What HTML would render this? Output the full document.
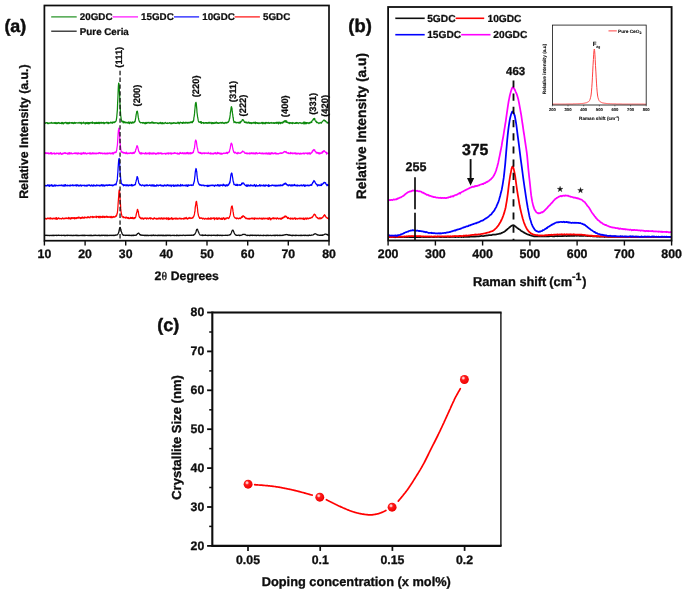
<!DOCTYPE html>
<html lang="en"><head><meta charset="utf-8"><title>Figure</title>
<style>html,body{margin:0;padding:0;background:#fff;}body{width:685px;height:593px;overflow:hidden;}svg{display:block;font-family:"Liberation Sans",sans-serif;font-weight:bold;}text{font-family:"Liberation Sans",sans-serif;font-weight:bold;text-rendering:geometricPrecision;}</style></head><body>
<svg width="685" height="593" viewBox="0 0 685 593">
<defs><filter id="soft" x="-2%" y="-2%" width="104%" height="104%"><feGaussianBlur stdDeviation="0.6"/></filter><radialGradient id="ball" cx="38%" cy="34%" r="66%"><stop offset="0" stop-color="#fff0f0"/><stop offset="0.16" stop-color="#ffb0b0"/><stop offset="0.34" stop-color="#ff1c1c"/><stop offset="1" stop-color="#ee0000"/></radialGradient></defs>
<rect width="685" height="593" fill="#ffffff"/>
<g filter="url(#soft)">
<g id="panel-a">
<path d="M44.4,123.1 L44.7,122.8 L44.9,123.1 L45.2,123.1 L45.4,123.3 L45.7,123.1 L46.0,122.6 L46.2,122.8 L46.5,122.6 L46.7,122.9 L47.0,122.9 L47.2,122.9 L47.5,123.6 L47.8,122.7 L48.0,122.8 L48.3,122.8 L48.5,123.6 L48.8,123.6 L49.1,123.3 L49.3,123.2 L49.6,122.9 L49.8,123.0 L50.1,122.8 L50.4,123.2 L50.6,122.9 L50.9,122.9 L51.1,123.2 L51.4,122.4 L51.6,122.8 L51.9,122.6 L52.2,123.2 L52.4,123.3 L52.7,123.1 L52.9,123.0 L53.2,122.8 L53.5,122.9 L53.7,123.2 L54.0,123.3 L54.2,123.2 L54.5,122.6 L54.7,123.3 L55.0,122.9 L55.3,122.8 L55.5,123.5 L55.8,123.0 L56.0,122.5 L56.3,123.7 L56.6,123.1 L56.8,123.0 L57.1,123.3 L57.3,122.8 L57.6,123.0 L57.9,123.5 L58.1,122.7 L58.4,122.8 L58.6,122.7 L58.9,122.5 L59.1,122.9 L59.4,122.9 L59.7,123.5 L59.9,122.8 L60.2,123.2 L60.4,123.2 L60.7,123.4 L61.0,123.3 L61.2,123.2 L61.5,122.5 L61.7,123.7 L62.0,123.5 L62.3,122.9 L62.5,122.5 L62.8,122.8 L63.0,123.7 L63.3,123.9 L63.5,122.9 L63.8,123.3 L64.1,123.4 L64.3,122.6 L64.6,122.6 L64.8,122.9 L65.1,122.9 L65.4,122.8 L65.6,122.4 L65.9,122.8 L66.1,122.8 L66.4,122.8 L66.7,123.6 L66.9,122.5 L67.2,122.6 L67.4,122.8 L67.7,123.7 L67.9,123.2 L68.2,122.7 L68.5,123.6 L68.7,123.1 L69.0,122.6 L69.2,123.5 L69.5,122.4 L69.8,122.8 L70.0,123.0 L70.3,122.9 L70.5,122.8 L70.8,122.9 L71.0,122.6 L71.3,123.2 L71.6,123.1 L71.8,122.6 L72.1,123.0 L72.3,123.3 L72.6,122.6 L72.9,122.5 L73.1,123.1 L73.4,123.5 L73.6,123.0 L73.9,123.0 L74.2,123.1 L74.4,122.5 L74.7,123.4 L74.9,122.5 L75.2,123.4 L75.4,123.3 L75.7,122.8 L76.0,122.6 L76.2,122.7 L76.5,122.9 L76.7,122.9 L77.0,122.9 L77.3,122.8 L77.5,123.0 L77.8,122.9 L78.0,122.8 L78.3,123.0 L78.6,122.7 L78.8,122.8 L79.1,122.3 L79.3,122.9 L79.6,123.1 L79.8,123.1 L80.1,123.0 L80.4,122.7 L80.6,123.1 L80.9,122.8 L81.1,122.3 L81.4,123.9 L81.7,123.4 L81.9,122.9 L82.2,122.8 L82.4,122.9 L82.7,123.1 L83.0,122.7 L83.2,122.9 L83.5,123.2 L83.7,122.1 L84.0,122.9 L84.2,123.2 L84.5,123.0 L84.8,123.1 L85.0,123.0 L85.3,124.0 L85.5,123.2 L85.8,122.6 L86.1,123.4 L86.3,123.0 L86.6,122.6 L86.8,122.7 L87.1,122.4 L87.3,123.6 L87.6,123.1 L87.9,123.1 L88.1,122.8 L88.4,122.6 L88.6,123.9 L88.9,122.6 L89.2,123.5 L89.4,122.7 L89.7,123.5 L89.9,122.9 L90.2,122.5 L90.5,123.0 L90.7,122.9 L91.0,122.7 L91.2,122.9 L91.5,123.0 L91.7,122.4 L92.0,122.6 L92.3,123.1 L92.5,122.0 L92.8,123.4 L93.0,122.6 L93.3,123.1 L93.6,122.9 L93.8,122.7 L94.1,122.9 L94.3,122.7 L94.6,123.5 L94.9,123.5 L95.1,122.7 L95.4,123.3 L95.6,123.3 L95.9,123.5 L96.1,122.5 L96.4,122.7 L96.7,122.4 L96.9,123.3 L97.2,123.0 L97.4,123.4 L97.7,122.7 L98.0,122.4 L98.2,123.3 L98.5,122.4 L98.7,122.6 L99.0,123.0 L99.3,123.7 L99.5,122.4 L99.8,123.0 L100.0,123.2 L100.3,122.8 L100.5,122.8 L100.8,122.4 L101.1,123.3 L101.3,122.5 L101.6,122.4 L101.8,122.4 L102.1,123.0 L102.4,123.2 L102.6,122.6 L102.9,122.9 L103.1,122.9 L103.4,122.4 L103.6,123.0 L103.9,123.7 L104.2,123.0 L104.4,123.6 L104.7,122.6 L104.9,122.8 L105.2,123.1 L105.5,122.9 L105.7,122.6 L106.0,122.9 L106.2,122.4 L106.5,122.9 L106.8,122.5 L107.0,122.3 L107.3,122.3 L107.5,123.1 L107.8,122.5 L108.0,123.5 L108.3,123.2 L108.6,123.5 L108.8,122.4 L109.1,123.2 L109.3,122.8 L109.6,122.8 L109.9,122.8 L110.1,123.0 L110.4,122.7 L110.6,122.1 L110.9,122.7 L111.2,122.5 L111.4,122.3 L111.7,122.7 L111.9,123.1 L112.2,122.8 L112.4,122.2 L112.7,123.1 L113.0,122.7 L113.2,122.1 L113.5,122.1 L113.7,122.3 L114.0,121.9 L114.3,122.1 L114.5,122.5 L114.8,122.5 L115.0,122.0 L115.3,121.3 L115.6,121.6 L115.8,121.3 L116.1,120.7 L116.3,120.1 L116.6,118.2 L116.8,116.4 L117.1,112.9 L117.4,109.7 L117.6,103.6 L117.9,98.0 L118.1,92.3 L118.4,86.1 L118.7,83.1 L118.9,83.6 L119.2,86.0 L119.4,90.7 L119.7,97.0 L119.9,102.6 L120.2,107.9 L120.5,112.2 L120.7,115.5 L121.0,117.4 L121.2,119.1 L121.5,120.1 L121.8,121.6 L122.0,121.0 L122.3,121.1 L122.5,121.9 L122.8,122.1 L123.1,121.3 L123.3,122.8 L123.6,122.0 L123.8,121.4 L124.1,122.7 L124.3,122.1 L124.6,121.8 L124.9,122.5 L125.1,122.3 L125.4,122.2 L125.6,122.9 L125.9,122.6 L126.2,122.5 L126.4,122.3 L126.7,122.7 L126.9,122.7 L127.2,123.0 L127.5,122.8 L127.7,122.4 L128.0,122.7 L128.2,123.0 L128.5,123.0 L128.7,121.8 L129.0,122.3 L129.3,122.5 L129.5,123.7 L129.8,122.5 L130.0,122.6 L130.3,122.1 L130.6,122.6 L130.8,122.8 L131.1,122.5 L131.3,123.4 L131.6,122.3 L131.8,122.6 L132.1,122.9 L132.4,122.2 L132.6,122.0 L132.9,123.1 L133.1,122.8 L133.4,122.4 L133.7,122.4 L133.9,122.5 L134.2,122.6 L134.4,121.3 L134.7,121.4 L135.0,121.7 L135.2,121.1 L135.5,119.0 L135.7,117.9 L136.0,115.9 L136.2,114.4 L136.5,113.2 L136.8,111.3 L137.0,111.5 L137.3,111.2 L137.5,112.0 L137.8,113.5 L138.1,115.8 L138.3,117.4 L138.6,118.7 L138.8,119.9 L139.1,120.7 L139.4,121.5 L139.6,122.1 L139.9,121.9 L140.1,122.3 L140.4,122.8 L140.6,122.8 L140.9,122.6 L141.2,122.7 L141.4,122.6 L141.7,122.7 L141.9,122.7 L142.2,122.8 L142.5,123.2 L142.7,122.6 L143.0,122.4 L143.2,122.7 L143.5,122.9 L143.8,122.7 L144.0,123.2 L144.3,123.5 L144.5,122.8 L144.8,123.2 L145.0,122.6 L145.3,123.3 L145.6,123.8 L145.8,123.3 L146.1,122.3 L146.3,123.0 L146.6,123.4 L146.9,123.2 L147.1,122.7 L147.4,122.7 L147.6,122.9 L147.9,122.4 L148.1,122.7 L148.4,122.9 L148.7,122.7 L148.9,122.3 L149.2,122.6 L149.4,122.6 L149.7,123.3 L150.0,123.0 L150.2,122.7 L150.5,123.0 L150.7,122.6 L151.0,122.7 L151.3,122.6 L151.5,123.0 L151.8,122.0 L152.0,122.5 L152.3,123.0 L152.5,122.9 L152.8,122.0 L153.1,123.1 L153.3,122.6 L153.6,122.6 L153.8,123.0 L154.1,123.4 L154.4,122.9 L154.6,122.8 L154.9,122.6 L155.1,122.7 L155.4,123.0 L155.7,122.7 L155.9,122.8 L156.2,122.9 L156.4,122.9 L156.7,123.1 L156.9,122.7 L157.2,123.3 L157.5,123.2 L157.7,123.0 L158.0,123.5 L158.2,123.1 L158.5,123.7 L158.8,123.2 L159.0,122.8 L159.3,122.8 L159.5,123.0 L159.8,123.1 L160.1,123.5 L160.3,122.3 L160.6,122.8 L160.8,122.6 L161.1,123.3 L161.3,123.0 L161.6,123.6 L161.9,122.7 L162.1,122.6 L162.4,123.7 L162.6,123.0 L162.9,122.7 L163.2,123.6 L163.4,123.6 L163.7,123.4 L163.9,123.2 L164.2,123.5 L164.4,123.0 L164.7,122.9 L165.0,122.7 L165.2,122.7 L165.5,122.4 L165.7,122.6 L166.0,123.4 L166.3,123.2 L166.5,123.4 L166.8,123.4 L167.0,123.0 L167.3,123.0 L167.6,122.8 L167.8,123.5 L168.1,123.4 L168.3,123.0 L168.6,123.0 L168.8,123.1 L169.1,123.0 L169.4,123.2 L169.6,122.7 L169.9,122.8 L170.1,123.0 L170.4,123.2 L170.7,123.0 L170.9,123.9 L171.2,123.3 L171.4,123.0 L171.7,123.5 L172.0,122.9 L172.2,122.9 L172.5,123.5 L172.7,123.1 L173.0,123.1 L173.2,122.8 L173.5,122.7 L173.8,123.0 L174.0,123.3 L174.3,123.0 L174.5,123.0 L174.8,122.7 L175.1,122.9 L175.3,123.2 L175.6,123.4 L175.8,123.1 L176.1,123.2 L176.4,123.4 L176.6,123.0 L176.9,123.1 L177.1,122.9 L177.4,122.8 L177.6,123.1 L177.9,122.1 L178.2,123.1 L178.4,122.6 L178.7,122.9 L178.9,122.5 L179.2,123.8 L179.5,123.2 L179.7,122.9 L180.0,122.7 L180.2,122.1 L180.5,122.8 L180.7,122.5 L181.0,122.7 L181.3,122.6 L181.5,122.7 L181.8,123.0 L182.0,122.7 L182.3,123.3 L182.6,122.5 L182.8,123.3 L183.1,122.8 L183.3,122.2 L183.6,123.0 L183.9,122.9 L184.1,122.5 L184.4,122.9 L184.6,123.2 L184.9,122.8 L185.1,122.7 L185.4,122.6 L185.7,123.2 L185.9,122.2 L186.2,122.3 L186.4,122.9 L186.7,122.8 L187.0,123.0 L187.2,122.3 L187.5,123.1 L187.7,122.6 L188.0,123.0 L188.3,123.0 L188.5,122.5 L188.8,122.3 L189.0,122.8 L189.3,123.0 L189.5,122.4 L189.8,122.7 L190.1,122.5 L190.3,122.1 L190.6,122.2 L190.8,122.7 L191.1,121.7 L191.4,122.5 L191.6,122.1 L191.9,122.5 L192.1,122.2 L192.4,122.7 L192.7,121.2 L192.9,121.1 L193.2,121.5 L193.4,121.0 L193.7,120.0 L193.9,117.6 L194.2,116.3 L194.5,113.9 L194.7,111.3 L195.0,108.3 L195.2,105.9 L195.5,103.2 L195.8,102.6 L196.0,102.3 L196.3,103.7 L196.5,106.1 L196.8,109.2 L197.0,112.3 L197.3,114.5 L197.6,116.9 L197.8,117.9 L198.1,119.5 L198.3,120.7 L198.6,121.4 L198.9,121.9 L199.1,122.3 L199.4,122.2 L199.6,122.1 L199.9,122.1 L200.2,122.2 L200.4,121.7 L200.7,122.8 L200.9,122.6 L201.2,121.6 L201.4,123.3 L201.7,122.9 L202.0,122.6 L202.2,122.7 L202.5,122.6 L202.7,122.8 L203.0,122.6 L203.3,122.8 L203.5,122.5 L203.8,123.5 L204.0,123.1 L204.3,122.8 L204.6,123.2 L204.8,123.2 L205.1,122.6 L205.3,123.1 L205.6,122.6 L205.8,122.6 L206.1,122.8 L206.4,122.7 L206.6,122.9 L206.9,123.4 L207.1,122.9 L207.4,122.7 L207.7,123.1 L207.9,122.9 L208.2,122.6 L208.4,123.2 L208.7,122.7 L209.0,122.2 L209.2,123.1 L209.5,122.9 L209.7,123.0 L210.0,122.4 L210.2,122.8 L210.5,122.6 L210.8,123.2 L211.0,122.9 L211.3,122.9 L211.5,123.6 L211.8,122.4 L212.1,122.6 L212.3,123.6 L212.6,122.7 L212.8,123.0 L213.1,122.8 L213.3,122.8 L213.6,123.5 L213.9,123.0 L214.1,122.4 L214.4,123.1 L214.6,123.3 L214.9,123.4 L215.2,123.4 L215.4,122.8 L215.7,122.3 L215.9,122.8 L216.2,122.8 L216.5,122.1 L216.7,123.1 L217.0,123.2 L217.2,122.7 L217.5,122.7 L217.7,123.3 L218.0,123.3 L218.3,122.8 L218.5,122.8 L218.8,123.4 L219.0,123.0 L219.3,123.1 L219.6,122.7 L219.8,122.9 L220.1,122.9 L220.3,123.0 L220.6,122.5 L220.9,122.4 L221.1,123.0 L221.4,122.6 L221.6,123.2 L221.9,122.9 L222.1,122.6 L222.4,122.3 L222.7,123.0 L222.9,122.9 L223.2,122.8 L223.4,123.4 L223.7,122.8 L224.0,123.1 L224.2,122.7 L224.5,123.2 L224.7,123.5 L225.0,122.8 L225.3,122.7 L225.5,122.9 L225.8,122.4 L226.0,122.8 L226.3,122.9 L226.5,122.5 L226.8,123.2 L227.1,122.8 L227.3,122.5 L227.6,122.1 L227.8,122.4 L228.1,122.1 L228.4,122.2 L228.6,121.6 L228.9,120.7 L229.1,120.9 L229.4,118.9 L229.6,118.8 L229.9,116.9 L230.2,114.9 L230.4,112.5 L230.7,111.1 L230.9,109.5 L231.2,107.1 L231.5,106.7 L231.7,107.4 L232.0,108.3 L232.2,111.2 L232.5,113.4 L232.8,115.2 L233.0,117.3 L233.3,118.3 L233.5,120.5 L233.8,121.0 L234.0,122.7 L234.3,121.5 L234.6,122.2 L234.8,121.9 L235.1,121.6 L235.3,122.4 L235.6,122.6 L235.9,122.7 L236.1,122.9 L236.4,122.8 L236.6,122.4 L236.9,122.6 L237.2,122.6 L237.4,122.7 L237.7,122.4 L237.9,122.5 L238.2,122.8 L238.4,122.5 L238.7,122.8 L239.0,123.1 L239.2,122.2 L239.5,122.5 L239.7,123.0 L240.0,122.2 L240.3,122.3 L240.5,122.9 L240.8,121.5 L241.0,121.7 L241.3,121.2 L241.6,121.1 L241.8,120.8 L242.1,120.9 L242.3,119.7 L242.6,119.8 L242.8,119.8 L243.1,119.7 L243.4,120.1 L243.6,120.2 L243.9,121.0 L244.1,121.3 L244.4,122.4 L244.7,122.1 L244.9,122.0 L245.2,121.9 L245.4,122.7 L245.7,122.7 L245.9,122.1 L246.2,122.9 L246.5,122.5 L246.7,122.2 L247.0,122.8 L247.2,122.4 L247.5,123.1 L247.8,122.8 L248.0,122.9 L248.3,122.9 L248.5,122.5 L248.8,122.0 L249.1,123.2 L249.3,123.1 L249.6,122.7 L249.8,123.3 L250.1,122.7 L250.3,122.7 L250.6,123.0 L250.9,122.7 L251.1,123.5 L251.4,122.7 L251.6,123.5 L251.9,123.2 L252.2,123.1 L252.4,123.1 L252.7,122.6 L252.9,122.9 L253.2,123.1 L253.5,122.8 L253.7,122.4 L254.0,123.0 L254.2,122.8 L254.5,122.5 L254.7,122.9 L255.0,123.4 L255.3,122.1 L255.5,122.2 L255.8,123.7 L256.0,123.0 L256.3,122.8 L256.6,122.6 L256.8,122.7 L257.1,123.1 L257.3,123.3 L257.6,122.9 L257.9,122.6 L258.1,123.4 L258.4,123.3 L258.6,123.0 L258.9,123.7 L259.1,123.1 L259.4,123.1 L259.7,122.8 L259.9,123.2 L260.2,123.3 L260.4,123.1 L260.7,123.0 L261.0,123.2 L261.2,123.0 L261.5,122.7 L261.7,122.5 L262.0,122.4 L262.2,123.3 L262.5,123.1 L262.8,123.9 L263.0,122.3 L263.3,123.2 L263.5,123.0 L263.8,122.8 L264.1,123.5 L264.3,122.8 L264.6,123.0 L264.8,123.6 L265.1,122.9 L265.4,122.5 L265.6,123.7 L265.9,122.7 L266.1,122.9 L266.4,122.8 L266.6,122.8 L266.9,122.5 L267.2,123.1 L267.4,122.7 L267.7,123.1 L267.9,122.7 L268.2,123.3 L268.5,123.0 L268.7,122.4 L269.0,122.8 L269.2,123.0 L269.5,123.4 L269.8,123.3 L270.0,122.9 L270.3,122.6 L270.5,122.8 L270.8,122.8 L271.0,123.0 L271.3,122.5 L271.6,123.1 L271.8,123.2 L272.1,122.7 L272.3,123.0 L272.6,123.1 L272.9,123.2 L273.1,123.1 L273.4,122.7 L273.6,122.8 L273.9,123.4 L274.1,122.8 L274.4,122.9 L274.7,123.3 L274.9,122.7 L275.2,123.1 L275.4,123.1 L275.7,122.7 L276.0,122.5 L276.2,123.2 L276.5,122.8 L276.7,123.3 L277.0,122.1 L277.3,123.1 L277.5,122.5 L277.8,123.2 L278.0,122.7 L278.3,122.2 L278.5,123.9 L278.8,123.1 L279.1,122.8 L279.3,123.0 L279.6,123.2 L279.8,122.2 L280.1,122.9 L280.4,123.5 L280.6,122.6 L280.9,123.5 L281.1,122.5 L281.4,123.0 L281.7,122.8 L281.9,122.3 L282.2,122.6 L282.4,123.1 L282.7,123.1 L282.9,121.9 L283.2,121.9 L283.5,122.3 L283.7,121.4 L284.0,121.3 L284.2,121.1 L284.5,121.9 L284.8,121.1 L285.0,120.6 L285.3,120.6 L285.5,120.7 L285.8,122.1 L286.1,121.3 L286.3,121.4 L286.6,120.9 L286.8,122.4 L287.1,122.4 L287.3,122.4 L287.6,122.2 L287.9,122.8 L288.1,122.3 L288.4,123.1 L288.6,122.7 L288.9,123.0 L289.2,122.8 L289.4,123.1 L289.7,123.5 L289.9,122.5 L290.2,122.8 L290.4,123.1 L290.7,122.9 L291.0,122.6 L291.2,123.3 L291.5,123.0 L291.7,122.8 L292.0,122.8 L292.3,123.1 L292.5,123.7 L292.8,122.5 L293.0,122.8 L293.3,123.0 L293.6,123.1 L293.8,122.9 L294.1,123.1 L294.3,123.3 L294.6,123.2 L294.8,123.2 L295.1,123.2 L295.4,123.4 L295.6,122.7 L295.9,123.4 L296.1,122.7 L296.4,123.3 L296.7,122.8 L296.9,122.5 L297.2,122.9 L297.4,123.2 L297.7,122.9 L298.0,122.9 L298.2,123.6 L298.5,123.2 L298.7,122.9 L299.0,123.1 L299.2,122.9 L299.5,122.7 L299.8,122.7 L300.0,122.6 L300.3,122.8 L300.5,123.1 L300.8,123.0 L301.1,123.1 L301.3,123.1 L301.6,123.0 L301.8,123.6 L302.1,123.1 L302.4,123.0 L302.6,123.3 L302.9,123.0 L303.1,122.8 L303.4,123.0 L303.6,122.2 L303.9,123.9 L304.2,123.0 L304.4,123.6 L304.7,122.6 L304.9,122.0 L305.2,123.8 L305.5,122.9 L305.7,122.7 L306.0,123.0 L306.2,122.7 L306.5,123.7 L306.7,122.6 L307.0,122.8 L307.3,122.9 L307.5,123.1 L307.8,122.7 L308.0,123.1 L308.3,122.8 L308.6,123.0 L308.8,123.7 L309.1,122.8 L309.3,122.7 L309.6,122.5 L309.9,123.1 L310.1,122.7 L310.4,122.4 L310.6,122.5 L310.9,122.0 L311.1,121.6 L311.4,122.4 L311.7,122.5 L311.9,121.2 L312.2,120.6 L312.4,120.4 L312.7,120.0 L313.0,120.1 L313.2,119.7 L313.5,118.7 L313.7,119.2 L314.0,119.4 L314.3,119.2 L314.5,118.3 L314.8,118.8 L315.0,120.2 L315.3,120.7 L315.5,120.8 L315.8,121.5 L316.1,121.1 L316.3,121.9 L316.6,122.5 L316.8,121.9 L317.1,122.7 L317.4,122.5 L317.6,122.6 L317.9,122.8 L318.1,122.6 L318.4,123.0 L318.7,123.4 L318.9,123.6 L319.2,123.2 L319.4,123.1 L319.7,122.8 L319.9,122.7 L320.2,122.5 L320.5,122.7 L320.7,123.0 L321.0,122.9 L321.2,123.3 L321.5,122.5 L321.8,122.1 L322.0,121.9 L322.3,121.9 L322.5,121.7 L322.8,121.0 L323.0,121.0 L323.3,120.5 L323.6,120.3 L323.8,120.3 L324.1,119.8 L324.3,120.5 L324.6,120.6 L324.9,121.0 L325.1,121.2 L325.4,120.7 L325.6,120.9 L325.9,121.8 L326.2,121.8 L326.4,121.8 L326.7,122.1 L326.9,122.1 L327.2,123.1 L327.4,122.9 L327.7,122.6 L328.0,122.3 L328.2,122.8 L328.5,123.2 L328.7,123.0 L329.0,123.1" fill="none" stroke="#108a10" stroke-width="1.25" stroke-linejoin="round"/>
<path d="M44.4,153.7 L44.7,152.9 L44.9,153.6 L45.2,153.4 L45.4,152.6 L45.7,153.0 L46.0,153.3 L46.2,153.6 L46.5,153.2 L46.7,152.8 L47.0,153.2 L47.2,152.9 L47.5,153.4 L47.8,153.2 L48.0,153.5 L48.3,153.2 L48.5,152.9 L48.8,153.9 L49.1,153.4 L49.3,153.3 L49.6,153.6 L49.8,153.5 L50.1,153.1 L50.4,152.7 L50.6,153.2 L50.9,153.3 L51.1,154.0 L51.4,152.7 L51.6,153.4 L51.9,153.4 L52.2,153.8 L52.4,153.4 L52.7,153.8 L52.9,153.4 L53.2,153.2 L53.5,153.4 L53.7,153.3 L54.0,153.7 L54.2,152.9 L54.5,153.6 L54.7,154.1 L55.0,153.5 L55.3,153.7 L55.5,153.8 L55.8,153.5 L56.0,153.3 L56.3,153.8 L56.6,153.4 L56.8,152.9 L57.1,153.1 L57.3,153.5 L57.6,153.3 L57.9,153.4 L58.1,153.4 L58.4,153.1 L58.6,153.4 L58.9,154.3 L59.1,153.4 L59.4,153.7 L59.7,153.2 L59.9,153.6 L60.2,153.3 L60.4,152.6 L60.7,153.8 L61.0,153.8 L61.2,153.9 L61.5,154.3 L61.7,154.1 L62.0,153.3 L62.3,153.6 L62.5,154.1 L62.8,153.9 L63.0,153.2 L63.3,153.7 L63.5,153.5 L63.8,153.3 L64.1,152.9 L64.3,152.7 L64.6,153.0 L64.8,153.3 L65.1,153.3 L65.4,152.7 L65.6,152.9 L65.9,153.5 L66.1,153.2 L66.4,153.3 L66.7,153.4 L66.9,153.6 L67.2,153.9 L67.4,153.6 L67.7,154.0 L67.9,153.0 L68.2,153.2 L68.5,153.8 L68.7,152.9 L69.0,153.1 L69.2,154.1 L69.5,152.7 L69.8,153.1 L70.0,152.7 L70.3,153.8 L70.5,153.2 L70.8,153.2 L71.0,153.3 L71.3,153.3 L71.6,153.0 L71.8,153.9 L72.1,153.8 L72.3,153.9 L72.6,153.6 L72.9,153.6 L73.1,153.3 L73.4,153.3 L73.6,153.4 L73.9,153.6 L74.2,153.6 L74.4,153.0 L74.7,153.1 L74.9,153.4 L75.2,153.5 L75.4,152.8 L75.7,153.6 L76.0,153.2 L76.2,153.0 L76.5,153.5 L76.7,153.1 L77.0,153.8 L77.3,153.0 L77.5,153.3 L77.8,154.0 L78.0,153.2 L78.3,153.7 L78.6,152.9 L78.8,153.6 L79.1,153.5 L79.3,153.3 L79.6,153.5 L79.8,153.3 L80.1,153.6 L80.4,153.1 L80.6,153.4 L80.9,153.3 L81.1,154.4 L81.4,153.0 L81.7,153.4 L81.9,154.0 L82.2,153.4 L82.4,153.2 L82.7,153.0 L83.0,153.8 L83.2,152.8 L83.5,153.4 L83.7,152.5 L84.0,153.4 L84.2,153.1 L84.5,153.5 L84.8,153.8 L85.0,153.0 L85.3,153.1 L85.5,152.8 L85.8,153.1 L86.1,153.6 L86.3,154.0 L86.6,153.6 L86.8,153.6 L87.1,153.7 L87.3,153.2 L87.6,153.3 L87.9,153.5 L88.1,153.3 L88.4,153.4 L88.6,153.3 L88.9,153.1 L89.2,153.0 L89.4,153.6 L89.7,153.9 L89.9,152.9 L90.2,153.3 L90.5,153.0 L90.7,154.0 L91.0,153.5 L91.2,153.4 L91.5,153.9 L91.7,153.6 L92.0,153.1 L92.3,153.0 L92.5,152.8 L92.8,153.7 L93.0,153.9 L93.3,153.2 L93.6,153.0 L93.8,153.3 L94.1,153.8 L94.3,153.1 L94.6,153.1 L94.9,153.2 L95.1,153.6 L95.4,153.3 L95.6,153.1 L95.9,153.6 L96.1,154.0 L96.4,153.3 L96.7,153.2 L96.9,153.4 L97.2,153.1 L97.4,153.6 L97.7,153.4 L98.0,153.5 L98.2,153.2 L98.5,152.8 L98.7,153.5 L99.0,152.6 L99.3,152.8 L99.5,153.1 L99.8,153.2 L100.0,152.7 L100.3,153.4 L100.5,153.4 L100.8,153.7 L101.1,153.2 L101.3,152.9 L101.6,153.2 L101.8,153.2 L102.1,153.4 L102.4,153.3 L102.6,153.9 L102.9,153.0 L103.1,153.5 L103.4,153.7 L103.6,153.6 L103.9,153.6 L104.2,153.0 L104.4,153.0 L104.7,153.8 L104.9,153.0 L105.2,153.0 L105.5,153.5 L105.7,153.9 L106.0,153.6 L106.2,153.6 L106.5,153.2 L106.8,153.4 L107.0,154.0 L107.3,153.2 L107.5,153.9 L107.8,153.0 L108.0,153.7 L108.3,153.5 L108.6,153.6 L108.8,153.5 L109.1,152.8 L109.3,153.0 L109.6,153.0 L109.9,153.1 L110.1,153.8 L110.4,153.4 L110.6,153.4 L110.9,153.6 L111.2,153.0 L111.4,153.5 L111.7,153.4 L111.9,153.5 L112.2,153.9 L112.4,152.9 L112.7,152.6 L113.0,153.0 L113.2,153.4 L113.5,154.0 L113.7,152.9 L114.0,152.5 L114.3,152.8 L114.5,152.5 L114.8,152.2 L115.0,152.2 L115.3,152.7 L115.6,152.0 L115.8,151.9 L116.1,152.4 L116.3,151.4 L116.6,150.9 L116.8,149.1 L117.1,147.0 L117.4,145.1 L117.6,142.2 L117.9,137.4 L118.1,133.9 L118.4,130.2 L118.7,129.2 L118.9,128.2 L119.2,129.6 L119.4,132.8 L119.7,137.4 L119.9,140.9 L120.2,144.3 L120.5,146.5 L120.7,148.5 L121.0,150.2 L121.2,151.6 L121.5,151.5 L121.8,152.3 L122.0,152.1 L122.3,152.4 L122.5,152.0 L122.8,152.3 L123.1,153.0 L123.3,152.7 L123.6,152.3 L123.8,153.1 L124.1,152.8 L124.3,152.6 L124.6,152.6 L124.9,152.9 L125.1,153.6 L125.4,153.6 L125.6,153.0 L125.9,153.0 L126.2,152.2 L126.4,153.5 L126.7,152.8 L126.9,152.9 L127.2,153.8 L127.5,153.5 L127.7,153.2 L128.0,153.4 L128.2,153.3 L128.5,153.1 L128.7,153.5 L129.0,153.1 L129.3,153.5 L129.5,153.4 L129.8,153.0 L130.0,153.4 L130.3,153.1 L130.6,152.7 L130.8,153.2 L131.1,153.3 L131.3,153.0 L131.6,153.4 L131.8,152.8 L132.1,153.7 L132.4,153.0 L132.6,153.4 L132.9,153.4 L133.1,152.5 L133.4,153.4 L133.7,152.4 L133.9,152.8 L134.2,152.4 L134.4,153.2 L134.7,152.2 L135.0,151.8 L135.2,151.9 L135.5,151.3 L135.7,149.6 L136.0,149.4 L136.2,148.4 L136.5,147.4 L136.8,146.1 L137.0,145.7 L137.3,145.9 L137.5,146.0 L137.8,147.8 L138.1,148.6 L138.3,149.4 L138.6,151.2 L138.8,151.2 L139.1,151.5 L139.4,153.0 L139.6,153.1 L139.9,153.3 L140.1,153.7 L140.4,152.9 L140.6,153.8 L140.9,153.0 L141.2,152.7 L141.4,153.8 L141.7,153.3 L141.9,153.9 L142.2,153.0 L142.5,153.5 L142.7,153.4 L143.0,153.3 L143.2,153.1 L143.5,153.4 L143.8,153.3 L144.0,153.5 L144.3,153.3 L144.5,153.7 L144.8,153.3 L145.0,154.0 L145.3,153.5 L145.6,152.6 L145.8,153.3 L146.1,153.8 L146.3,153.2 L146.6,153.7 L146.9,153.9 L147.1,153.6 L147.4,153.1 L147.6,153.2 L147.9,153.4 L148.1,153.7 L148.4,153.7 L148.7,152.9 L148.9,153.3 L149.2,153.7 L149.4,154.1 L149.7,153.9 L150.0,152.5 L150.2,153.8 L150.5,153.4 L150.7,153.3 L151.0,153.4 L151.3,153.5 L151.5,153.9 L151.8,153.7 L152.0,152.8 L152.3,153.6 L152.5,153.1 L152.8,154.0 L153.1,153.5 L153.3,153.3 L153.6,153.0 L153.8,153.8 L154.1,153.2 L154.4,153.2 L154.6,153.6 L154.9,153.2 L155.1,153.7 L155.4,153.7 L155.7,153.4 L155.9,154.4 L156.2,153.4 L156.4,153.7 L156.7,153.9 L156.9,153.5 L157.2,153.1 L157.5,153.5 L157.7,152.9 L158.0,153.8 L158.2,153.9 L158.5,152.8 L158.8,153.2 L159.0,153.0 L159.3,153.7 L159.5,153.1 L159.8,153.3 L160.1,153.1 L160.3,153.4 L160.6,152.9 L160.8,153.6 L161.1,153.7 L161.3,153.9 L161.6,153.0 L161.9,153.6 L162.1,153.8 L162.4,153.7 L162.6,153.5 L162.9,153.8 L163.2,153.5 L163.4,153.6 L163.7,153.6 L163.9,153.7 L164.2,153.4 L164.4,153.5 L164.7,153.3 L165.0,153.3 L165.2,153.3 L165.5,154.2 L165.7,153.6 L166.0,153.7 L166.3,153.1 L166.5,153.9 L166.8,153.6 L167.0,153.5 L167.3,153.5 L167.6,153.0 L167.8,153.5 L168.1,153.0 L168.3,153.9 L168.6,154.0 L168.8,152.9 L169.1,153.2 L169.4,153.2 L169.6,153.3 L169.9,153.2 L170.1,153.8 L170.4,153.0 L170.7,153.6 L170.9,153.0 L171.2,153.3 L171.4,154.1 L171.7,153.8 L172.0,153.0 L172.2,153.4 L172.5,153.5 L172.7,153.3 L173.0,153.5 L173.2,153.6 L173.5,153.3 L173.8,153.3 L174.0,152.8 L174.3,153.4 L174.5,152.7 L174.8,152.7 L175.1,152.8 L175.3,153.0 L175.6,153.3 L175.8,153.3 L176.1,153.4 L176.4,153.6 L176.6,153.4 L176.9,153.6 L177.1,152.8 L177.4,153.2 L177.6,153.5 L177.9,154.1 L178.2,153.4 L178.4,153.5 L178.7,153.8 L178.9,153.8 L179.2,154.2 L179.5,153.2 L179.7,153.4 L180.0,152.4 L180.2,153.4 L180.5,153.4 L180.7,152.8 L181.0,153.3 L181.3,153.3 L181.5,153.5 L181.8,153.6 L182.0,152.8 L182.3,153.0 L182.6,152.7 L182.8,153.5 L183.1,153.3 L183.3,153.7 L183.6,153.0 L183.9,153.8 L184.1,153.1 L184.4,152.9 L184.6,152.8 L184.9,153.7 L185.1,152.9 L185.4,153.6 L185.7,153.6 L185.9,153.8 L186.2,152.9 L186.4,152.7 L186.7,153.5 L187.0,153.6 L187.2,153.4 L187.5,152.4 L187.7,152.9 L188.0,153.5 L188.3,153.9 L188.5,153.5 L188.8,152.8 L189.0,152.6 L189.3,153.3 L189.5,153.5 L189.8,153.4 L190.1,153.9 L190.3,152.8 L190.6,153.5 L190.8,152.7 L191.1,153.7 L191.4,153.5 L191.6,152.9 L191.9,153.2 L192.1,152.6 L192.4,152.8 L192.7,153.1 L192.9,152.2 L193.2,151.8 L193.4,152.4 L193.7,150.4 L193.9,149.9 L194.2,148.6 L194.5,148.1 L194.7,145.9 L195.0,143.8 L195.2,141.5 L195.5,140.9 L195.8,140.0 L196.0,140.5 L196.3,140.9 L196.5,142.3 L196.8,144.9 L197.0,146.3 L197.3,147.7 L197.6,148.7 L197.8,150.2 L198.1,151.4 L198.3,152.3 L198.6,152.6 L198.9,152.8 L199.1,152.6 L199.4,152.8 L199.6,152.3 L199.9,152.9 L200.2,153.4 L200.4,152.5 L200.7,152.7 L200.9,153.1 L201.2,153.4 L201.4,153.8 L201.7,153.5 L202.0,152.9 L202.2,153.5 L202.5,153.7 L202.7,153.2 L203.0,153.2 L203.3,153.0 L203.5,153.0 L203.8,152.8 L204.0,153.6 L204.3,152.9 L204.6,153.6 L204.8,153.0 L205.1,153.2 L205.3,153.2 L205.6,153.0 L205.8,153.3 L206.1,152.9 L206.4,153.0 L206.6,153.3 L206.9,153.5 L207.1,153.6 L207.4,153.5 L207.7,153.4 L207.9,153.3 L208.2,152.3 L208.4,153.1 L208.7,153.1 L209.0,153.7 L209.2,153.6 L209.5,153.5 L209.7,153.3 L210.0,153.7 L210.2,152.8 L210.5,153.6 L210.8,153.0 L211.0,154.2 L211.3,153.4 L211.5,153.3 L211.8,153.3 L212.1,153.1 L212.3,153.3 L212.6,153.3 L212.8,154.0 L213.1,153.6 L213.3,154.2 L213.6,153.1 L213.9,153.2 L214.1,153.4 L214.4,153.6 L214.6,153.6 L214.9,152.7 L215.2,152.7 L215.4,153.4 L215.7,152.9 L215.9,153.9 L216.2,154.0 L216.5,153.5 L216.7,153.7 L217.0,153.6 L217.2,153.3 L217.5,152.3 L217.7,153.6 L218.0,153.3 L218.3,153.2 L218.5,153.4 L218.8,153.0 L219.0,152.7 L219.3,153.8 L219.6,153.3 L219.8,153.4 L220.1,153.2 L220.3,153.9 L220.6,154.0 L220.9,154.2 L221.1,153.1 L221.4,153.3 L221.6,153.3 L221.9,154.2 L222.1,153.5 L222.4,153.6 L222.7,153.8 L222.9,153.6 L223.2,153.1 L223.4,153.1 L223.7,153.3 L224.0,153.1 L224.2,153.5 L224.5,153.2 L224.7,153.2 L225.0,153.1 L225.3,153.3 L225.5,153.3 L225.8,153.3 L226.0,153.4 L226.3,152.4 L226.5,153.0 L226.8,153.0 L227.1,152.3 L227.3,152.6 L227.6,153.6 L227.8,152.7 L228.1,152.6 L228.4,152.1 L228.6,152.1 L228.9,152.0 L229.1,152.3 L229.4,151.6 L229.6,150.4 L229.9,149.3 L230.2,148.6 L230.4,146.9 L230.7,145.5 L230.9,144.1 L231.2,143.1 L231.5,143.1 L231.7,143.9 L232.0,144.0 L232.2,145.2 L232.5,147.2 L232.8,148.2 L233.0,149.6 L233.3,150.5 L233.5,151.3 L233.8,152.3 L234.0,152.2 L234.3,152.3 L234.6,153.1 L234.8,152.2 L235.1,152.2 L235.3,152.4 L235.6,152.3 L235.9,152.8 L236.1,153.2 L236.4,153.4 L236.6,153.5 L236.9,153.1 L237.2,153.2 L237.4,153.0 L237.7,153.9 L237.9,152.4 L238.2,152.4 L238.4,153.2 L238.7,153.0 L239.0,153.0 L239.2,153.1 L239.5,153.3 L239.7,153.2 L240.0,153.4 L240.3,153.0 L240.5,153.0 L240.8,152.7 L241.0,153.0 L241.3,152.5 L241.6,152.2 L241.8,151.8 L242.1,152.1 L242.3,151.4 L242.6,151.0 L242.8,151.1 L243.1,151.6 L243.4,151.8 L243.6,151.9 L243.9,151.8 L244.1,151.8 L244.4,152.6 L244.7,153.0 L244.9,152.8 L245.2,153.0 L245.4,153.4 L245.7,153.4 L245.9,153.3 L246.2,153.0 L246.5,153.7 L246.7,153.7 L247.0,153.1 L247.2,153.8 L247.5,153.3 L247.8,153.2 L248.0,153.4 L248.3,153.7 L248.5,153.4 L248.8,153.5 L249.1,153.2 L249.3,153.6 L249.6,153.0 L249.8,154.0 L250.1,153.4 L250.3,153.4 L250.6,153.0 L250.9,153.6 L251.1,153.2 L251.4,153.6 L251.6,153.1 L251.9,152.7 L252.2,153.5 L252.4,153.2 L252.7,153.7 L252.9,153.0 L253.2,152.9 L253.5,153.4 L253.7,153.8 L254.0,153.2 L254.2,153.0 L254.5,153.0 L254.7,153.1 L255.0,154.0 L255.3,153.6 L255.5,152.9 L255.8,153.8 L256.0,153.0 L256.3,152.7 L256.6,153.1 L256.8,153.0 L257.1,153.5 L257.3,153.8 L257.6,153.4 L257.9,153.5 L258.1,153.4 L258.4,153.1 L258.6,153.4 L258.9,153.3 L259.1,153.2 L259.4,153.4 L259.7,152.7 L259.9,153.2 L260.2,153.4 L260.4,153.5 L260.7,153.6 L261.0,152.9 L261.2,153.3 L261.5,153.8 L261.7,153.6 L262.0,153.4 L262.2,153.5 L262.5,153.0 L262.8,153.8 L263.0,153.2 L263.3,153.3 L263.5,153.8 L263.8,153.4 L264.1,153.4 L264.3,153.2 L264.6,153.5 L264.8,153.3 L265.1,154.0 L265.4,153.8 L265.6,153.1 L265.9,153.0 L266.1,153.4 L266.4,153.6 L266.6,153.0 L266.9,154.1 L267.2,153.7 L267.4,153.1 L267.7,153.1 L267.9,153.8 L268.2,154.1 L268.5,152.9 L268.7,153.3 L269.0,153.7 L269.2,153.4 L269.5,153.1 L269.8,154.3 L270.0,153.0 L270.3,153.1 L270.5,154.1 L270.8,153.1 L271.0,154.0 L271.3,153.0 L271.6,153.2 L271.8,152.6 L272.1,153.6 L272.3,153.4 L272.6,153.0 L272.9,153.6 L273.1,153.6 L273.4,153.5 L273.6,153.4 L273.9,153.8 L274.1,153.2 L274.4,153.2 L274.7,153.4 L274.9,152.8 L275.2,153.5 L275.4,152.9 L275.7,153.6 L276.0,153.1 L276.2,154.1 L276.5,153.3 L276.7,153.4 L277.0,153.5 L277.3,153.6 L277.5,153.5 L277.8,153.6 L278.0,154.2 L278.3,153.6 L278.5,153.6 L278.8,153.5 L279.1,153.7 L279.3,153.4 L279.6,153.1 L279.8,153.4 L280.1,153.5 L280.4,152.8 L280.6,153.0 L280.9,153.0 L281.1,152.9 L281.4,153.4 L281.7,153.3 L281.9,152.8 L282.2,153.3 L282.4,153.1 L282.7,152.8 L282.9,152.7 L283.2,152.8 L283.5,152.2 L283.7,152.4 L284.0,151.9 L284.2,151.6 L284.5,151.5 L284.8,151.4 L285.0,152.0 L285.3,152.1 L285.5,151.9 L285.8,151.7 L286.1,151.5 L286.3,152.7 L286.6,152.3 L286.8,152.9 L287.1,153.0 L287.3,153.0 L287.6,152.8 L287.9,153.0 L288.1,152.7 L288.4,153.6 L288.6,152.9 L288.9,152.9 L289.2,153.3 L289.4,153.1 L289.7,153.5 L289.9,153.7 L290.2,153.5 L290.4,153.6 L290.7,152.3 L291.0,153.5 L291.2,152.8 L291.5,153.3 L291.7,153.2 L292.0,153.1 L292.3,153.6 L292.5,153.0 L292.8,153.2 L293.0,153.9 L293.3,153.1 L293.6,153.2 L293.8,153.2 L294.1,152.8 L294.3,153.5 L294.6,153.2 L294.8,153.1 L295.1,153.7 L295.4,152.9 L295.6,153.9 L295.9,153.8 L296.1,153.2 L296.4,153.8 L296.7,153.4 L296.9,154.0 L297.2,153.3 L297.4,153.8 L297.7,153.2 L298.0,153.9 L298.2,153.2 L298.5,153.5 L298.7,153.3 L299.0,153.4 L299.2,153.3 L299.5,153.8 L299.8,154.3 L300.0,153.4 L300.3,153.7 L300.5,153.5 L300.8,153.2 L301.1,154.1 L301.3,153.6 L301.6,153.6 L301.8,153.7 L302.1,153.2 L302.4,153.4 L302.6,153.7 L302.9,153.7 L303.1,153.1 L303.4,153.6 L303.6,153.1 L303.9,153.2 L304.2,154.0 L304.4,153.7 L304.7,153.4 L304.9,153.2 L305.2,153.1 L305.5,153.1 L305.7,153.0 L306.0,153.5 L306.2,153.4 L306.5,153.1 L306.7,153.5 L307.0,152.9 L307.3,153.9 L307.5,153.1 L307.8,153.4 L308.0,154.0 L308.3,152.9 L308.6,153.2 L308.8,153.3 L309.1,153.6 L309.3,153.4 L309.6,152.7 L309.9,153.5 L310.1,154.4 L310.4,153.4 L310.6,153.5 L310.9,153.0 L311.1,152.9 L311.4,153.0 L311.7,152.7 L311.9,151.8 L312.2,152.3 L312.4,150.8 L312.7,151.3 L313.0,151.1 L313.2,150.0 L313.5,149.8 L313.7,150.2 L314.0,149.5 L314.3,150.5 L314.5,150.4 L314.8,150.0 L315.0,150.9 L315.3,151.7 L315.5,151.4 L315.8,151.6 L316.1,152.2 L316.3,153.1 L316.6,152.8 L316.8,152.7 L317.1,152.7 L317.4,152.4 L317.6,153.2 L317.9,153.3 L318.1,153.2 L318.4,152.7 L318.7,153.5 L318.9,152.7 L319.2,154.2 L319.4,152.9 L319.7,153.5 L319.9,153.0 L320.2,152.9 L320.5,153.6 L320.7,153.2 L321.0,153.0 L321.2,152.8 L321.5,153.2 L321.8,153.1 L322.0,153.3 L322.3,151.5 L322.5,152.3 L322.8,152.0 L323.0,152.3 L323.3,151.1 L323.6,151.5 L323.8,150.6 L324.1,150.8 L324.3,151.1 L324.6,151.0 L324.9,151.8 L325.1,151.8 L325.4,152.1 L325.6,152.6 L325.9,152.4 L326.2,152.6 L326.4,152.2 L326.7,154.1 L326.9,153.3 L327.2,153.4 L327.4,153.3 L327.7,153.1 L328.0,153.1 L328.2,153.3 L328.5,153.5 L328.7,153.1 L329.0,153.2" fill="none" stroke="#ff00ff" stroke-width="1.25" stroke-linejoin="round"/>
<path d="M44.4,186.2 L44.7,185.6 L44.9,186.0 L45.2,185.9 L45.4,185.4 L45.7,185.5 L46.0,185.5 L46.2,185.8 L46.5,185.6 L46.7,185.8 L47.0,185.4 L47.2,185.2 L47.5,184.8 L47.8,185.0 L48.0,185.8 L48.3,185.7 L48.5,185.9 L48.8,185.4 L49.1,184.7 L49.3,185.2 L49.6,186.3 L49.8,186.0 L50.1,186.0 L50.4,185.3 L50.6,185.5 L50.9,185.4 L51.1,184.8 L51.4,185.8 L51.6,185.8 L51.9,184.7 L52.2,185.4 L52.4,185.8 L52.7,186.3 L52.9,186.1 L53.2,186.4 L53.5,185.5 L53.7,185.5 L54.0,185.1 L54.2,185.5 L54.5,185.8 L54.7,185.8 L55.0,184.8 L55.3,186.2 L55.5,185.4 L55.8,185.5 L56.0,185.3 L56.3,185.6 L56.6,185.3 L56.8,185.2 L57.1,185.6 L57.3,185.7 L57.6,185.6 L57.9,185.9 L58.1,185.6 L58.4,185.6 L58.6,185.4 L58.9,185.0 L59.1,185.0 L59.4,185.7 L59.7,185.3 L59.9,185.4 L60.2,185.2 L60.4,185.5 L60.7,185.4 L61.0,185.7 L61.2,185.8 L61.5,185.2 L61.7,185.0 L62.0,185.2 L62.3,185.3 L62.5,185.4 L62.8,185.7 L63.0,186.2 L63.3,185.2 L63.5,185.4 L63.8,185.7 L64.1,185.9 L64.3,185.0 L64.6,186.2 L64.8,184.8 L65.1,185.3 L65.4,184.6 L65.6,185.8 L65.9,185.5 L66.1,185.7 L66.4,185.4 L66.7,185.6 L66.9,185.8 L67.2,185.1 L67.4,185.8 L67.7,185.7 L67.9,185.3 L68.2,185.7 L68.5,185.7 L68.7,185.4 L69.0,185.6 L69.2,186.0 L69.5,185.5 L69.8,185.6 L70.0,184.8 L70.3,185.9 L70.5,185.1 L70.8,185.8 L71.0,185.6 L71.3,185.6 L71.6,185.4 L71.8,185.2 L72.1,184.8 L72.3,185.7 L72.6,185.0 L72.9,185.1 L73.1,185.2 L73.4,185.8 L73.6,185.1 L73.9,185.5 L74.2,185.4 L74.4,185.6 L74.7,185.2 L74.9,185.1 L75.2,185.1 L75.4,185.6 L75.7,185.1 L76.0,184.9 L76.2,185.8 L76.5,184.9 L76.7,186.0 L77.0,185.3 L77.3,185.3 L77.5,184.9 L77.8,185.4 L78.0,185.7 L78.3,185.8 L78.6,186.0 L78.8,185.2 L79.1,185.6 L79.3,185.8 L79.6,185.3 L79.8,185.8 L80.1,185.7 L80.4,185.7 L80.6,184.9 L80.9,184.9 L81.1,185.5 L81.4,186.1 L81.7,185.4 L81.9,185.5 L82.2,185.4 L82.4,185.3 L82.7,185.6 L83.0,185.1 L83.2,185.2 L83.5,185.4 L83.7,185.6 L84.0,185.7 L84.2,185.2 L84.5,185.9 L84.8,185.5 L85.0,185.8 L85.3,186.0 L85.5,185.3 L85.8,185.5 L86.1,185.5 L86.3,185.2 L86.6,186.1 L86.8,185.5 L87.1,185.4 L87.3,185.2 L87.6,185.9 L87.9,185.2 L88.1,185.4 L88.4,185.0 L88.6,185.1 L88.9,185.3 L89.2,184.7 L89.4,185.5 L89.7,185.6 L89.9,185.6 L90.2,185.8 L90.5,185.5 L90.7,186.2 L91.0,185.5 L91.2,185.3 L91.5,185.1 L91.7,185.6 L92.0,185.0 L92.3,185.7 L92.5,185.5 L92.8,186.2 L93.0,185.8 L93.3,185.8 L93.6,184.9 L93.8,185.3 L94.1,185.9 L94.3,185.3 L94.6,185.3 L94.9,185.6 L95.1,185.5 L95.4,185.6 L95.6,185.7 L95.9,186.1 L96.1,185.5 L96.4,185.0 L96.7,184.9 L96.9,185.6 L97.2,185.7 L97.4,185.5 L97.7,185.1 L98.0,185.3 L98.2,185.7 L98.5,185.3 L98.7,185.5 L99.0,185.3 L99.3,185.6 L99.5,186.0 L99.8,185.4 L100.0,185.2 L100.3,185.9 L100.5,185.5 L100.8,185.1 L101.1,185.6 L101.3,185.7 L101.6,184.7 L101.8,185.1 L102.1,185.1 L102.4,185.8 L102.6,184.8 L102.9,186.1 L103.1,185.6 L103.4,185.2 L103.6,185.0 L103.9,185.8 L104.2,185.7 L104.4,185.4 L104.7,186.1 L104.9,185.2 L105.2,185.2 L105.5,185.6 L105.7,185.2 L106.0,185.1 L106.2,185.3 L106.5,185.2 L106.8,184.9 L107.0,185.6 L107.3,185.3 L107.5,185.6 L107.8,185.0 L108.0,185.5 L108.3,185.2 L108.6,185.3 L108.8,185.4 L109.1,184.7 L109.3,185.4 L109.6,184.8 L109.9,185.0 L110.1,184.9 L110.4,185.4 L110.6,185.0 L110.9,185.0 L111.2,185.5 L111.4,185.2 L111.7,185.3 L111.9,185.3 L112.2,184.8 L112.4,185.5 L112.7,185.8 L113.0,185.8 L113.2,185.3 L113.5,185.3 L113.7,185.1 L114.0,184.8 L114.3,184.3 L114.5,184.8 L114.8,184.7 L115.0,185.0 L115.3,184.5 L115.6,184.0 L115.8,183.9 L116.1,184.8 L116.3,183.3 L116.6,182.4 L116.8,181.7 L117.1,181.0 L117.4,178.4 L117.6,175.2 L117.9,171.7 L118.1,168.1 L118.4,164.1 L118.7,160.1 L118.9,159.1 L119.2,158.4 L119.4,161.3 L119.7,164.8 L119.9,169.5 L120.2,173.1 L120.5,176.0 L120.7,179.5 L121.0,180.2 L121.2,182.8 L121.5,183.7 L121.8,183.8 L122.0,184.0 L122.3,184.1 L122.5,184.7 L122.8,184.8 L123.1,184.9 L123.3,185.1 L123.6,185.9 L123.8,184.6 L124.1,184.9 L124.3,185.0 L124.6,185.3 L124.9,185.0 L125.1,185.2 L125.4,185.2 L125.6,184.8 L125.9,185.8 L126.2,185.1 L126.4,185.6 L126.7,185.4 L126.9,184.7 L127.2,185.7 L127.5,185.3 L127.7,185.5 L128.0,185.0 L128.2,185.7 L128.5,185.9 L128.7,185.1 L129.0,185.4 L129.3,185.4 L129.5,184.9 L129.8,185.6 L130.0,185.5 L130.3,185.3 L130.6,185.2 L130.8,185.5 L131.1,184.9 L131.3,184.5 L131.6,185.5 L131.8,184.6 L132.1,186.1 L132.4,184.8 L132.6,185.4 L132.9,185.2 L133.1,185.3 L133.4,185.4 L133.7,185.6 L133.9,185.3 L134.2,184.6 L134.4,184.5 L134.7,184.9 L135.0,184.8 L135.2,184.5 L135.5,184.1 L135.7,182.3 L136.0,181.7 L136.2,180.7 L136.5,179.6 L136.8,178.6 L137.0,176.8 L137.3,176.6 L137.5,177.5 L137.8,177.7 L138.1,179.7 L138.3,180.3 L138.6,182.1 L138.8,183.0 L139.1,183.4 L139.4,184.0 L139.6,184.2 L139.9,185.1 L140.1,184.4 L140.4,184.6 L140.6,185.1 L140.9,185.0 L141.2,185.5 L141.4,185.3 L141.7,185.8 L141.9,185.3 L142.2,185.2 L142.5,184.8 L142.7,185.0 L143.0,185.1 L143.2,185.5 L143.5,185.5 L143.8,185.5 L144.0,185.3 L144.3,186.1 L144.5,185.1 L144.8,186.0 L145.0,185.6 L145.3,185.4 L145.6,185.6 L145.8,184.8 L146.1,185.5 L146.3,184.9 L146.6,185.0 L146.9,185.6 L147.1,185.3 L147.4,185.0 L147.6,185.6 L147.9,185.4 L148.1,185.7 L148.4,185.4 L148.7,185.6 L148.9,185.4 L149.2,185.1 L149.4,184.9 L149.7,185.4 L150.0,185.4 L150.2,185.1 L150.5,185.6 L150.7,185.8 L151.0,185.1 L151.3,185.8 L151.5,185.1 L151.8,185.8 L152.0,184.8 L152.3,185.8 L152.5,185.2 L152.8,184.9 L153.1,185.8 L153.3,184.9 L153.6,185.8 L153.8,186.1 L154.1,185.2 L154.4,185.2 L154.6,185.5 L154.9,186.4 L155.1,185.5 L155.4,185.6 L155.7,185.6 L155.9,185.6 L156.2,186.1 L156.4,185.7 L156.7,184.8 L156.9,184.9 L157.2,185.6 L157.5,185.7 L157.7,185.3 L158.0,185.1 L158.2,185.2 L158.5,185.9 L158.8,185.4 L159.0,185.4 L159.3,185.0 L159.5,185.0 L159.8,185.3 L160.1,185.0 L160.3,185.6 L160.6,184.9 L160.8,185.6 L161.1,185.3 L161.3,185.1 L161.6,185.8 L161.9,185.7 L162.1,186.1 L162.4,185.4 L162.6,185.5 L162.9,185.6 L163.2,185.3 L163.4,186.2 L163.7,185.5 L163.9,185.4 L164.2,185.6 L164.4,185.2 L164.7,184.8 L165.0,185.6 L165.2,185.8 L165.5,185.7 L165.7,185.4 L166.0,185.3 L166.3,185.8 L166.5,185.1 L166.8,185.9 L167.0,185.2 L167.3,185.3 L167.6,185.3 L167.8,184.7 L168.1,185.6 L168.3,185.5 L168.6,185.3 L168.8,185.2 L169.1,186.0 L169.4,185.4 L169.6,185.7 L169.9,185.2 L170.1,185.0 L170.4,185.5 L170.7,185.5 L170.9,185.4 L171.2,186.6 L171.4,185.2 L171.7,185.3 L172.0,185.4 L172.2,185.6 L172.5,185.7 L172.7,185.5 L173.0,185.0 L173.2,185.5 L173.5,185.0 L173.8,186.4 L174.0,185.6 L174.3,185.4 L174.5,185.5 L174.8,186.1 L175.1,185.7 L175.3,185.0 L175.6,185.9 L175.8,185.8 L176.1,185.9 L176.4,185.7 L176.6,185.2 L176.9,185.2 L177.1,186.2 L177.4,184.9 L177.6,185.7 L177.9,185.7 L178.2,184.9 L178.4,185.5 L178.7,185.9 L178.9,185.7 L179.2,185.7 L179.5,185.8 L179.7,185.6 L180.0,185.1 L180.2,185.3 L180.5,186.0 L180.7,184.4 L181.0,185.8 L181.3,185.4 L181.5,185.4 L181.8,185.2 L182.0,185.6 L182.3,185.3 L182.6,184.7 L182.8,185.4 L183.1,185.8 L183.3,185.3 L183.6,185.7 L183.9,185.6 L184.1,185.4 L184.4,185.3 L184.6,185.5 L184.9,185.1 L185.1,185.5 L185.4,185.9 L185.7,185.1 L185.9,185.5 L186.2,185.0 L186.4,185.6 L186.7,185.2 L187.0,185.3 L187.2,186.4 L187.5,185.9 L187.7,185.8 L188.0,184.8 L188.3,186.0 L188.5,185.0 L188.8,184.9 L189.0,185.1 L189.3,185.1 L189.5,185.5 L189.8,185.3 L190.1,185.2 L190.3,185.1 L190.6,184.9 L190.8,185.2 L191.1,185.4 L191.4,185.3 L191.6,184.9 L191.9,185.6 L192.1,185.4 L192.4,185.0 L192.7,184.9 L192.9,184.6 L193.2,185.3 L193.4,184.0 L193.7,183.4 L193.9,182.1 L194.2,181.9 L194.5,179.8 L194.7,177.6 L195.0,175.3 L195.2,172.8 L195.5,170.7 L195.8,169.8 L196.0,168.5 L196.3,169.2 L196.5,170.8 L196.8,172.0 L197.0,175.1 L197.3,177.4 L197.6,179.3 L197.8,181.1 L198.1,181.7 L198.3,182.9 L198.6,183.2 L198.9,184.0 L199.1,184.7 L199.4,184.3 L199.6,185.1 L199.9,185.1 L200.2,185.0 L200.4,185.0 L200.7,184.6 L200.9,185.3 L201.2,185.0 L201.4,185.2 L201.7,185.7 L202.0,185.6 L202.2,185.3 L202.5,185.1 L202.7,185.2 L203.0,185.1 L203.3,185.3 L203.5,185.5 L203.8,185.2 L204.0,185.7 L204.3,185.8 L204.6,185.5 L204.8,185.9 L205.1,185.6 L205.3,185.7 L205.6,185.6 L205.8,185.4 L206.1,185.7 L206.4,185.6 L206.6,186.0 L206.9,185.4 L207.1,185.7 L207.4,185.3 L207.7,186.5 L207.9,185.7 L208.2,185.3 L208.4,186.3 L208.7,185.6 L209.0,185.4 L209.2,185.4 L209.5,186.0 L209.7,185.3 L210.0,185.4 L210.2,185.8 L210.5,185.2 L210.8,185.5 L211.0,185.4 L211.3,185.6 L211.5,185.2 L211.8,185.4 L212.1,185.0 L212.3,185.3 L212.6,185.7 L212.8,185.5 L213.1,185.1 L213.3,185.6 L213.6,185.3 L213.9,185.3 L214.1,185.5 L214.4,186.3 L214.6,185.4 L214.9,185.4 L215.2,185.4 L215.4,185.7 L215.7,185.0 L215.9,185.5 L216.2,185.7 L216.5,185.7 L216.7,185.3 L217.0,185.8 L217.2,185.8 L217.5,184.7 L217.7,185.0 L218.0,185.1 L218.3,184.9 L218.5,185.2 L218.8,186.1 L219.0,185.0 L219.3,185.0 L219.6,185.3 L219.8,186.1 L220.1,185.0 L220.3,184.9 L220.6,185.6 L220.9,185.4 L221.1,185.1 L221.4,185.4 L221.6,185.0 L221.9,185.4 L222.1,185.2 L222.4,185.4 L222.7,185.9 L222.9,185.8 L223.2,184.2 L223.4,185.3 L223.7,184.9 L224.0,185.0 L224.2,184.7 L224.5,185.2 L224.7,185.6 L225.0,185.3 L225.3,186.0 L225.5,185.4 L225.8,185.0 L226.0,186.1 L226.3,185.2 L226.5,184.9 L226.8,184.7 L227.1,185.5 L227.3,185.4 L227.6,185.8 L227.8,185.4 L228.1,184.8 L228.4,184.1 L228.6,185.1 L228.9,184.0 L229.1,184.0 L229.4,183.8 L229.6,182.0 L229.9,182.8 L230.2,180.6 L230.4,179.0 L230.7,176.6 L230.9,175.1 L231.2,173.5 L231.5,173.4 L231.7,173.0 L232.0,173.5 L232.2,175.1 L232.5,176.8 L232.8,178.7 L233.0,180.3 L233.3,182.0 L233.5,181.9 L233.8,183.6 L234.0,184.7 L234.3,184.3 L234.6,184.7 L234.8,184.7 L235.1,184.3 L235.3,185.1 L235.6,185.2 L235.9,185.4 L236.1,185.2 L236.4,185.3 L236.6,185.1 L236.9,184.1 L237.2,185.1 L237.4,185.6 L237.7,184.6 L237.9,185.0 L238.2,185.0 L238.4,185.0 L238.7,185.0 L239.0,185.0 L239.2,184.8 L239.5,184.9 L239.7,184.7 L240.0,185.4 L240.3,185.2 L240.5,185.3 L240.8,184.6 L241.0,184.5 L241.3,184.8 L241.6,184.2 L241.8,183.1 L242.1,183.4 L242.3,183.9 L242.6,183.3 L242.8,182.9 L243.1,183.2 L243.4,183.1 L243.6,183.0 L243.9,183.6 L244.1,184.4 L244.4,184.1 L244.7,184.6 L244.9,184.7 L245.2,185.2 L245.4,185.6 L245.7,185.7 L245.9,185.4 L246.2,185.7 L246.5,186.3 L246.7,184.9 L247.0,185.8 L247.2,185.7 L247.5,185.2 L247.8,186.3 L248.0,184.9 L248.3,185.7 L248.5,185.2 L248.8,185.6 L249.1,185.3 L249.3,185.4 L249.6,185.4 L249.8,186.1 L250.1,186.0 L250.3,185.5 L250.6,184.9 L250.9,185.7 L251.1,185.3 L251.4,185.4 L251.6,185.3 L251.9,185.1 L252.2,186.0 L252.4,185.4 L252.7,185.5 L252.9,185.6 L253.2,185.8 L253.5,185.8 L253.7,185.8 L254.0,185.9 L254.2,184.5 L254.5,184.8 L254.7,185.5 L255.0,185.2 L255.3,185.8 L255.5,186.5 L255.8,186.1 L256.0,185.4 L256.3,184.9 L256.6,185.5 L256.8,185.8 L257.1,185.6 L257.3,185.8 L257.6,186.0 L257.9,185.6 L258.1,185.6 L258.4,185.8 L258.6,185.8 L258.9,185.8 L259.1,185.4 L259.4,185.0 L259.7,185.6 L259.9,184.7 L260.2,186.1 L260.4,185.4 L260.7,185.9 L261.0,185.5 L261.2,185.4 L261.5,185.3 L261.7,185.1 L262.0,185.7 L262.2,185.9 L262.5,185.5 L262.8,185.4 L263.0,185.7 L263.3,185.1 L263.5,184.9 L263.8,186.0 L264.1,185.3 L264.3,185.1 L264.6,186.2 L264.8,185.4 L265.1,185.6 L265.4,186.0 L265.6,185.0 L265.9,185.4 L266.1,185.7 L266.4,185.3 L266.6,185.2 L266.9,185.2 L267.2,185.3 L267.4,185.3 L267.7,185.9 L267.9,185.6 L268.2,185.4 L268.5,186.5 L268.7,184.7 L269.0,185.6 L269.2,185.9 L269.5,186.2 L269.8,185.4 L270.0,185.5 L270.3,185.7 L270.5,185.6 L270.8,185.8 L271.0,185.8 L271.3,185.5 L271.6,185.7 L271.8,185.2 L272.1,185.5 L272.3,185.4 L272.6,185.3 L272.9,185.0 L273.1,185.3 L273.4,185.4 L273.6,185.5 L273.9,185.8 L274.1,185.6 L274.4,185.2 L274.7,185.4 L274.9,185.6 L275.2,186.0 L275.4,186.0 L275.7,185.3 L276.0,185.1 L276.2,185.3 L276.5,186.0 L276.7,185.5 L277.0,185.4 L277.3,185.8 L277.5,185.3 L277.8,185.5 L278.0,185.8 L278.3,185.9 L278.5,185.1 L278.8,185.3 L279.1,185.8 L279.3,185.8 L279.6,185.1 L279.8,185.2 L280.1,185.5 L280.4,184.8 L280.6,185.5 L280.9,185.8 L281.1,185.0 L281.4,185.4 L281.7,185.2 L281.9,185.3 L282.2,185.6 L282.4,185.6 L282.7,185.1 L282.9,184.4 L283.2,185.1 L283.5,184.1 L283.7,184.3 L284.0,184.5 L284.2,183.8 L284.5,183.5 L284.8,183.8 L285.0,184.1 L285.3,183.2 L285.5,183.7 L285.8,183.3 L286.1,184.3 L286.3,183.9 L286.6,184.4 L286.8,184.9 L287.1,184.6 L287.3,184.7 L287.6,185.1 L287.9,185.5 L288.1,185.1 L288.4,185.9 L288.6,185.1 L288.9,185.1 L289.2,184.7 L289.4,185.0 L289.7,185.3 L289.9,185.3 L290.2,185.4 L290.4,185.9 L290.7,184.9 L291.0,185.2 L291.2,185.5 L291.5,185.9 L291.7,184.9 L292.0,185.2 L292.3,185.9 L292.5,185.2 L292.8,184.8 L293.0,185.5 L293.3,185.3 L293.6,185.6 L293.8,185.7 L294.1,185.1 L294.3,184.3 L294.6,185.4 L294.8,185.5 L295.1,185.2 L295.4,185.6 L295.6,185.2 L295.9,185.2 L296.1,185.8 L296.4,185.9 L296.7,185.5 L296.9,185.2 L297.2,185.4 L297.4,185.0 L297.7,186.0 L298.0,185.3 L298.2,185.7 L298.5,185.4 L298.7,185.3 L299.0,185.8 L299.2,185.5 L299.5,185.9 L299.8,185.4 L300.0,185.8 L300.3,185.6 L300.5,185.4 L300.8,185.7 L301.1,185.0 L301.3,185.7 L301.6,185.1 L301.8,185.4 L302.1,185.8 L302.4,185.5 L302.6,185.8 L302.9,185.6 L303.1,185.6 L303.4,184.8 L303.6,185.6 L303.9,184.9 L304.2,185.3 L304.4,185.9 L304.7,186.3 L304.9,185.2 L305.2,186.2 L305.5,185.2 L305.7,185.1 L306.0,185.3 L306.2,185.5 L306.5,185.5 L306.7,185.3 L307.0,185.5 L307.3,185.6 L307.5,185.5 L307.8,185.0 L308.0,185.6 L308.3,185.2 L308.6,185.8 L308.8,185.6 L309.1,185.9 L309.3,185.4 L309.6,185.1 L309.9,185.2 L310.1,185.4 L310.4,185.0 L310.6,185.3 L310.9,184.9 L311.1,184.8 L311.4,184.5 L311.7,185.4 L311.9,184.7 L312.2,183.6 L312.4,183.6 L312.7,182.3 L313.0,182.7 L313.2,182.4 L313.5,181.2 L313.7,181.2 L314.0,180.5 L314.3,181.0 L314.5,181.4 L314.8,181.4 L315.0,182.3 L315.3,182.6 L315.5,183.2 L315.8,183.5 L316.1,183.5 L316.3,184.3 L316.6,184.3 L316.8,184.8 L317.1,184.5 L317.4,186.0 L317.6,185.1 L317.9,185.1 L318.1,185.6 L318.4,184.8 L318.7,185.2 L318.9,184.8 L319.2,184.9 L319.4,185.0 L319.7,185.3 L319.9,185.7 L320.2,185.3 L320.5,185.4 L320.7,185.1 L321.0,185.3 L321.2,183.9 L321.5,185.5 L321.8,184.4 L322.0,184.8 L322.3,184.5 L322.5,183.8 L322.8,183.8 L323.0,183.9 L323.3,183.0 L323.6,182.9 L323.8,183.3 L324.1,182.3 L324.3,182.7 L324.6,182.7 L324.9,182.4 L325.1,182.8 L325.4,183.3 L325.6,182.8 L325.9,183.7 L326.2,184.4 L326.4,184.4 L326.7,184.7 L326.9,185.7 L327.2,185.6 L327.4,185.6 L327.7,184.4 L328.0,185.3 L328.2,185.4 L328.5,185.5 L328.7,185.0 L329.0,185.4" fill="none" stroke="#0000ff" stroke-width="1.25" stroke-linejoin="round"/>
<path d="M44.4,218.0 L44.7,218.3 L44.9,218.0 L45.2,218.6 L45.4,218.4 L45.7,218.7 L46.0,218.6 L46.2,219.2 L46.5,218.8 L46.7,218.9 L47.0,218.8 L47.2,218.1 L47.5,218.5 L47.8,218.1 L48.0,218.3 L48.3,218.2 L48.5,218.2 L48.8,218.8 L49.1,218.3 L49.3,218.7 L49.6,218.8 L49.8,218.1 L50.1,217.8 L50.4,218.9 L50.6,217.9 L50.9,218.3 L51.1,218.9 L51.4,218.5 L51.6,218.4 L51.9,218.4 L52.2,218.7 L52.4,219.0 L52.7,218.6 L52.9,218.2 L53.2,218.3 L53.5,218.3 L53.7,218.2 L54.0,218.9 L54.2,218.6 L54.5,218.4 L54.7,218.2 L55.0,218.5 L55.3,218.4 L55.5,218.5 L55.8,217.8 L56.0,219.3 L56.3,218.5 L56.6,217.6 L56.8,218.4 L57.1,219.2 L57.3,218.5 L57.6,219.1 L57.9,218.8 L58.1,218.4 L58.4,217.9 L58.6,218.3 L58.9,218.3 L59.1,218.1 L59.4,218.4 L59.7,218.8 L59.9,218.5 L60.2,218.4 L60.4,218.6 L60.7,218.7 L61.0,218.6 L61.2,219.0 L61.5,218.9 L61.7,218.5 L62.0,218.6 L62.3,218.5 L62.5,217.9 L62.8,218.3 L63.0,218.5 L63.3,218.9 L63.5,218.8 L63.8,218.3 L64.1,218.7 L64.3,218.3 L64.6,218.8 L64.8,218.4 L65.1,218.4 L65.4,218.0 L65.6,218.5 L65.9,218.5 L66.1,218.3 L66.4,218.4 L66.7,217.8 L66.9,218.5 L67.2,218.6 L67.4,218.5 L67.7,218.2 L67.9,218.2 L68.2,218.1 L68.5,218.8 L68.7,217.4 L69.0,217.6 L69.2,218.3 L69.5,218.7 L69.8,218.2 L70.0,218.1 L70.3,219.1 L70.5,218.2 L70.8,218.8 L71.0,218.1 L71.3,217.7 L71.6,217.8 L71.8,218.7 L72.1,217.7 L72.3,217.8 L72.6,218.3 L72.9,218.0 L73.1,217.6 L73.4,218.3 L73.6,218.1 L73.9,218.3 L74.2,217.7 L74.4,218.9 L74.7,217.6 L74.9,218.4 L75.2,217.7 L75.4,218.6 L75.7,218.4 L76.0,218.2 L76.2,217.7 L76.5,218.6 L76.7,217.8 L77.0,218.2 L77.3,217.5 L77.5,218.0 L77.8,217.7 L78.0,218.0 L78.3,217.2 L78.6,218.0 L78.8,217.9 L79.1,217.1 L79.3,217.8 L79.6,217.6 L79.8,218.1 L80.1,217.7 L80.4,218.6 L80.6,217.7 L80.9,218.0 L81.1,218.3 L81.4,218.2 L81.7,217.3 L81.9,217.5 L82.2,218.2 L82.4,217.0 L82.7,217.9 L83.0,217.8 L83.2,217.5 L83.5,218.0 L83.7,218.2 L84.0,217.8 L84.2,217.1 L84.5,217.2 L84.8,218.1 L85.0,217.1 L85.3,217.5 L85.5,217.3 L85.8,217.4 L86.1,217.3 L86.3,217.8 L86.6,217.7 L86.8,217.6 L87.1,217.5 L87.3,217.1 L87.6,217.8 L87.9,216.7 L88.1,217.5 L88.4,217.5 L88.6,217.0 L88.9,217.1 L89.2,217.4 L89.4,217.6 L89.7,217.6 L89.9,217.8 L90.2,216.8 L90.5,216.8 L90.7,216.5 L91.0,217.0 L91.2,217.0 L91.5,216.9 L91.7,216.8 L92.0,217.2 L92.3,217.0 L92.5,216.3 L92.8,217.7 L93.0,217.6 L93.3,217.4 L93.6,216.8 L93.8,216.6 L94.1,217.1 L94.3,216.8 L94.6,217.0 L94.9,216.9 L95.1,217.2 L95.4,217.0 L95.6,217.0 L95.9,216.5 L96.1,216.1 L96.4,217.6 L96.7,216.7 L96.9,216.9 L97.2,216.6 L97.4,216.5 L97.7,216.6 L98.0,216.6 L98.2,217.2 L98.5,217.5 L98.7,216.3 L99.0,216.4 L99.3,217.2 L99.5,216.4 L99.8,216.6 L100.0,217.8 L100.3,216.5 L100.5,217.2 L100.8,216.4 L101.1,217.1 L101.3,217.1 L101.6,217.4 L101.8,216.9 L102.1,216.5 L102.4,217.1 L102.6,217.5 L102.9,216.1 L103.1,216.2 L103.4,216.6 L103.6,217.1 L103.9,217.3 L104.2,217.5 L104.4,216.7 L104.7,216.4 L104.9,217.3 L105.2,216.9 L105.5,217.0 L105.7,217.0 L106.0,216.7 L106.2,216.1 L106.5,217.1 L106.8,216.6 L107.0,216.5 L107.3,217.0 L107.5,217.0 L107.8,217.4 L108.0,216.5 L108.3,217.1 L108.6,217.2 L108.8,216.9 L109.1,217.3 L109.3,217.3 L109.6,217.1 L109.9,216.4 L110.1,217.0 L110.4,216.8 L110.6,217.5 L110.9,217.7 L111.2,216.3 L111.4,217.1 L111.7,217.5 L111.9,217.0 L112.2,216.7 L112.4,217.6 L112.7,217.3 L113.0,216.8 L113.2,217.3 L113.5,216.6 L113.7,216.5 L114.0,216.7 L114.3,217.0 L114.5,216.8 L114.8,217.0 L115.0,216.8 L115.3,216.5 L115.6,216.7 L115.8,216.1 L116.1,215.3 L116.3,216.2 L116.6,215.5 L116.8,214.7 L117.1,213.8 L117.4,212.6 L117.6,210.6 L117.9,207.2 L118.1,203.8 L118.4,199.8 L118.7,196.1 L118.9,192.1 L119.2,190.0 L119.4,190.5 L119.7,192.4 L119.9,195.4 L120.2,201.1 L120.5,204.2 L120.7,208.4 L121.0,211.3 L121.2,213.0 L121.5,214.2 L121.8,215.3 L122.0,216.4 L122.3,216.9 L122.5,216.9 L122.8,216.8 L123.1,217.3 L123.3,217.7 L123.6,216.6 L123.8,217.6 L124.1,217.4 L124.3,217.6 L124.6,217.7 L124.9,217.5 L125.1,217.7 L125.4,217.4 L125.6,218.1 L125.9,218.2 L126.2,217.0 L126.4,217.8 L126.7,217.5 L126.9,217.4 L127.2,217.6 L127.5,217.8 L127.7,218.4 L128.0,218.5 L128.2,217.5 L128.5,217.7 L128.7,217.7 L129.0,218.6 L129.3,218.7 L129.5,218.4 L129.8,218.4 L130.0,217.9 L130.3,218.4 L130.6,217.4 L130.8,218.3 L131.1,218.2 L131.3,217.7 L131.6,217.9 L131.8,218.4 L132.1,217.7 L132.4,217.3 L132.6,218.5 L132.9,218.1 L133.1,218.4 L133.4,218.7 L133.7,217.8 L133.9,217.7 L134.2,217.6 L134.4,217.7 L134.7,218.6 L135.0,217.7 L135.2,217.7 L135.5,217.6 L135.7,217.0 L136.0,215.6 L136.2,215.0 L136.5,213.0 L136.8,212.3 L137.0,211.9 L137.3,209.9 L137.5,209.3 L137.8,210.0 L138.1,211.3 L138.3,211.4 L138.6,213.9 L138.8,214.6 L139.1,216.4 L139.4,216.9 L139.6,217.7 L139.9,217.1 L140.1,217.3 L140.4,218.1 L140.6,218.5 L140.9,218.1 L141.2,218.0 L141.4,218.8 L141.7,218.7 L141.9,218.3 L142.2,218.0 L142.5,218.3 L142.7,218.2 L143.0,218.8 L143.2,219.3 L143.5,218.3 L143.8,218.7 L144.0,218.4 L144.3,218.6 L144.5,218.2 L144.8,218.7 L145.0,217.9 L145.3,218.4 L145.6,218.3 L145.8,218.2 L146.1,218.1 L146.3,218.3 L146.6,219.1 L146.9,218.7 L147.1,217.8 L147.4,218.3 L147.6,218.3 L147.9,218.3 L148.1,218.7 L148.4,218.8 L148.7,218.7 L148.9,218.1 L149.2,218.4 L149.4,217.9 L149.7,218.3 L150.0,217.8 L150.2,218.4 L150.5,219.0 L150.7,217.9 L151.0,218.4 L151.3,218.1 L151.5,218.5 L151.8,218.7 L152.0,218.5 L152.3,219.0 L152.5,219.0 L152.8,218.9 L153.1,218.7 L153.3,219.1 L153.6,218.6 L153.8,218.4 L154.1,217.8 L154.4,217.9 L154.6,218.6 L154.9,218.2 L155.1,218.6 L155.4,218.4 L155.7,218.6 L155.9,218.8 L156.2,218.5 L156.4,219.1 L156.7,218.4 L156.9,218.7 L157.2,219.0 L157.5,218.7 L157.7,218.4 L158.0,218.8 L158.2,218.4 L158.5,218.4 L158.8,218.0 L159.0,219.0 L159.3,218.6 L159.5,218.4 L159.8,218.0 L160.1,218.5 L160.3,218.3 L160.6,219.1 L160.8,218.8 L161.1,218.0 L161.3,218.7 L161.6,217.8 L161.9,218.8 L162.1,218.7 L162.4,219.2 L162.6,218.3 L162.9,218.5 L163.2,217.8 L163.4,218.5 L163.7,218.7 L163.9,219.1 L164.2,218.6 L164.4,218.2 L164.7,218.3 L165.0,218.1 L165.2,218.3 L165.5,218.6 L165.7,218.3 L166.0,218.5 L166.3,219.1 L166.5,217.9 L166.8,218.4 L167.0,219.0 L167.3,218.4 L167.6,218.5 L167.8,218.2 L168.1,218.0 L168.3,219.7 L168.6,218.4 L168.8,218.0 L169.1,218.9 L169.4,219.3 L169.6,218.5 L169.9,218.4 L170.1,218.4 L170.4,219.0 L170.7,218.7 L170.9,218.5 L171.2,218.3 L171.4,217.7 L171.7,218.5 L172.0,218.8 L172.2,219.5 L172.5,218.2 L172.7,218.6 L173.0,218.6 L173.2,218.9 L173.5,218.3 L173.8,219.2 L174.0,218.5 L174.3,218.5 L174.5,218.5 L174.8,218.1 L175.1,218.6 L175.3,218.5 L175.6,218.2 L175.8,219.2 L176.1,218.7 L176.4,218.5 L176.6,218.2 L176.9,218.9 L177.1,218.3 L177.4,218.4 L177.6,219.1 L177.9,219.1 L178.2,219.1 L178.4,218.5 L178.7,218.5 L178.9,218.3 L179.2,218.2 L179.5,218.8 L179.7,218.2 L180.0,218.2 L180.2,218.4 L180.5,218.4 L180.7,219.0 L181.0,218.4 L181.3,218.9 L181.5,219.0 L181.8,218.7 L182.0,218.5 L182.3,218.6 L182.6,218.7 L182.8,218.9 L183.1,218.5 L183.3,218.8 L183.6,219.1 L183.9,218.5 L184.1,218.0 L184.4,218.7 L184.6,218.9 L184.9,218.0 L185.1,217.9 L185.4,218.6 L185.7,218.6 L185.9,218.4 L186.2,217.4 L186.4,218.4 L186.7,218.1 L187.0,218.3 L187.2,219.2 L187.5,218.9 L187.7,218.9 L188.0,218.3 L188.3,218.4 L188.5,217.8 L188.8,218.5 L189.0,218.3 L189.3,218.4 L189.5,218.3 L189.8,217.5 L190.1,218.2 L190.3,217.8 L190.6,217.8 L190.8,218.5 L191.1,218.0 L191.4,218.4 L191.6,218.1 L191.9,218.1 L192.1,218.1 L192.4,218.2 L192.7,217.3 L192.9,217.9 L193.2,217.4 L193.4,216.7 L193.7,216.7 L193.9,216.0 L194.2,215.0 L194.5,213.9 L194.7,212.0 L195.0,211.2 L195.2,207.6 L195.5,205.9 L195.8,204.3 L196.0,202.1 L196.3,201.6 L196.5,201.3 L196.8,203.3 L197.0,205.2 L197.3,207.1 L197.6,209.5 L197.8,212.1 L198.1,213.6 L198.3,215.0 L198.6,215.9 L198.9,216.7 L199.1,217.3 L199.4,217.2 L199.6,218.3 L199.9,218.1 L200.2,217.9 L200.4,218.2 L200.7,218.3 L200.9,218.3 L201.2,218.1 L201.4,217.8 L201.7,218.3 L202.0,218.4 L202.2,218.2 L202.5,218.4 L202.7,219.1 L203.0,218.3 L203.3,218.5 L203.5,218.6 L203.8,218.2 L204.0,218.4 L204.3,218.7 L204.6,219.3 L204.8,219.1 L205.1,218.5 L205.3,218.5 L205.6,218.3 L205.8,218.4 L206.1,218.7 L206.4,219.0 L206.6,218.9 L206.9,218.6 L207.1,218.9 L207.4,218.2 L207.7,219.0 L207.9,219.2 L208.2,218.6 L208.4,219.2 L208.7,217.9 L209.0,218.9 L209.2,218.5 L209.5,218.6 L209.7,218.8 L210.0,219.2 L210.2,219.2 L210.5,218.2 L210.8,218.1 L211.0,217.7 L211.3,219.1 L211.5,218.3 L211.8,218.5 L212.1,218.2 L212.3,218.7 L212.6,218.3 L212.8,218.2 L213.1,218.3 L213.3,218.0 L213.6,218.6 L213.9,218.0 L214.1,218.8 L214.4,217.9 L214.6,219.6 L214.9,218.5 L215.2,218.8 L215.4,218.5 L215.7,218.2 L215.9,218.3 L216.2,218.5 L216.5,217.9 L216.7,219.1 L217.0,218.9 L217.2,218.0 L217.5,218.4 L217.7,219.3 L218.0,218.4 L218.3,219.0 L218.5,218.0 L218.8,218.1 L219.0,218.7 L219.3,218.0 L219.6,218.8 L219.8,218.2 L220.1,218.3 L220.3,218.6 L220.6,219.1 L220.9,218.6 L221.1,219.4 L221.4,218.7 L221.6,219.2 L221.9,218.0 L222.1,218.9 L222.4,219.4 L222.7,218.3 L222.9,218.4 L223.2,218.7 L223.4,217.7 L223.7,218.2 L224.0,218.4 L224.2,218.7 L224.5,219.6 L224.7,218.3 L225.0,218.1 L225.3,218.7 L225.5,219.0 L225.8,218.4 L226.0,219.0 L226.3,218.4 L226.5,218.1 L226.8,217.8 L227.1,218.2 L227.3,218.2 L227.6,218.0 L227.8,217.7 L228.1,218.3 L228.4,218.5 L228.6,218.3 L228.9,218.3 L229.1,217.9 L229.4,217.3 L229.6,216.6 L229.9,215.9 L230.2,214.9 L230.4,213.8 L230.7,212.0 L230.9,210.1 L231.2,208.4 L231.5,206.6 L231.7,206.3 L232.0,206.1 L232.2,206.0 L232.5,207.8 L232.8,209.4 L233.0,211.4 L233.3,212.6 L233.5,214.5 L233.8,215.9 L234.0,216.4 L234.3,217.1 L234.6,217.1 L234.8,217.8 L235.1,217.8 L235.3,218.1 L235.6,218.0 L235.9,218.4 L236.1,217.8 L236.4,218.8 L236.6,218.4 L236.9,218.6 L237.2,218.1 L237.4,218.3 L237.7,218.2 L237.9,218.5 L238.2,218.6 L238.4,218.8 L238.7,218.5 L239.0,218.6 L239.2,218.3 L239.5,218.2 L239.7,218.0 L240.0,218.4 L240.3,218.6 L240.5,218.7 L240.8,218.2 L241.0,217.9 L241.3,217.2 L241.6,217.7 L241.8,216.8 L242.1,216.5 L242.3,217.3 L242.6,216.2 L242.8,216.0 L243.1,215.8 L243.4,216.2 L243.6,216.0 L243.9,216.7 L244.1,216.8 L244.4,217.1 L244.7,216.7 L244.9,217.7 L245.2,217.5 L245.4,218.0 L245.7,218.5 L245.9,218.2 L246.2,218.1 L246.5,218.7 L246.7,218.2 L247.0,218.7 L247.2,218.8 L247.5,218.4 L247.8,218.6 L248.0,218.9 L248.3,219.1 L248.5,218.5 L248.8,218.4 L249.1,218.7 L249.3,218.5 L249.6,219.1 L249.8,218.4 L250.1,218.4 L250.3,218.4 L250.6,218.8 L250.9,218.5 L251.1,218.5 L251.4,218.1 L251.6,218.4 L251.9,218.5 L252.2,218.8 L252.4,218.2 L252.7,218.1 L252.9,218.7 L253.2,218.3 L253.5,218.4 L253.7,218.6 L254.0,219.1 L254.2,217.9 L254.5,219.3 L254.7,218.5 L255.0,218.7 L255.3,218.1 L255.5,218.7 L255.8,218.6 L256.0,218.3 L256.3,218.4 L256.6,218.8 L256.8,218.3 L257.1,218.4 L257.3,218.2 L257.6,218.8 L257.9,218.6 L258.1,218.7 L258.4,218.9 L258.6,218.5 L258.9,218.4 L259.1,218.0 L259.4,218.7 L259.7,218.4 L259.9,218.1 L260.2,218.6 L260.4,218.6 L260.7,218.5 L261.0,218.8 L261.2,219.0 L261.5,218.2 L261.7,218.5 L262.0,218.6 L262.2,219.1 L262.5,218.5 L262.8,218.1 L263.0,219.0 L263.3,218.9 L263.5,218.2 L263.8,218.0 L264.1,218.0 L264.3,218.8 L264.6,218.4 L264.8,218.9 L265.1,218.4 L265.4,218.7 L265.6,218.5 L265.9,218.1 L266.1,218.5 L266.4,218.7 L266.6,218.6 L266.9,218.5 L267.2,218.8 L267.4,218.5 L267.7,218.4 L267.9,218.0 L268.2,219.4 L268.5,219.0 L268.7,219.0 L269.0,218.2 L269.2,217.7 L269.5,218.5 L269.8,218.5 L270.0,218.1 L270.3,219.5 L270.5,218.6 L270.8,219.8 L271.0,218.5 L271.3,218.8 L271.6,218.8 L271.8,218.4 L272.1,218.8 L272.3,218.2 L272.6,218.6 L272.9,218.4 L273.1,217.6 L273.4,218.7 L273.6,218.2 L273.9,218.9 L274.1,218.1 L274.4,218.2 L274.7,218.5 L274.9,218.2 L275.2,218.0 L275.4,218.0 L275.7,218.6 L276.0,218.6 L276.2,218.1 L276.5,219.1 L276.7,218.8 L277.0,218.4 L277.3,218.3 L277.5,217.9 L277.8,217.9 L278.0,218.4 L278.3,218.4 L278.5,219.0 L278.8,218.6 L279.1,218.4 L279.3,218.6 L279.6,218.5 L279.8,218.3 L280.1,218.9 L280.4,218.7 L280.6,219.2 L280.9,218.1 L281.1,218.9 L281.4,219.1 L281.7,218.2 L281.9,218.5 L282.2,218.0 L282.4,218.5 L282.7,217.4 L282.9,217.9 L283.2,217.9 L283.5,217.8 L283.7,217.7 L284.0,217.1 L284.2,216.4 L284.5,217.0 L284.8,217.0 L285.0,216.2 L285.3,215.9 L285.5,216.8 L285.8,216.5 L286.1,216.7 L286.3,216.3 L286.6,216.6 L286.8,217.3 L287.1,217.7 L287.3,217.3 L287.6,218.5 L287.9,217.7 L288.1,218.1 L288.4,217.5 L288.6,217.9 L288.9,218.6 L289.2,218.5 L289.4,218.5 L289.7,218.7 L289.9,218.4 L290.2,218.1 L290.4,219.1 L290.7,218.6 L291.0,218.0 L291.2,218.2 L291.5,218.8 L291.7,218.8 L292.0,218.9 L292.3,219.1 L292.5,218.1 L292.8,218.5 L293.0,218.8 L293.3,219.1 L293.6,218.7 L293.8,218.7 L294.1,217.9 L294.3,218.7 L294.6,218.5 L294.8,218.2 L295.1,218.3 L295.4,218.6 L295.6,219.4 L295.9,218.0 L296.1,218.3 L296.4,218.7 L296.7,218.6 L296.9,218.9 L297.2,218.9 L297.4,219.1 L297.7,218.4 L298.0,218.4 L298.2,218.5 L298.5,218.3 L298.7,218.4 L299.0,218.5 L299.2,218.9 L299.5,218.3 L299.8,218.1 L300.0,218.3 L300.3,218.1 L300.5,218.7 L300.8,218.9 L301.1,218.1 L301.3,218.8 L301.6,218.5 L301.8,218.6 L302.1,218.6 L302.4,218.7 L302.6,218.8 L302.9,219.2 L303.1,217.8 L303.4,218.5 L303.6,219.3 L303.9,218.9 L304.2,219.0 L304.4,218.8 L304.7,219.5 L304.9,218.3 L305.2,217.9 L305.5,218.6 L305.7,218.3 L306.0,218.3 L306.2,219.0 L306.5,218.1 L306.7,219.1 L307.0,218.7 L307.3,218.6 L307.5,218.0 L307.8,218.5 L308.0,218.5 L308.3,218.8 L308.6,218.4 L308.8,218.5 L309.1,218.2 L309.3,217.9 L309.6,218.2 L309.9,218.4 L310.1,218.4 L310.4,217.8 L310.6,218.2 L310.9,218.2 L311.1,217.5 L311.4,217.4 L311.7,217.7 L311.9,217.7 L312.2,217.6 L312.4,216.7 L312.7,216.8 L313.0,215.9 L313.2,216.1 L313.5,215.3 L313.7,214.7 L314.0,214.5 L314.3,214.2 L314.5,214.1 L314.8,214.8 L315.0,215.1 L315.3,215.1 L315.5,214.9 L315.8,216.0 L316.1,216.8 L316.3,217.1 L316.6,217.2 L316.8,217.1 L317.1,217.9 L317.4,217.7 L317.6,218.0 L317.9,218.3 L318.1,218.6 L318.4,218.3 L318.7,218.6 L318.9,218.1 L319.2,219.0 L319.4,217.9 L319.7,218.1 L319.9,218.1 L320.2,217.8 L320.5,218.1 L320.7,218.9 L321.0,218.2 L321.2,218.0 L321.5,218.4 L321.8,218.4 L322.0,217.7 L322.3,217.5 L322.5,217.6 L322.8,217.3 L323.0,217.0 L323.3,216.7 L323.6,216.2 L323.8,215.4 L324.1,216.1 L324.3,215.5 L324.6,214.7 L324.9,215.2 L325.1,215.5 L325.4,215.5 L325.6,216.5 L325.9,217.0 L326.2,217.5 L326.4,217.7 L326.7,217.4 L326.9,217.4 L327.2,218.1 L327.4,218.3 L327.7,218.0 L328.0,218.0 L328.2,218.2 L328.5,219.1 L328.7,218.6 L329.0,219.4" fill="none" stroke="#ff0000" stroke-width="1.25" stroke-linejoin="round"/>
<path d="M44.4,235.4 L44.7,235.5 L44.9,235.5 L45.2,235.2 L45.4,235.2 L45.7,235.3 L46.0,235.4 L46.2,235.4 L46.5,235.5 L46.7,235.4 L47.0,235.1 L47.2,235.5 L47.5,235.5 L47.8,235.4 L48.0,235.3 L48.3,235.3 L48.5,235.5 L48.8,235.4 L49.1,235.4 L49.3,235.6 L49.6,235.4 L49.8,235.5 L50.1,235.3 L50.4,235.3 L50.6,235.5 L50.9,235.4 L51.1,235.4 L51.4,235.5 L51.6,235.5 L51.9,235.3 L52.2,235.5 L52.4,235.6 L52.7,235.5 L52.9,235.3 L53.2,235.1 L53.5,235.5 L53.7,235.4 L54.0,235.4 L54.2,235.6 L54.5,235.3 L54.7,235.4 L55.0,235.4 L55.3,235.1 L55.5,235.4 L55.8,235.3 L56.0,235.3 L56.3,235.5 L56.6,235.5 L56.8,235.2 L57.1,235.3 L57.3,235.4 L57.6,235.5 L57.9,235.3 L58.1,235.3 L58.4,235.1 L58.6,235.2 L58.9,235.3 L59.1,235.4 L59.4,235.4 L59.7,235.5 L59.9,235.4 L60.2,235.4 L60.4,235.3 L60.7,235.3 L61.0,235.4 L61.2,235.5 L61.5,235.3 L61.7,235.2 L62.0,235.5 L62.3,235.3 L62.5,235.3 L62.8,235.3 L63.0,235.3 L63.3,235.4 L63.5,235.4 L63.8,235.2 L64.1,235.2 L64.3,235.6 L64.6,235.7 L64.8,235.3 L65.1,235.5 L65.4,235.5 L65.6,235.6 L65.9,235.3 L66.1,235.4 L66.4,235.5 L66.7,235.3 L66.9,235.1 L67.2,235.2 L67.4,235.2 L67.7,235.5 L67.9,235.3 L68.2,235.4 L68.5,235.2 L68.7,235.3 L69.0,235.4 L69.2,235.3 L69.5,235.5 L69.8,235.3 L70.0,235.2 L70.3,235.4 L70.5,235.3 L70.8,235.6 L71.0,235.3 L71.3,235.3 L71.6,235.5 L71.8,235.2 L72.1,235.4 L72.3,235.6 L72.6,235.6 L72.9,235.3 L73.1,235.4 L73.4,235.2 L73.6,235.6 L73.9,235.4 L74.2,235.3 L74.4,235.5 L74.7,235.3 L74.9,235.4 L75.2,235.4 L75.4,235.4 L75.7,235.1 L76.0,235.6 L76.2,235.3 L76.5,235.2 L76.7,235.5 L77.0,235.4 L77.3,235.1 L77.5,235.3 L77.8,235.8 L78.0,235.4 L78.3,235.6 L78.6,235.4 L78.8,235.5 L79.1,235.5 L79.3,235.5 L79.6,235.4 L79.8,235.5 L80.1,235.5 L80.4,235.4 L80.6,235.3 L80.9,235.5 L81.1,235.2 L81.4,235.6 L81.7,235.3 L81.9,235.4 L82.2,235.2 L82.4,235.5 L82.7,235.5 L83.0,235.6 L83.2,235.1 L83.5,235.3 L83.7,235.5 L84.0,235.4 L84.2,235.5 L84.5,235.2 L84.8,235.3 L85.0,235.7 L85.3,235.4 L85.5,235.3 L85.8,235.4 L86.1,235.3 L86.3,235.4 L86.6,235.4 L86.8,235.4 L87.1,235.5 L87.3,235.3 L87.6,235.4 L87.9,235.4 L88.1,235.5 L88.4,235.5 L88.6,235.4 L88.9,235.3 L89.2,235.7 L89.4,235.5 L89.7,235.2 L89.9,235.3 L90.2,235.5 L90.5,235.2 L90.7,235.5 L91.0,235.5 L91.2,235.1 L91.5,235.5 L91.7,235.4 L92.0,235.6 L92.3,235.5 L92.5,235.6 L92.8,235.4 L93.0,235.6 L93.3,235.2 L93.6,235.4 L93.8,235.5 L94.1,235.5 L94.3,235.3 L94.6,235.2 L94.9,235.4 L95.1,235.2 L95.4,235.2 L95.6,235.2 L95.9,235.4 L96.1,235.6 L96.4,235.3 L96.7,235.4 L96.9,235.4 L97.2,235.6 L97.4,235.4 L97.7,235.4 L98.0,235.5 L98.2,235.3 L98.5,235.2 L98.7,235.4 L99.0,235.5 L99.3,235.1 L99.5,235.7 L99.8,235.5 L100.0,235.3 L100.3,235.5 L100.5,235.7 L100.8,235.4 L101.1,235.3 L101.3,235.5 L101.6,235.2 L101.8,235.3 L102.1,235.2 L102.4,235.6 L102.6,235.4 L102.9,235.2 L103.1,235.1 L103.4,235.2 L103.6,235.4 L103.9,235.4 L104.2,235.5 L104.4,235.2 L104.7,235.5 L104.9,235.4 L105.2,235.7 L105.5,235.6 L105.7,235.1 L106.0,235.4 L106.2,235.3 L106.5,235.7 L106.8,235.4 L107.0,235.1 L107.3,235.6 L107.5,235.7 L107.8,235.4 L108.0,235.4 L108.3,235.4 L108.6,235.5 L108.8,235.5 L109.1,235.5 L109.3,235.3 L109.6,235.4 L109.9,235.2 L110.1,235.5 L110.4,235.3 L110.6,235.4 L110.9,235.3 L111.2,235.2 L111.4,235.3 L111.7,235.4 L111.9,235.6 L112.2,235.3 L112.4,235.2 L112.7,235.4 L113.0,235.3 L113.2,235.5 L113.5,235.5 L113.7,235.2 L114.0,235.1 L114.3,235.3 L114.5,235.5 L114.8,235.3 L115.0,235.4 L115.3,235.3 L115.6,234.9 L115.8,235.1 L116.1,235.2 L116.3,235.0 L116.6,235.1 L116.8,234.9 L117.1,234.9 L117.4,234.7 L117.6,234.7 L117.9,234.0 L118.1,233.5 L118.4,233.3 L118.7,232.5 L118.9,231.3 L119.2,229.9 L119.4,229.0 L119.7,228.0 L119.9,227.5 L120.2,227.4 L120.5,228.1 L120.7,228.9 L121.0,229.8 L121.2,230.9 L121.5,231.9 L121.8,232.8 L122.0,233.6 L122.3,233.9 L122.5,234.4 L122.8,234.5 L123.1,235.2 L123.3,234.8 L123.6,235.4 L123.8,235.1 L124.1,235.2 L124.3,235.1 L124.6,235.3 L124.9,235.3 L125.1,235.2 L125.4,235.2 L125.6,235.4 L125.9,235.6 L126.2,235.4 L126.4,235.2 L126.7,235.4 L126.9,235.2 L127.2,235.4 L127.5,235.4 L127.7,235.2 L128.0,235.1 L128.2,235.3 L128.5,235.3 L128.7,235.2 L129.0,235.5 L129.3,235.5 L129.5,235.2 L129.8,235.2 L130.0,235.4 L130.3,235.4 L130.6,235.3 L130.8,235.5 L131.1,235.4 L131.3,235.4 L131.6,235.7 L131.8,235.3 L132.1,235.2 L132.4,235.2 L132.6,235.5 L132.9,235.5 L133.1,235.4 L133.4,235.5 L133.7,235.0 L133.9,235.5 L134.2,235.4 L134.4,235.3 L134.7,235.2 L135.0,235.1 L135.2,235.4 L135.5,235.1 L135.7,235.1 L136.0,235.3 L136.2,235.0 L136.5,235.0 L136.8,234.4 L137.0,234.5 L137.3,233.9 L137.5,233.6 L137.8,233.5 L138.1,233.3 L138.3,233.1 L138.6,233.3 L138.8,233.2 L139.1,233.5 L139.4,234.0 L139.6,234.3 L139.9,234.4 L140.1,234.9 L140.4,234.7 L140.6,235.1 L140.9,235.2 L141.2,235.3 L141.4,235.0 L141.7,235.2 L141.9,235.1 L142.2,235.2 L142.5,235.3 L142.7,235.1 L143.0,235.2 L143.2,235.3 L143.5,235.3 L143.8,235.2 L144.0,235.3 L144.3,235.4 L144.5,235.6 L144.8,235.1 L145.0,235.5 L145.3,235.7 L145.6,235.5 L145.8,235.1 L146.1,235.2 L146.3,235.5 L146.6,235.3 L146.9,235.4 L147.1,235.7 L147.4,235.4 L147.6,235.3 L147.9,235.2 L148.1,235.5 L148.4,235.7 L148.7,235.6 L148.9,235.3 L149.2,235.4 L149.4,235.4 L149.7,235.4 L150.0,235.4 L150.2,235.6 L150.5,235.3 L150.7,235.3 L151.0,235.3 L151.3,235.2 L151.5,235.6 L151.8,235.7 L152.0,235.6 L152.3,235.1 L152.5,235.5 L152.8,235.3 L153.1,235.4 L153.3,235.3 L153.6,234.9 L153.8,235.5 L154.1,235.4 L154.4,235.5 L154.6,235.4 L154.9,235.3 L155.1,235.5 L155.4,235.2 L155.7,235.2 L155.9,235.3 L156.2,235.4 L156.4,235.4 L156.7,235.6 L156.9,235.3 L157.2,235.5 L157.5,235.5 L157.7,235.3 L158.0,235.5 L158.2,235.5 L158.5,235.3 L158.8,235.1 L159.0,235.5 L159.3,235.2 L159.5,235.5 L159.8,235.3 L160.1,235.3 L160.3,235.5 L160.6,235.2 L160.8,235.1 L161.1,235.4 L161.3,235.4 L161.6,235.6 L161.9,235.1 L162.1,235.4 L162.4,235.6 L162.6,235.3 L162.9,235.6 L163.2,235.5 L163.4,235.7 L163.7,235.2 L163.9,235.1 L164.2,235.5 L164.4,235.5 L164.7,235.5 L165.0,235.5 L165.2,235.3 L165.5,235.2 L165.7,235.5 L166.0,235.3 L166.3,235.6 L166.5,235.2 L166.8,235.4 L167.0,235.5 L167.3,235.2 L167.6,235.4 L167.8,235.2 L168.1,235.2 L168.3,235.2 L168.6,235.5 L168.8,235.4 L169.1,235.3 L169.4,235.4 L169.6,235.2 L169.9,235.5 L170.1,235.2 L170.4,235.2 L170.7,235.7 L170.9,235.5 L171.2,235.5 L171.4,235.5 L171.7,235.3 L172.0,235.4 L172.2,235.4 L172.5,235.5 L172.7,235.4 L173.0,235.3 L173.2,235.3 L173.5,235.5 L173.8,235.4 L174.0,235.5 L174.3,235.4 L174.5,235.6 L174.8,235.3 L175.1,235.3 L175.3,235.4 L175.6,235.5 L175.8,235.5 L176.1,235.5 L176.4,235.6 L176.6,235.2 L176.9,234.9 L177.1,235.6 L177.4,235.5 L177.6,235.3 L177.9,235.3 L178.2,235.6 L178.4,235.7 L178.7,235.3 L178.9,235.7 L179.2,235.2 L179.5,235.5 L179.7,235.4 L180.0,235.4 L180.2,235.5 L180.5,235.4 L180.7,235.4 L181.0,235.2 L181.3,235.4 L181.5,235.4 L181.8,235.5 L182.0,235.5 L182.3,235.5 L182.6,235.4 L182.8,235.1 L183.1,235.2 L183.3,235.3 L183.6,235.1 L183.9,235.2 L184.1,235.3 L184.4,235.4 L184.6,235.5 L184.9,235.3 L185.1,235.4 L185.4,235.6 L185.7,235.5 L185.9,235.1 L186.2,235.3 L186.4,235.3 L186.7,235.3 L187.0,235.4 L187.2,235.3 L187.5,235.2 L187.7,235.4 L188.0,235.3 L188.3,235.2 L188.5,235.4 L188.8,235.3 L189.0,235.4 L189.3,235.2 L189.5,235.4 L189.8,235.2 L190.1,235.4 L190.3,235.1 L190.6,235.3 L190.8,235.4 L191.1,235.4 L191.4,235.2 L191.6,235.4 L191.9,235.0 L192.1,235.1 L192.4,235.1 L192.7,235.4 L192.9,235.2 L193.2,235.2 L193.4,235.4 L193.7,235.0 L193.9,234.6 L194.2,234.9 L194.5,234.5 L194.7,234.2 L195.0,234.1 L195.2,233.6 L195.5,232.9 L195.8,232.2 L196.0,231.7 L196.3,230.7 L196.5,230.0 L196.8,229.3 L197.0,229.3 L197.3,229.2 L197.6,229.6 L197.8,230.2 L198.1,230.8 L198.3,231.8 L198.6,232.0 L198.9,233.2 L199.1,233.5 L199.4,234.0 L199.6,234.3 L199.9,234.7 L200.2,235.0 L200.4,235.0 L200.7,235.0 L200.9,235.1 L201.2,235.1 L201.4,235.1 L201.7,235.3 L202.0,235.4 L202.2,235.0 L202.5,235.3 L202.7,235.5 L203.0,235.0 L203.3,235.4 L203.5,235.4 L203.8,235.2 L204.0,235.5 L204.3,235.4 L204.6,235.2 L204.8,235.4 L205.1,235.0 L205.3,235.3 L205.6,235.0 L205.8,235.3 L206.1,235.3 L206.4,235.4 L206.6,235.4 L206.9,235.4 L207.1,235.4 L207.4,235.2 L207.7,235.5 L207.9,235.5 L208.2,235.7 L208.4,235.1 L208.7,235.4 L209.0,235.4 L209.2,235.4 L209.5,235.2 L209.7,235.3 L210.0,235.2 L210.2,235.4 L210.5,235.4 L210.8,235.4 L211.0,235.6 L211.3,235.2 L211.5,235.6 L211.8,235.5 L212.1,235.3 L212.3,235.4 L212.6,235.3 L212.8,235.1 L213.1,235.1 L213.3,235.2 L213.6,235.4 L213.9,235.1 L214.1,235.5 L214.4,235.4 L214.6,235.2 L214.9,235.4 L215.2,235.4 L215.4,235.4 L215.7,235.2 L215.9,235.7 L216.2,235.2 L216.5,235.2 L216.7,235.4 L217.0,235.3 L217.2,235.5 L217.5,235.2 L217.7,234.9 L218.0,235.5 L218.3,235.2 L218.5,235.4 L218.8,235.4 L219.0,235.4 L219.3,235.4 L219.6,235.5 L219.8,235.6 L220.1,235.1 L220.3,235.4 L220.6,235.3 L220.9,235.3 L221.1,235.3 L221.4,235.6 L221.6,235.5 L221.9,235.3 L222.1,235.2 L222.4,235.5 L222.7,235.4 L222.9,235.5 L223.2,235.3 L223.4,235.3 L223.7,235.3 L224.0,235.4 L224.2,235.3 L224.5,235.3 L224.7,235.4 L225.0,235.3 L225.3,235.4 L225.5,235.2 L225.8,235.2 L226.0,235.4 L226.3,235.2 L226.5,235.3 L226.8,235.4 L227.1,235.4 L227.3,235.5 L227.6,235.4 L227.8,235.2 L228.1,235.1 L228.4,235.3 L228.6,235.2 L228.9,235.1 L229.1,235.0 L229.4,235.0 L229.6,234.8 L229.9,234.7 L230.2,234.8 L230.4,234.3 L230.7,234.4 L230.9,233.6 L231.2,233.1 L231.5,232.4 L231.7,231.8 L232.0,231.0 L232.2,230.4 L232.5,230.3 L232.8,230.2 L233.0,230.2 L233.3,230.6 L233.5,231.3 L233.8,231.8 L234.0,232.7 L234.3,233.1 L234.6,233.5 L234.8,234.0 L235.1,234.4 L235.3,234.7 L235.6,234.8 L235.9,235.0 L236.1,235.3 L236.4,235.2 L236.6,235.2 L236.9,235.3 L237.2,235.3 L237.4,235.3 L237.7,235.3 L237.9,235.2 L238.2,235.3 L238.4,235.2 L238.7,235.1 L239.0,235.3 L239.2,235.2 L239.5,235.5 L239.7,235.7 L240.0,235.3 L240.3,235.2 L240.5,235.3 L240.8,235.3 L241.0,235.4 L241.3,235.1 L241.6,235.2 L241.8,235.1 L242.1,234.9 L242.3,234.8 L242.6,234.5 L242.8,234.7 L243.1,234.4 L243.4,234.4 L243.6,234.4 L243.9,234.3 L244.1,234.3 L244.4,234.4 L244.7,234.3 L244.9,234.6 L245.2,234.4 L245.4,234.8 L245.7,234.9 L245.9,235.0 L246.2,235.1 L246.5,235.1 L246.7,235.3 L247.0,235.4 L247.2,235.6 L247.5,235.5 L247.8,235.1 L248.0,235.3 L248.3,235.3 L248.5,235.4 L248.8,235.4 L249.1,235.3 L249.3,235.5 L249.6,235.5 L249.8,235.5 L250.1,235.2 L250.3,235.5 L250.6,235.2 L250.9,235.4 L251.1,235.0 L251.4,235.4 L251.6,235.4 L251.9,235.2 L252.2,235.3 L252.4,235.2 L252.7,235.5 L252.9,235.2 L253.2,235.1 L253.5,235.4 L253.7,235.4 L254.0,235.5 L254.2,235.2 L254.5,235.3 L254.7,235.4 L255.0,235.6 L255.3,235.2 L255.5,235.3 L255.8,235.4 L256.0,235.2 L256.3,235.5 L256.6,235.3 L256.8,235.5 L257.1,235.2 L257.3,235.4 L257.6,235.2 L257.9,235.4 L258.1,235.3 L258.4,235.2 L258.6,235.5 L258.9,235.4 L259.1,235.5 L259.4,235.3 L259.7,235.5 L259.9,235.4 L260.2,235.4 L260.4,235.2 L260.7,235.5 L261.0,235.4 L261.2,235.4 L261.5,235.5 L261.7,235.5 L262.0,235.4 L262.2,235.4 L262.5,235.6 L262.8,235.4 L263.0,235.6 L263.3,235.4 L263.5,235.1 L263.8,235.5 L264.1,235.4 L264.3,235.4 L264.6,235.3 L264.8,235.5 L265.1,235.6 L265.4,235.6 L265.6,235.4 L265.9,235.4 L266.1,235.2 L266.4,235.5 L266.6,235.3 L266.9,235.5 L267.2,235.2 L267.4,235.4 L267.7,235.5 L267.9,235.4 L268.2,235.1 L268.5,235.5 L268.7,235.6 L269.0,235.5 L269.2,235.6 L269.5,235.4 L269.8,235.3 L270.0,235.4 L270.3,235.4 L270.5,235.2 L270.8,235.4 L271.0,235.6 L271.3,235.7 L271.6,235.4 L271.8,235.5 L272.1,235.4 L272.3,235.3 L272.6,235.3 L272.9,235.6 L273.1,235.5 L273.4,235.4 L273.6,235.4 L273.9,235.2 L274.1,235.5 L274.4,235.7 L274.7,235.2 L274.9,235.6 L275.2,235.5 L275.4,235.3 L275.7,235.5 L276.0,235.0 L276.2,235.4 L276.5,235.3 L276.7,235.4 L277.0,235.1 L277.3,235.3 L277.5,235.5 L277.8,235.2 L278.0,235.6 L278.3,235.5 L278.5,235.3 L278.8,235.4 L279.1,235.5 L279.3,235.2 L279.6,235.2 L279.8,235.5 L280.1,235.3 L280.4,235.5 L280.6,235.4 L280.9,235.2 L281.1,235.3 L281.4,235.4 L281.7,235.3 L281.9,235.5 L282.2,235.2 L282.4,235.4 L282.7,235.1 L282.9,235.4 L283.2,235.3 L283.5,235.0 L283.7,235.2 L284.0,235.2 L284.2,235.1 L284.5,234.9 L284.8,234.6 L285.0,234.7 L285.3,234.8 L285.5,234.8 L285.8,234.7 L286.1,234.5 L286.3,234.5 L286.6,234.6 L286.8,234.4 L287.1,234.7 L287.3,234.8 L287.6,234.7 L287.9,234.8 L288.1,235.0 L288.4,234.9 L288.6,235.3 L288.9,234.9 L289.2,234.9 L289.4,235.0 L289.7,235.3 L289.9,235.0 L290.2,235.3 L290.4,235.1 L290.7,235.4 L291.0,235.3 L291.2,235.3 L291.5,235.6 L291.7,235.4 L292.0,235.1 L292.3,235.8 L292.5,235.3 L292.8,235.2 L293.0,235.3 L293.3,235.3 L293.6,235.2 L293.8,235.3 L294.1,235.6 L294.3,235.5 L294.6,235.4 L294.8,235.4 L295.1,235.4 L295.4,235.4 L295.6,235.1 L295.9,235.8 L296.1,235.2 L296.4,235.3 L296.7,235.3 L296.9,235.4 L297.2,235.4 L297.4,235.3 L297.7,235.3 L298.0,235.5 L298.2,235.3 L298.5,235.5 L298.7,235.4 L299.0,235.4 L299.2,235.5 L299.5,235.3 L299.8,235.4 L300.0,235.5 L300.3,235.4 L300.5,235.6 L300.8,235.2 L301.1,235.3 L301.3,235.1 L301.6,235.5 L301.8,235.3 L302.1,235.5 L302.4,235.5 L302.6,235.4 L302.9,235.3 L303.1,235.3 L303.4,235.4 L303.6,235.2 L303.9,235.2 L304.2,235.5 L304.4,235.4 L304.7,235.5 L304.9,235.1 L305.2,235.5 L305.5,235.3 L305.7,235.2 L306.0,235.4 L306.2,235.4 L306.5,235.3 L306.7,235.5 L307.0,235.5 L307.3,235.5 L307.5,235.3 L307.8,235.3 L308.0,235.1 L308.3,235.6 L308.6,235.3 L308.8,235.5 L309.1,235.2 L309.3,235.2 L309.6,235.3 L309.9,235.1 L310.1,235.4 L310.4,235.4 L310.6,235.5 L310.9,235.4 L311.1,235.3 L311.4,235.2 L311.7,235.0 L311.9,235.2 L312.2,235.2 L312.4,235.1 L312.7,235.0 L313.0,234.9 L313.2,234.8 L313.5,234.7 L313.7,234.4 L314.0,234.3 L314.3,234.1 L314.5,234.1 L314.8,233.8 L315.0,233.6 L315.3,233.6 L315.5,233.8 L315.8,234.0 L316.1,234.1 L316.3,234.2 L316.6,234.3 L316.8,234.5 L317.1,234.8 L317.4,234.6 L317.6,235.1 L317.9,235.0 L318.1,235.1 L318.4,235.0 L318.7,234.9 L318.9,235.2 L319.2,235.3 L319.4,235.3 L319.7,235.3 L319.9,235.3 L320.2,234.9 L320.5,235.4 L320.7,235.3 L321.0,235.4 L321.2,235.2 L321.5,235.3 L321.8,235.1 L322.0,235.4 L322.3,234.9 L322.5,235.1 L322.8,235.3 L323.0,234.9 L323.3,234.9 L323.6,234.9 L323.8,234.6 L324.1,234.6 L324.3,234.3 L324.6,234.4 L324.9,234.1 L325.1,234.1 L325.4,234.0 L325.6,234.1 L325.9,234.2 L326.2,234.3 L326.4,234.3 L326.7,234.4 L326.9,234.7 L327.2,234.4 L327.4,234.6 L327.7,235.1 L328.0,234.9 L328.2,235.1 L328.5,235.1 L328.7,235.3 L329.0,235.0" fill="none" stroke="#111111" stroke-width="1.25" stroke-linejoin="round"/>
<line x1="120.05" y1="70.8" x2="120.05" y2="240.7" stroke="#111" stroke-width="1.25" stroke-dasharray="4.4 2.4"/>
<rect x="44.4" y="5.5" width="284.6" height="235.2" fill="none" stroke="#0c0c0c" stroke-width="1.7"/>
<line x1="44.4" y1="240.7" x2="44.4" y2="245.5" stroke="#0c0c0c" stroke-width="1.4"/>
<text x="44.40" y="258.20" font-size="12.3" text-anchor="middle" fill="#0c0c0c" stroke="#0c0c0c" stroke-width="0.295" stroke-linejoin="round" >10</text>
<line x1="85.1" y1="240.7" x2="85.1" y2="245.5" stroke="#0c0c0c" stroke-width="1.4"/>
<text x="85.06" y="258.20" font-size="12.3" text-anchor="middle" fill="#0c0c0c" stroke="#0c0c0c" stroke-width="0.295" stroke-linejoin="round" >20</text>
<line x1="125.7" y1="240.7" x2="125.7" y2="245.5" stroke="#0c0c0c" stroke-width="1.4"/>
<text x="125.71" y="258.20" font-size="12.3" text-anchor="middle" fill="#0c0c0c" stroke="#0c0c0c" stroke-width="0.295" stroke-linejoin="round" >30</text>
<line x1="166.4" y1="240.7" x2="166.4" y2="245.5" stroke="#0c0c0c" stroke-width="1.4"/>
<text x="166.37" y="258.20" font-size="12.3" text-anchor="middle" fill="#0c0c0c" stroke="#0c0c0c" stroke-width="0.295" stroke-linejoin="round" >40</text>
<line x1="207.0" y1="240.7" x2="207.0" y2="245.5" stroke="#0c0c0c" stroke-width="1.4"/>
<text x="207.03" y="258.20" font-size="12.3" text-anchor="middle" fill="#0c0c0c" stroke="#0c0c0c" stroke-width="0.295" stroke-linejoin="round" >50</text>
<line x1="247.7" y1="240.7" x2="247.7" y2="245.5" stroke="#0c0c0c" stroke-width="1.4"/>
<text x="247.69" y="258.20" font-size="12.3" text-anchor="middle" fill="#0c0c0c" stroke="#0c0c0c" stroke-width="0.295" stroke-linejoin="round" >60</text>
<line x1="288.3" y1="240.7" x2="288.3" y2="245.5" stroke="#0c0c0c" stroke-width="1.4"/>
<text x="288.34" y="258.20" font-size="12.3" text-anchor="middle" fill="#0c0c0c" stroke="#0c0c0c" stroke-width="0.295" stroke-linejoin="round" >70</text>
<line x1="329.0" y1="240.7" x2="329.0" y2="245.5" stroke="#0c0c0c" stroke-width="1.4"/>
<text x="329.00" y="258.20" font-size="12.3" text-anchor="middle" fill="#0c0c0c" stroke="#0c0c0c" stroke-width="0.295" stroke-linejoin="round" >80</text>
<text x="154.40" y="280.40" font-size="12.3" text-anchor="start" fill="#0c0c0c" stroke="#0c0c0c" stroke-width="0.295" stroke-linejoin="round" >2</text>
<text x="161.60" y="280.40" font-size="11.6" text-anchor="start" fill="#0c0c0c" stroke="#0c0c0c" stroke-width="0.278" stroke-linejoin="round" style="font-family:'Liberation Serif',serif;font-weight:normal">&#952;</text>
<text x="170.80" y="280.40" font-size="12.2" text-anchor="start" fill="#0c0c0c" stroke="#0c0c0c" stroke-width="0.293" stroke-linejoin="round" >Degrees</text>
<text x="28.30" y="131.60" font-size="12.35" text-anchor="middle" fill="#0c0c0c" stroke="#0c0c0c" stroke-width="0.296" stroke-linejoin="round" transform="rotate(-90 28.30 131.60)" >Relative Intensity (a.u.)</text>
<text x="15.35" y="31.70" font-size="17.9" text-anchor="middle" fill="#0c0c0c" stroke="#0c0c0c" stroke-width="0.43" stroke-linejoin="round" >(a)</text>
<line x1="51.2" y1="16.9" x2="76.7" y2="16.9" stroke="#108a10" stroke-width="1.15"/>
<text x="79.80" y="20.30" font-size="9.8" text-anchor="start" fill="#0c0c0c" stroke="#0c0c0c" stroke-width="0.235" stroke-linejoin="round" >20GDC</text>
<line x1="112.6" y1="16.9" x2="138.0" y2="16.9" stroke="#ff00ff" stroke-width="1.15"/>
<text x="141.10" y="20.30" font-size="9.8" text-anchor="start" fill="#0c0c0c" stroke="#0c0c0c" stroke-width="0.235" stroke-linejoin="round" >15GDC</text>
<line x1="174.0" y1="16.9" x2="199.1" y2="16.9" stroke="#0000ff" stroke-width="1.15"/>
<text x="202.20" y="20.30" font-size="9.8" text-anchor="start" fill="#0c0c0c" stroke="#0c0c0c" stroke-width="0.235" stroke-linejoin="round" >10GDC</text>
<line x1="234.6" y1="16.9" x2="259.9" y2="16.9" stroke="#ff0000" stroke-width="1.15"/>
<text x="263.00" y="20.30" font-size="9.8" text-anchor="start" fill="#0c0c0c" stroke="#0c0c0c" stroke-width="0.235" stroke-linejoin="round" >5GDC</text>
<line x1="51.2" y1="31.2" x2="76.7" y2="31.2" stroke="#111111" stroke-width="1.15"/>
<text x="79.80" y="34.60" font-size="9.8" text-anchor="start" fill="#0c0c0c" stroke="#0c0c0c" stroke-width="0.235" stroke-linejoin="round" >Pure Ceria</text>
<text x="121.90" y="57.20" font-size="9.4" text-anchor="middle" fill="#0c0c0c" stroke="#0c0c0c" stroke-width="0.226" stroke-linejoin="round" transform="rotate(-90 121.90 57.20)" >(111)</text>
<text x="139.50" y="95.50" font-size="9.4" text-anchor="middle" fill="#0c0c0c" stroke="#0c0c0c" stroke-width="0.226" stroke-linejoin="round" transform="rotate(-90 139.50 95.50)" >(200)</text>
<text x="198.60" y="86.40" font-size="9.4" text-anchor="middle" fill="#0c0c0c" stroke="#0c0c0c" stroke-width="0.226" stroke-linejoin="round" transform="rotate(-90 198.60 86.40)" >(220)</text>
<text x="236.30" y="91.50" font-size="9.4" text-anchor="middle" fill="#0c0c0c" stroke="#0c0c0c" stroke-width="0.226" stroke-linejoin="round" transform="rotate(-90 236.30 91.50)" >(311)</text>
<text x="246.30" y="105.50" font-size="9.4" text-anchor="middle" fill="#0c0c0c" stroke="#0c0c0c" stroke-width="0.226" stroke-linejoin="round" transform="rotate(-90 246.30 105.50)" >(222)</text>
<text x="288.50" y="106.20" font-size="9.4" text-anchor="middle" fill="#0c0c0c" stroke="#0c0c0c" stroke-width="0.226" stroke-linejoin="round" transform="rotate(-90 288.50 106.20)" >(400)</text>
<text x="316.20" y="103.90" font-size="9.4" text-anchor="middle" fill="#0c0c0c" stroke="#0c0c0c" stroke-width="0.226" stroke-linejoin="round" transform="rotate(-90 316.20 103.90)" >(331)</text>
<text x="328.50" y="105.80" font-size="9.4" text-anchor="middle" fill="#0c0c0c" stroke="#0c0c0c" stroke-width="0.226" stroke-linejoin="round" transform="rotate(-90 328.50 105.80)" >(420)</text>
</g>
<g id="panel-b">
<path d="M388.2,237.0 L388.7,237.1 L389.2,237.0 L389.7,237.2 L390.2,237.2 L390.7,237.0 L391.2,237.1 L391.7,237.1 L392.2,237.1 L392.7,237.1 L393.2,237.0 L393.7,237.1 L394.2,237.0 L394.7,237.2 L395.2,237.3 L395.7,237.1 L396.2,237.2 L396.7,237.1 L397.2,237.0 L397.7,237.1 L398.2,237.0 L398.7,237.1 L399.2,237.1 L399.7,237.2 L400.2,237.1 L400.7,237.0 L401.2,237.1 L401.7,237.2 L402.2,237.1 L402.7,237.1 L403.2,236.9 L403.7,237.0 L404.2,237.1 L404.7,237.0 L405.2,237.2 L405.7,237.0 L406.2,237.0 L406.7,237.0 L407.2,237.1 L407.7,237.1 L408.2,237.0 L408.7,236.9 L409.2,237.1 L409.7,237.1 L410.2,237.2 L410.7,237.0 L411.2,237.2 L411.7,237.1 L412.2,237.1 L412.7,237.0 L413.2,237.0 L413.7,237.0 L414.2,237.1 L414.7,237.1 L415.2,237.1 L415.7,237.2 L416.2,237.1 L416.7,237.0 L417.2,237.2 L417.7,236.9 L418.2,237.0 L418.7,237.0 L419.2,237.0 L419.7,237.1 L420.2,237.0 L420.7,237.1 L421.2,236.9 L421.7,237.0 L422.2,236.9 L422.7,236.9 L423.2,237.1 L423.7,237.1 L424.2,237.0 L424.7,237.1 L425.2,237.1 L425.7,237.0 L426.2,237.0 L426.7,237.1 L427.2,237.2 L427.7,237.0 L428.2,237.1 L428.7,237.1 L429.2,237.1 L429.7,237.1 L430.2,237.1 L430.7,236.9 L431.2,237.0 L431.7,236.9 L432.2,237.0 L432.7,237.2 L433.2,237.0 L433.7,237.0 L434.2,237.0 L434.7,237.0 L435.2,236.9 L435.7,237.0 L436.2,237.0 L436.7,237.0 L437.2,236.9 L437.7,237.0 L438.2,236.9 L438.7,236.9 L439.2,237.0 L439.7,236.9 L440.2,237.1 L440.7,237.1 L441.2,237.0 L441.7,237.0 L442.2,237.0 L442.7,236.9 L443.2,237.0 L443.7,237.1 L444.2,237.1 L444.7,237.0 L445.2,237.0 L445.7,237.0 L446.2,237.0 L446.7,237.0 L447.2,237.0 L447.7,236.9 L448.2,237.0 L448.7,236.9 L449.2,237.1 L449.7,236.9 L450.2,237.1 L450.7,237.0 L451.2,236.9 L451.7,237.0 L452.2,237.0 L452.7,236.9 L453.2,237.0 L453.7,236.9 L454.2,236.8 L454.7,237.0 L455.2,237.0 L455.7,237.1 L456.2,237.0 L456.7,236.8 L457.2,237.0 L457.7,236.9 L458.2,237.0 L458.7,237.1 L459.2,237.0 L459.7,236.8 L460.2,236.9 L460.7,236.8 L461.2,237.0 L461.7,237.0 L462.2,236.8 L462.7,236.9 L463.2,237.0 L463.7,237.0 L464.2,236.8 L464.7,236.8 L465.2,236.8 L465.7,236.8 L466.2,236.9 L466.7,236.9 L467.2,236.9 L467.7,236.8 L468.2,236.8 L468.7,236.7 L469.2,236.9 L469.7,236.8 L470.2,236.7 L470.7,236.6 L471.2,236.6 L471.7,236.7 L472.2,236.6 L472.7,236.7 L473.2,236.7 L473.7,236.5 L474.2,236.4 L474.7,236.6 L475.2,236.6 L475.7,236.4 L476.2,236.3 L476.7,236.5 L477.2,236.4 L477.7,236.3 L478.2,236.4 L478.7,236.3 L479.2,236.3 L479.7,236.2 L480.2,236.1 L480.7,236.2 L481.2,236.0 L481.7,235.9 L482.2,236.0 L482.7,236.1 L483.2,236.0 L483.7,236.0 L484.2,235.9 L484.7,235.9 L485.2,235.7 L485.7,235.6 L486.2,235.6 L486.7,235.4 L487.2,235.5 L487.7,235.3 L488.2,235.3 L488.7,235.2 L489.2,235.2 L489.7,235.2 L490.2,235.1 L490.7,235.0 L491.2,235.0 L491.7,235.0 L492.2,234.8 L492.7,234.7 L493.2,234.6 L493.7,234.6 L494.2,234.7 L494.7,234.6 L495.2,234.5 L495.7,234.5 L496.2,234.4 L496.7,234.3 L497.2,234.2 L497.7,234.0 L498.2,234.0 L498.7,233.9 L499.2,233.8 L499.7,233.5 L500.2,233.5 L500.7,233.5 L501.2,233.1 L501.7,232.9 L502.2,232.8 L502.7,232.5 L503.2,232.3 L503.7,231.8 L504.2,231.8 L504.7,231.4 L505.2,231.2 L505.7,230.7 L506.2,230.2 L506.7,229.8 L507.2,229.3 L507.7,228.8 L508.2,228.5 L508.7,228.1 L509.2,227.6 L509.7,227.3 L510.2,226.8 L510.7,226.4 L511.2,226.0 L511.7,225.7 L512.2,225.4 L512.7,225.3 L513.2,225.2 L513.7,225.3 L514.2,225.5 L514.7,225.9 L515.2,226.2 L515.7,226.7 L516.2,227.2 L516.7,227.5 L517.2,227.9 L517.7,228.2 L518.2,228.6 L518.7,229.1 L519.2,229.3 L519.7,229.6 L520.2,230.0 L520.7,230.5 L521.2,230.9 L521.7,231.2 L522.2,231.4 L522.7,231.8 L523.2,232.0 L523.7,232.3 L524.2,232.7 L524.7,232.9 L525.2,233.2 L525.7,233.4 L526.2,233.7 L526.7,233.9 L527.2,234.3 L527.7,234.5 L528.2,234.6 L528.7,234.7 L529.2,234.9 L529.7,235.1 L530.2,235.3 L530.7,235.3 L531.2,235.6 L531.7,235.6 L532.2,235.9 L532.7,236.0 L533.2,236.0 L533.7,236.3 L534.2,236.2 L534.7,236.4 L535.2,236.2 L535.7,236.2 L536.2,236.4 L536.7,236.2 L537.2,236.2 L537.7,236.4 L538.2,236.2 L538.7,236.3 L539.2,236.2 L539.7,236.4 L540.2,236.3 L540.7,236.3 L541.2,236.3 L541.7,236.2 L542.2,236.3 L542.7,236.2 L543.2,236.3 L543.7,236.4 L544.2,236.4 L544.7,236.4 L545.2,236.4 L545.7,236.2 L546.2,236.2 L546.7,236.4 L547.2,236.3 L547.7,236.4 L548.2,236.3 L548.7,236.2 L549.2,236.3 L549.7,236.2 L550.2,236.2 L550.7,236.2 L551.2,236.2 L551.7,236.2 L552.2,236.2 L552.7,236.3 L553.2,236.4 L553.7,236.4 L554.2,236.2 L554.7,236.3 L555.2,236.2 L555.7,236.2 L556.2,236.1 L556.7,236.2 L557.2,236.0 L557.7,236.3 L558.2,236.1 L558.7,236.2 L559.2,236.1 L559.7,236.1 L560.2,236.0 L560.7,236.0 L561.2,236.1 L561.7,236.1 L562.2,235.9 L562.7,236.1 L563.2,235.9 L563.7,236.0 L564.2,236.0 L564.7,235.9 L565.2,235.9 L565.7,235.9 L566.2,236.0 L566.7,236.0 L567.2,236.0 L567.7,235.9 L568.2,236.0 L568.7,235.8 L569.2,236.0 L569.7,235.8 L570.2,235.9 L570.7,235.8 L571.2,235.8 L571.7,235.7 L572.2,235.8 L572.7,235.9 L573.2,235.8 L573.7,235.8 L574.2,235.7 L574.7,235.8 L575.2,235.7 L575.7,235.7 L576.2,235.7 L576.7,235.8 L577.2,235.8 L577.7,235.6 L578.2,235.7 L578.7,235.7 L579.2,235.8 L579.7,235.8 L580.2,235.7 L580.7,235.9 L581.2,235.7 L581.7,235.8 L582.2,235.8 L582.7,235.9 L583.2,235.8 L583.7,235.8 L584.2,235.7 L584.7,235.7 L585.2,235.8 L585.7,235.9 L586.2,236.0 L586.7,235.9 L587.2,236.0 L587.7,236.0 L588.2,236.1 L588.7,235.9 L589.2,236.0 L589.7,236.0 L590.2,236.1 L590.7,236.3 L591.2,236.1 L591.7,236.2 L592.2,236.2 L592.7,236.4 L593.2,236.3 L593.7,236.4 L594.2,236.4 L594.7,236.4 L595.2,236.3 L595.7,236.4 L596.2,236.4 L596.7,236.7 L597.2,236.5 L597.7,236.5 L598.2,236.6 L598.7,236.6 L599.2,236.6 L599.7,236.8 L600.2,236.7 L600.7,236.7 L601.2,236.6 L601.7,236.6 L602.2,236.6 L602.7,236.7 L603.2,236.7 L603.7,236.6 L604.2,236.7 L604.7,237.0 L605.2,236.6 L605.7,236.6 L606.2,236.8 L606.7,236.7 L607.2,236.7 L607.7,236.8 L608.2,236.7 L608.7,236.8 L609.2,236.8 L609.7,236.9 L610.2,236.8 L610.7,236.6 L611.2,236.9 L611.7,236.6 L612.2,236.9 L612.7,236.8 L613.2,236.7 L613.7,236.8 L614.2,236.9 L614.7,236.7 L615.2,236.8 L615.7,236.7 L616.2,236.7 L616.7,236.8 L617.2,236.9 L617.7,236.9 L618.2,236.8 L618.7,236.8 L619.2,236.8 L619.7,236.8 L620.2,236.8 L620.7,236.7 L621.2,236.9 L621.7,236.8 L622.2,236.6 L622.7,236.9 L623.2,236.8 L623.7,236.8 L624.2,236.8 L624.7,236.8 L625.2,236.9 L625.7,236.8 L626.2,236.8 L626.7,236.8 L627.2,236.8 L627.7,236.8 L628.2,236.9 L628.7,237.0 L629.2,236.9 L629.7,236.9 L630.2,236.8 L630.7,237.0 L631.2,236.9 L631.7,237.0 L632.2,236.7 L632.7,236.9 L633.2,236.9 L633.7,237.0 L634.2,236.8 L634.7,236.9 L635.2,237.1 L635.7,237.0 L636.2,236.7 L636.7,236.9 L637.2,237.0 L637.7,236.8 L638.2,236.9 L638.7,236.9 L639.2,236.8 L639.7,236.9 L640.2,237.0 L640.7,237.0 L641.2,236.9 L641.7,237.0 L642.2,236.9 L642.7,236.9 L643.2,236.9 L643.7,236.8 L644.2,236.9 L644.7,236.9 L645.2,236.7 L645.7,236.9 L646.2,236.9 L646.7,236.9 L647.2,236.8 L647.7,236.9 L648.2,236.7 L648.7,237.0 L649.2,236.9 L649.7,236.9 L650.2,236.9 L650.7,236.9 L651.2,236.9 L651.7,236.8 L652.2,236.8 L652.7,236.9 L653.2,237.0 L653.7,237.0 L654.2,237.1 L654.7,236.8 L655.2,236.9 L655.7,236.9 L656.2,237.0 L656.7,237.1 L657.2,236.9 L657.7,237.0 L658.2,236.9 L658.7,236.9 L659.2,236.9 L659.7,236.9 L660.2,237.1 L660.7,237.0 L661.2,237.1 L661.7,237.0 L662.2,236.8 L662.7,237.0 L663.2,237.0 L663.7,236.8 L664.2,237.0 L664.7,237.1 L665.2,237.1 L665.7,236.9 L666.2,237.0 L666.7,237.0 L667.2,237.0 L667.7,237.0 L668.2,237.0 L668.7,237.0 L669.2,237.0 L669.7,237.0 L670.2,236.9 L670.7,237.1 L671.2,237.1" fill="none" stroke="#111111" stroke-width="1.75" stroke-linejoin="round"/>
<path d="M388.2,236.9 L388.7,237.0 L389.2,237.1 L389.7,236.8 L390.2,237.0 L390.7,237.2 L391.2,236.9 L391.7,236.8 L392.2,237.1 L392.7,236.9 L393.2,236.9 L393.7,236.8 L394.2,236.9 L394.7,236.7 L395.2,236.7 L395.7,236.7 L396.2,236.9 L396.7,236.8 L397.2,236.9 L397.7,236.6 L398.2,236.7 L398.7,236.9 L399.2,236.6 L399.7,236.5 L400.2,236.6 L400.7,236.6 L401.2,236.6 L401.7,236.8 L402.2,236.7 L402.7,236.7 L403.2,236.6 L403.7,236.5 L404.2,236.5 L404.7,236.3 L405.2,236.6 L405.7,236.5 L406.2,236.4 L406.7,236.2 L407.2,236.4 L407.7,236.3 L408.2,236.2 L408.7,236.1 L409.2,236.2 L409.7,236.1 L410.2,236.2 L410.7,236.1 L411.2,236.1 L411.7,236.0 L412.2,236.2 L412.7,236.1 L413.2,236.1 L413.7,236.1 L414.2,236.1 L414.7,236.1 L415.2,235.9 L415.7,235.9 L416.2,236.0 L416.7,236.1 L417.2,236.2 L417.7,236.1 L418.2,236.1 L418.7,236.3 L419.2,236.1 L419.7,236.0 L420.2,236.1 L420.7,236.2 L421.2,236.3 L421.7,236.4 L422.2,236.3 L422.7,236.4 L423.2,236.4 L423.7,236.3 L424.2,236.4 L424.7,236.5 L425.2,236.5 L425.7,236.3 L426.2,236.4 L426.7,236.5 L427.2,236.7 L427.7,236.4 L428.2,236.4 L428.7,236.5 L429.2,236.5 L429.7,236.4 L430.2,236.5 L430.7,236.5 L431.2,236.3 L431.7,236.5 L432.2,236.6 L432.7,236.6 L433.2,236.6 L433.7,236.5 L434.2,236.3 L434.7,236.6 L435.2,236.6 L435.7,236.4 L436.2,236.6 L436.7,236.6 L437.2,236.5 L437.7,236.2 L438.2,236.4 L438.7,236.4 L439.2,236.4 L439.7,236.4 L440.2,236.3 L440.7,236.5 L441.2,236.6 L441.7,236.3 L442.2,236.5 L442.7,236.4 L443.2,236.5 L443.7,236.4 L444.2,236.5 L444.7,236.3 L445.2,236.5 L445.7,236.3 L446.2,236.4 L446.7,236.4 L447.2,236.5 L447.7,236.2 L448.2,236.2 L448.7,236.5 L449.2,236.4 L449.7,236.5 L450.2,236.2 L450.7,236.3 L451.2,236.4 L451.7,236.5 L452.2,236.3 L452.7,236.2 L453.2,236.3 L453.7,236.2 L454.2,236.1 L454.7,236.3 L455.2,236.0 L455.7,236.1 L456.2,236.3 L456.7,236.1 L457.2,236.1 L457.7,236.1 L458.2,236.2 L458.7,236.1 L459.2,235.9 L459.7,235.9 L460.2,236.1 L460.7,235.9 L461.2,235.9 L461.7,236.0 L462.2,236.0 L462.7,236.1 L463.2,235.7 L463.7,235.7 L464.2,235.7 L464.7,235.8 L465.2,235.7 L465.7,235.8 L466.2,235.4 L466.7,235.7 L467.2,235.5 L467.7,235.5 L468.2,235.5 L468.7,235.4 L469.2,235.3 L469.7,235.4 L470.2,235.3 L470.7,235.1 L471.2,235.2 L471.7,235.0 L472.2,234.9 L472.7,234.9 L473.2,234.9 L473.7,234.9 L474.2,234.7 L474.7,234.6 L475.2,234.5 L475.7,234.8 L476.2,234.6 L476.7,234.5 L477.2,234.6 L477.7,234.5 L478.2,234.4 L478.7,234.3 L479.2,234.4 L479.7,234.3 L480.2,234.3 L480.7,234.1 L481.2,234.0 L481.7,233.9 L482.2,233.8 L482.7,233.8 L483.2,233.7 L483.7,233.7 L484.2,233.5 L484.7,233.3 L485.2,233.3 L485.7,233.1 L486.2,233.1 L486.7,232.8 L487.2,232.7 L487.7,232.6 L488.2,232.5 L488.7,232.4 L489.2,232.4 L489.7,232.0 L490.2,231.7 L490.7,231.7 L491.2,231.5 L491.7,231.3 L492.2,231.0 L492.7,231.0 L493.2,230.6 L493.7,230.2 L494.2,230.0 L494.7,229.4 L495.2,229.0 L495.7,228.5 L496.2,228.0 L496.7,227.6 L497.2,226.8 L497.7,226.4 L498.2,225.5 L498.7,225.0 L499.2,224.0 L499.7,223.3 L500.2,222.6 L500.7,221.5 L501.2,220.5 L501.7,219.5 L502.2,218.4 L502.7,217.1 L503.2,215.8 L503.7,214.4 L504.2,212.9 L504.7,211.1 L505.2,209.3 L505.7,207.2 L506.2,204.2 L506.7,201.3 L507.2,198.1 L507.7,194.5 L508.2,190.3 L508.7,186.1 L509.2,182.4 L509.7,178.9 L510.2,175.7 L510.7,173.3 L511.2,170.6 L511.7,168.2 L512.2,166.7 L512.7,166.5 L513.2,167.2 L513.7,168.9 L514.2,171.1 L514.7,173.7 L515.2,176.4 L515.7,180.0 L516.2,183.9 L516.7,187.5 L517.2,190.9 L517.7,194.2 L518.2,197.2 L518.7,200.0 L519.2,203.1 L519.7,205.8 L520.2,208.2 L520.7,210.5 L521.2,212.6 L521.7,214.6 L522.2,216.5 L522.7,218.5 L523.2,220.0 L523.7,221.7 L524.2,223.1 L524.7,224.3 L525.2,225.6 L525.7,226.6 L526.2,227.7 L526.7,228.5 L527.2,229.6 L527.7,230.0 L528.2,230.9 L528.7,231.4 L529.2,231.9 L529.7,232.5 L530.2,232.6 L530.7,233.2 L531.2,233.6 L531.7,233.7 L532.2,233.9 L532.7,234.2 L533.2,234.4 L533.7,234.5 L534.2,234.7 L534.7,234.8 L535.2,234.9 L535.7,235.0 L536.2,235.1 L536.7,235.2 L537.2,235.1 L537.7,235.2 L538.2,235.3 L538.7,235.5 L539.2,235.5 L539.7,235.3 L540.2,235.4 L540.7,235.7 L541.2,235.5 L541.7,235.4 L542.2,235.4 L542.7,235.5 L543.2,235.6 L543.7,235.5 L544.2,235.3 L544.7,235.3 L545.2,235.5 L545.7,235.1 L546.2,235.3 L546.7,235.2 L547.2,235.1 L547.7,235.2 L548.2,235.1 L548.7,234.9 L549.2,234.8 L549.7,234.9 L550.2,234.9 L550.7,235.0 L551.2,234.6 L551.7,234.9 L552.2,234.8 L552.7,234.9 L553.2,234.8 L553.7,234.7 L554.2,234.7 L554.7,234.7 L555.2,234.6 L555.7,234.6 L556.2,234.6 L556.7,234.5 L557.2,234.4 L557.7,234.4 L558.2,234.6 L558.7,234.6 L559.2,234.5 L559.7,234.4 L560.2,234.5 L560.7,234.4 L561.2,234.2 L561.7,234.6 L562.2,234.3 L562.7,234.6 L563.2,234.5 L563.7,234.4 L564.2,234.2 L564.7,234.3 L565.2,234.5 L565.7,234.5 L566.2,234.4 L566.7,234.2 L567.2,234.4 L567.7,234.4 L568.2,234.5 L568.7,234.4 L569.2,234.5 L569.7,234.3 L570.2,234.4 L570.7,234.6 L571.2,234.3 L571.7,234.5 L572.2,234.7 L572.7,234.5 L573.2,234.3 L573.7,234.6 L574.2,234.3 L574.7,234.5 L575.2,234.5 L575.7,234.7 L576.2,234.7 L576.7,234.6 L577.2,234.7 L577.7,234.7 L578.2,234.5 L578.7,234.5 L579.2,234.9 L579.7,234.6 L580.2,234.7 L580.7,234.7 L581.2,234.7 L581.7,234.6 L582.2,234.8 L582.7,234.9 L583.2,235.0 L583.7,234.9 L584.2,234.9 L584.7,235.0 L585.2,235.1 L585.7,235.2 L586.2,235.3 L586.7,235.3 L587.2,235.4 L587.7,235.4 L588.2,235.6 L588.7,235.5 L589.2,235.6 L589.7,235.7 L590.2,235.8 L590.7,235.6 L591.2,235.7 L591.7,235.7 L592.2,235.6 L592.7,236.0 L593.2,236.0 L593.7,235.9 L594.2,236.3 L594.7,236.1 L595.2,236.2 L595.7,236.2 L596.2,236.1 L596.7,235.9 L597.2,236.3 L597.7,236.2 L598.2,236.1 L598.7,236.2 L599.2,236.3 L599.7,236.3 L600.2,236.3 L600.7,236.2 L601.2,236.4 L601.7,236.3 L602.2,236.4 L602.7,236.5 L603.2,236.3 L603.7,236.5 L604.2,236.3 L604.7,236.4 L605.2,236.4 L605.7,236.5 L606.2,236.6 L606.7,236.5 L607.2,236.7 L607.7,236.6 L608.2,236.6 L608.7,236.7 L609.2,236.6 L609.7,236.7 L610.2,236.8 L610.7,236.6 L611.2,236.8 L611.7,236.6 L612.2,236.7 L612.7,236.6 L613.2,236.7 L613.7,236.9 L614.2,236.8 L614.7,236.9 L615.2,236.6 L615.7,236.7 L616.2,236.9 L616.7,236.9 L617.2,236.9 L617.7,236.7 L618.2,236.9 L618.7,236.9 L619.2,236.9 L619.7,236.9 L620.2,236.9 L620.7,236.7 L621.2,236.8 L621.7,236.8 L622.2,236.8 L622.7,236.9 L623.2,237.0 L623.7,236.8 L624.2,236.8 L624.7,236.8 L625.2,236.7 L625.7,236.9 L626.2,236.9 L626.7,236.9 L627.2,236.8 L627.7,236.9 L628.2,236.8 L628.7,237.0 L629.2,236.8 L629.7,237.0 L630.2,236.8 L630.7,236.9 L631.2,236.9 L631.7,236.9 L632.2,237.1 L632.7,236.9 L633.2,236.8 L633.7,237.0 L634.2,236.8 L634.7,236.8 L635.2,236.9 L635.7,236.9 L636.2,237.1 L636.7,236.7 L637.2,236.9 L637.7,237.0 L638.2,236.9 L638.7,236.9 L639.2,237.0 L639.7,236.8 L640.2,236.9 L640.7,237.0 L641.2,236.8 L641.7,236.7 L642.2,236.8 L642.7,236.9 L643.2,236.9 L643.7,237.1 L644.2,237.0 L644.7,236.8 L645.2,237.0 L645.7,237.0 L646.2,237.1 L646.7,236.9 L647.2,236.8 L647.7,236.9 L648.2,237.1 L648.7,237.0 L649.2,237.1 L649.7,237.0 L650.2,236.8 L650.7,236.8 L651.2,237.1 L651.7,236.8 L652.2,236.9 L652.7,236.9 L653.2,236.8 L653.7,236.8 L654.2,236.9 L654.7,237.1 L655.2,236.9 L655.7,236.8 L656.2,236.9 L656.7,237.0 L657.2,236.8 L657.7,236.9 L658.2,236.7 L658.7,237.0 L659.2,237.0 L659.7,237.0 L660.2,236.8 L660.7,237.1 L661.2,237.0 L661.7,236.9 L662.2,236.9 L662.7,236.9 L663.2,236.8 L663.7,237.0 L664.2,236.8 L664.7,236.8 L665.2,237.0 L665.7,236.9 L666.2,236.8 L666.7,236.9 L667.2,236.9 L667.7,237.0 L668.2,237.0 L668.7,236.8 L669.2,236.9 L669.7,237.0 L670.2,236.9 L670.7,237.1 L671.2,236.9" fill="none" stroke="#ff0000" stroke-width="1.75" stroke-linejoin="round"/>
<path d="M388.2,235.4 L388.7,235.1 L389.2,235.5 L389.7,235.4 L390.2,235.5 L390.7,235.5 L391.2,235.6 L391.7,235.5 L392.2,235.7 L392.7,235.6 L393.2,235.5 L393.7,235.5 L394.2,235.7 L394.7,235.7 L395.2,235.4 L395.7,235.4 L396.2,235.8 L396.7,235.6 L397.2,235.9 L397.7,235.2 L398.2,235.3 L398.7,235.1 L399.2,235.1 L399.7,235.0 L400.2,234.9 L400.7,234.4 L401.2,234.5 L401.7,234.0 L402.2,234.0 L402.7,233.8 L403.2,233.6 L403.7,233.1 L404.2,233.2 L404.7,232.7 L405.2,232.5 L405.7,232.3 L406.2,232.0 L406.7,232.0 L407.2,231.8 L407.7,231.6 L408.2,231.6 L408.7,231.1 L409.2,231.0 L409.7,230.8 L410.2,230.8 L410.7,230.5 L411.2,230.6 L411.7,230.5 L412.2,230.2 L412.7,230.3 L413.2,230.2 L413.7,230.4 L414.2,230.4 L414.7,230.6 L415.2,230.5 L415.7,230.6 L416.2,230.8 L416.7,230.7 L417.2,230.5 L417.7,230.7 L418.2,230.8 L418.7,231.1 L419.2,230.9 L419.7,230.9 L420.2,231.1 L420.7,231.2 L421.2,231.2 L421.7,231.3 L422.2,231.3 L422.7,231.4 L423.2,231.5 L423.7,231.8 L424.2,231.7 L424.7,232.0 L425.2,232.1 L425.7,232.3 L426.2,231.9 L426.7,232.2 L427.2,232.3 L427.7,232.5 L428.2,232.7 L428.7,233.0 L429.2,232.9 L429.7,233.0 L430.2,232.9 L430.7,232.9 L431.2,233.0 L431.7,232.7 L432.2,233.2 L432.7,233.1 L433.2,233.3 L433.7,233.1 L434.2,233.1 L434.7,233.2 L435.2,233.3 L435.7,233.4 L436.2,233.3 L436.7,233.4 L437.2,233.5 L437.7,233.3 L438.2,233.4 L438.7,233.2 L439.2,233.3 L439.7,233.5 L440.2,233.2 L440.7,233.5 L441.2,233.3 L441.7,233.3 L442.2,233.2 L442.7,233.2 L443.2,233.2 L443.7,233.0 L444.2,232.9 L444.7,232.8 L445.2,233.1 L445.7,232.8 L446.2,232.7 L446.7,232.6 L447.2,232.4 L447.7,232.4 L448.2,232.4 L448.7,232.2 L449.2,232.0 L449.7,232.1 L450.2,231.9 L450.7,231.7 L451.2,231.6 L451.7,231.3 L452.2,231.4 L452.7,231.0 L453.2,230.9 L453.7,230.8 L454.2,230.6 L454.7,230.4 L455.2,230.6 L455.7,230.4 L456.2,229.8 L456.7,229.9 L457.2,229.6 L457.7,229.6 L458.2,229.3 L458.7,229.3 L459.2,229.2 L459.7,229.1 L460.2,228.9 L460.7,228.5 L461.2,228.5 L461.7,228.2 L462.2,228.0 L462.7,227.8 L463.2,227.5 L463.7,227.6 L464.2,227.1 L464.7,227.2 L465.2,227.1 L465.7,226.8 L466.2,226.4 L466.7,226.4 L467.2,226.4 L467.7,226.2 L468.2,226.1 L468.7,225.5 L469.2,225.6 L469.7,225.3 L470.2,225.3 L470.7,224.8 L471.2,224.8 L471.7,224.7 L472.2,224.4 L472.7,224.2 L473.2,224.0 L473.7,224.1 L474.2,223.6 L474.7,223.5 L475.2,223.4 L475.7,223.2 L476.2,223.3 L476.7,222.9 L477.2,222.6 L477.7,222.6 L478.2,222.4 L478.7,222.2 L479.2,221.9 L479.7,221.8 L480.2,221.4 L480.7,221.1 L481.2,221.0 L481.7,220.7 L482.2,220.7 L482.7,220.6 L483.2,220.2 L483.7,219.8 L484.2,219.5 L484.7,219.1 L485.2,218.7 L485.7,218.7 L486.2,218.1 L486.7,218.0 L487.2,217.6 L487.7,217.3 L488.2,216.9 L488.7,216.5 L489.2,216.0 L489.7,215.4 L490.2,215.1 L490.7,214.8 L491.2,214.3 L491.7,213.8 L492.2,212.9 L492.7,212.4 L493.2,211.9 L493.7,211.1 L494.2,210.8 L494.7,209.7 L495.2,208.7 L495.7,207.9 L496.2,207.1 L496.7,205.6 L497.2,204.8 L497.7,203.4 L498.2,202.5 L498.7,200.9 L499.2,199.3 L499.7,197.5 L500.2,195.8 L500.7,193.6 L501.2,191.8 L501.7,189.9 L502.2,187.1 L502.7,184.3 L503.2,181.2 L503.7,177.9 L504.2,173.6 L504.7,168.9 L505.2,164.1 L505.7,158.1 L506.2,151.9 L506.7,146.2 L507.2,140.2 L507.7,135.1 L508.2,130.6 L508.7,126.7 L509.2,123.3 L509.7,120.1 L510.2,117.7 L510.7,115.7 L511.2,114.1 L511.7,112.8 L512.2,111.6 L512.7,111.5 L513.2,112.1 L513.7,113.0 L514.2,114.5 L514.7,115.5 L515.2,118.2 L515.7,121.0 L516.2,123.8 L516.7,127.6 L517.2,131.6 L517.7,135.6 L518.2,139.3 L518.7,143.1 L519.2,147.0 L519.7,151.2 L520.2,155.1 L520.7,159.1 L521.2,162.7 L521.7,166.4 L522.2,170.2 L522.7,174.0 L523.2,177.9 L523.7,181.4 L524.2,185.0 L524.7,188.4 L525.2,191.7 L525.7,195.1 L526.2,198.4 L526.7,201.6 L527.2,204.5 L527.7,207.5 L528.2,210.1 L528.7,212.6 L529.2,215.2 L529.7,217.4 L530.2,219.2 L530.7,220.8 L531.2,222.4 L531.7,224.1 L532.2,225.0 L532.7,226.5 L533.2,227.1 L533.7,228.0 L534.2,228.9 L534.7,229.5 L535.2,230.3 L535.7,230.6 L536.2,230.9 L536.7,231.2 L537.2,231.3 L537.7,231.4 L538.2,231.8 L538.7,231.9 L539.2,231.9 L539.7,231.5 L540.2,231.7 L540.7,231.3 L541.2,231.2 L541.7,231.1 L542.2,231.0 L542.7,230.2 L543.2,230.1 L543.7,230.1 L544.2,229.8 L544.7,229.4 L545.2,228.8 L545.7,228.9 L546.2,228.5 L546.7,227.8 L547.2,228.1 L547.7,227.1 L548.2,227.0 L548.7,226.7 L549.2,226.4 L549.7,226.2 L550.2,225.7 L550.7,225.4 L551.2,225.2 L551.7,224.6 L552.2,224.5 L552.7,224.6 L553.2,223.9 L553.7,223.7 L554.2,223.7 L554.7,223.3 L555.2,223.0 L555.7,222.8 L556.2,222.5 L556.7,222.3 L557.2,222.4 L557.7,222.2 L558.2,222.4 L558.7,222.1 L559.2,222.0 L559.7,222.1 L560.2,222.0 L560.7,221.9 L561.2,221.8 L561.7,222.0 L562.2,222.0 L562.7,222.1 L563.2,221.9 L563.7,221.7 L564.2,222.0 L564.7,222.3 L565.2,222.0 L565.7,222.0 L566.2,222.1 L566.7,221.8 L567.2,222.2 L567.7,222.3 L568.2,222.2 L568.7,222.6 L569.2,222.4 L569.7,222.4 L570.2,222.6 L570.7,222.8 L571.2,223.0 L571.7,222.9 L572.2,222.8 L572.7,222.7 L573.2,222.7 L573.7,222.9 L574.2,222.7 L574.7,222.8 L575.2,222.9 L575.7,222.7 L576.2,222.7 L576.7,222.9 L577.2,222.8 L577.7,222.8 L578.2,222.8 L578.7,222.9 L579.2,223.2 L579.7,223.2 L580.2,223.0 L580.7,223.3 L581.2,223.5 L581.7,223.7 L582.2,223.7 L582.7,224.1 L583.2,224.3 L583.7,224.4 L584.2,224.8 L584.7,224.7 L585.2,225.1 L585.7,225.7 L586.2,226.1 L586.7,226.4 L587.2,226.8 L587.7,227.2 L588.2,227.8 L588.7,228.1 L589.2,228.4 L589.7,228.7 L590.2,229.3 L590.7,229.6 L591.2,230.0 L591.7,230.2 L592.2,230.5 L592.7,231.0 L593.2,231.2 L593.7,231.8 L594.2,232.0 L594.7,231.9 L595.2,232.5 L595.7,232.9 L596.2,233.1 L596.7,233.1 L597.2,233.3 L597.7,233.7 L598.2,233.9 L598.7,234.0 L599.2,234.0 L599.7,234.1 L600.2,234.5 L600.7,234.5 L601.2,234.6 L601.7,234.9 L602.2,235.0 L602.7,234.7 L603.2,235.0 L603.7,235.3 L604.2,235.2 L604.7,235.3 L605.2,235.5 L605.7,235.3 L606.2,235.4 L606.7,235.6 L607.2,235.9 L607.7,235.8 L608.2,235.8 L608.7,236.0 L609.2,235.8 L609.7,235.8 L610.2,235.7 L610.7,236.0 L611.2,236.1 L611.7,236.1 L612.2,236.1 L612.7,236.1 L613.2,236.3 L613.7,236.1 L614.2,236.0 L614.7,236.4 L615.2,236.1 L615.7,236.3 L616.2,236.2 L616.7,236.4 L617.2,236.3 L617.7,236.4 L618.2,236.3 L618.7,236.3 L619.2,236.3 L619.7,236.4 L620.2,236.2 L620.7,236.5 L621.2,236.3 L621.7,236.3 L622.2,236.3 L622.7,236.4 L623.2,236.6 L623.7,236.5 L624.2,236.4 L624.7,236.3 L625.2,236.7 L625.7,236.4 L626.2,236.5 L626.7,236.4 L627.2,236.7 L627.7,236.5 L628.2,236.5 L628.7,236.5 L629.2,236.4 L629.7,236.4 L630.2,236.5 L630.7,236.2 L631.2,236.7 L631.7,236.8 L632.2,236.4 L632.7,236.6 L633.2,236.4 L633.7,236.6 L634.2,236.6 L634.7,236.7 L635.2,236.4 L635.7,236.5 L636.2,236.5 L636.7,236.6 L637.2,236.9 L637.7,236.6 L638.2,236.6 L638.7,236.6 L639.2,236.8 L639.7,237.0 L640.2,236.8 L640.7,236.9 L641.2,236.5 L641.7,236.8 L642.2,236.7 L642.7,236.8 L643.2,236.8 L643.7,236.8 L644.2,236.5 L644.7,236.7 L645.2,236.6 L645.7,236.8 L646.2,236.7 L646.7,236.9 L647.2,236.5 L647.7,236.6 L648.2,236.7 L648.7,236.8 L649.2,236.7 L649.7,236.7 L650.2,236.8 L650.7,236.9 L651.2,236.7 L651.7,236.8 L652.2,236.5 L652.7,236.4 L653.2,236.6 L653.7,236.8 L654.2,236.5 L654.7,236.8 L655.2,236.8 L655.7,236.8 L656.2,236.7 L656.7,236.7 L657.2,236.9 L657.7,236.8 L658.2,236.8 L658.7,236.7 L659.2,236.8 L659.7,237.0 L660.2,236.8 L660.7,236.8 L661.2,236.7 L661.7,236.8 L662.2,236.7 L662.7,236.7 L663.2,236.9 L663.7,236.8 L664.2,236.6 L664.7,236.8 L665.2,237.1 L665.7,236.8 L666.2,236.7 L666.7,236.7 L667.2,237.0 L667.7,236.9 L668.2,236.9 L668.7,236.9 L669.2,236.9 L669.7,237.1 L670.2,237.0 L670.7,236.9 L671.2,236.7" fill="none" stroke="#0000ff" stroke-width="1.75" stroke-linejoin="round"/>
<path d="M388.2,200.3 L388.7,200.4 L389.2,200.2 L389.7,199.9 L390.2,200.0 L390.7,200.2 L391.2,199.8 L391.7,199.9 L392.2,200.0 L392.7,200.0 L393.2,199.5 L393.7,199.4 L394.2,199.7 L394.7,199.6 L395.2,199.4 L395.7,199.4 L396.2,199.2 L396.7,199.3 L397.2,198.6 L397.7,198.8 L398.2,198.4 L398.7,198.2 L399.2,197.9 L399.7,197.7 L400.2,197.6 L400.7,197.3 L401.2,197.3 L401.7,196.7 L402.2,196.5 L402.7,196.2 L403.2,195.9 L403.7,195.7 L404.2,195.1 L404.7,194.7 L405.2,194.3 L405.7,193.9 L406.2,193.5 L406.7,193.2 L407.2,192.7 L407.7,192.4 L408.2,192.1 L408.7,192.0 L409.2,191.6 L409.7,191.7 L410.2,191.3 L410.7,191.3 L411.2,191.3 L411.7,190.9 L412.2,190.8 L412.7,190.5 L413.2,190.7 L413.7,190.6 L414.2,190.7 L414.7,190.5 L415.2,190.7 L415.7,191.0 L416.2,190.8 L416.7,190.8 L417.2,190.7 L417.7,191.0 L418.2,191.2 L418.7,191.3 L419.2,191.2 L419.7,191.3 L420.2,191.4 L420.7,191.5 L421.2,191.8 L421.7,192.1 L422.2,192.5 L422.7,192.5 L423.2,192.9 L423.7,192.7 L424.2,193.4 L424.7,193.6 L425.2,193.8 L425.7,194.1 L426.2,194.4 L426.7,194.8 L427.2,194.9 L427.7,194.7 L428.2,194.9 L428.7,195.6 L429.2,195.5 L429.7,195.9 L430.2,195.8 L430.7,195.9 L431.2,196.2 L431.7,196.4 L432.2,196.6 L432.7,196.6 L433.2,196.9 L433.7,197.1 L434.2,197.0 L434.7,197.1 L435.2,197.1 L435.7,197.4 L436.2,197.5 L436.7,197.5 L437.2,197.6 L437.7,197.7 L438.2,197.7 L438.7,197.9 L439.2,197.9 L439.7,197.9 L440.2,198.0 L440.7,197.7 L441.2,198.0 L441.7,198.0 L442.2,197.8 L442.7,197.9 L443.2,198.1 L443.7,198.0 L444.2,197.8 L444.7,197.9 L445.2,198.2 L445.7,198.1 L446.2,197.9 L446.7,198.0 L447.2,197.6 L447.7,197.6 L448.2,197.7 L448.7,197.3 L449.2,197.1 L449.7,197.2 L450.2,197.2 L450.7,196.5 L451.2,196.7 L451.7,196.4 L452.2,196.4 L452.7,196.1 L453.2,196.5 L453.7,195.8 L454.2,195.7 L454.7,195.4 L455.2,195.1 L455.7,195.0 L456.2,194.8 L456.7,194.8 L457.2,194.4 L457.7,194.3 L458.2,193.7 L458.7,193.7 L459.2,193.4 L459.7,192.9 L460.2,193.5 L460.7,192.6 L461.2,192.5 L461.7,192.0 L462.2,191.8 L462.7,191.5 L463.2,191.5 L463.7,191.0 L464.2,190.8 L464.7,190.6 L465.2,190.1 L465.7,190.1 L466.2,189.8 L466.7,189.6 L467.2,189.2 L467.7,189.0 L468.2,188.8 L468.7,188.6 L469.2,188.1 L469.7,188.1 L470.2,187.6 L470.7,187.5 L471.2,187.4 L471.7,187.2 L472.2,186.7 L472.7,186.8 L473.2,186.8 L473.7,186.8 L474.2,186.4 L474.7,186.6 L475.2,186.0 L475.7,186.2 L476.2,186.1 L476.7,185.9 L477.2,185.8 L477.7,185.8 L478.2,185.4 L478.7,185.4 L479.2,185.3 L479.7,185.0 L480.2,184.5 L480.7,184.5 L481.2,184.4 L481.7,184.2 L482.2,184.2 L482.7,183.8 L483.2,184.1 L483.7,183.6 L484.2,183.1 L484.7,183.0 L485.2,183.1 L485.7,182.7 L486.2,182.2 L486.7,182.2 L487.2,181.7 L487.7,181.9 L488.2,181.1 L488.7,181.0 L489.2,180.6 L489.7,180.1 L490.2,179.7 L490.7,179.5 L491.2,178.9 L491.7,178.3 L492.2,177.8 L492.7,177.4 L493.2,176.6 L493.7,175.8 L494.2,175.0 L494.7,173.8 L495.2,172.9 L495.7,171.5 L496.2,170.2 L496.7,168.3 L497.2,166.7 L497.7,164.7 L498.2,162.9 L498.7,160.3 L499.2,157.9 L499.7,155.6 L500.2,153.0 L500.7,150.5 L501.2,148.1 L501.7,145.5 L502.2,142.2 L502.7,139.5 L503.2,136.8 L503.7,133.9 L504.2,130.7 L504.7,127.7 L505.2,124.5 L505.7,121.6 L506.2,117.8 L506.7,114.3 L507.2,110.8 L507.7,107.3 L508.2,104.2 L508.7,101.0 L509.2,98.6 L509.7,96.0 L510.2,93.9 L510.7,92.2 L511.2,90.6 L511.7,89.1 L512.2,87.8 L512.7,87.3 L513.2,87.5 L513.7,88.0 L514.2,88.7 L514.7,89.5 L515.2,90.5 L515.7,91.8 L516.2,93.0 L516.7,93.9 L517.2,95.6 L517.7,97.2 L518.2,98.9 L518.7,101.4 L519.2,103.8 L519.7,106.7 L520.2,109.3 L520.7,112.1 L521.2,114.9 L521.7,118.4 L522.2,121.8 L522.7,125.0 L523.2,128.7 L523.7,132.0 L524.2,135.0 L524.7,138.6 L525.2,142.0 L525.7,145.4 L526.2,148.7 L526.7,152.2 L527.2,156.4 L527.7,161.9 L528.2,167.7 L528.7,172.4 L529.2,177.1 L529.7,181.3 L530.2,186.2 L530.7,191.0 L531.2,195.4 L531.7,198.5 L532.2,201.4 L532.7,203.6 L533.2,205.6 L533.7,207.1 L534.2,208.6 L534.7,209.8 L535.2,210.5 L535.7,211.3 L536.2,212.1 L536.7,212.5 L537.2,212.7 L537.7,213.1 L538.2,213.4 L538.7,213.1 L539.2,213.3 L539.7,213.2 L540.2,213.1 L540.7,212.9 L541.2,212.4 L541.7,212.2 L542.2,212.5 L542.7,211.9 L543.2,211.9 L543.7,211.5 L544.2,210.9 L544.7,210.2 L545.2,210.1 L545.7,209.3 L546.2,208.9 L546.7,208.4 L547.2,207.9 L547.7,207.4 L548.2,206.5 L548.7,206.0 L549.2,205.7 L549.7,205.1 L550.2,204.7 L550.7,204.0 L551.2,203.4 L551.7,203.1 L552.2,202.5 L552.7,201.9 L553.2,201.3 L553.7,200.5 L554.2,200.1 L554.7,199.6 L555.2,199.0 L555.7,198.7 L556.2,198.5 L556.7,197.9 L557.2,197.8 L557.7,197.5 L558.2,197.1 L558.7,196.8 L559.2,196.6 L559.7,196.4 L560.2,196.2 L560.7,195.9 L561.2,195.8 L561.7,196.3 L562.2,195.8 L562.7,195.9 L563.2,195.6 L563.7,195.7 L564.2,195.7 L564.7,195.9 L565.2,195.4 L565.7,195.6 L566.2,195.7 L566.7,195.7 L567.2,195.7 L567.7,195.8 L568.2,195.7 L568.7,196.1 L569.2,196.4 L569.7,196.4 L570.2,196.4 L570.7,196.8 L571.2,196.9 L571.7,196.8 L572.2,197.0 L572.7,197.2 L573.2,197.4 L573.7,197.7 L574.2,197.5 L574.7,197.7 L575.2,197.8 L575.7,197.7 L576.2,197.9 L576.7,198.2 L577.2,198.4 L577.7,198.1 L578.2,198.6 L578.7,198.5 L579.2,198.9 L579.7,199.0 L580.2,199.4 L580.7,199.4 L581.2,199.5 L581.7,199.8 L582.2,200.0 L582.7,200.7 L583.2,201.0 L583.7,201.5 L584.2,201.8 L584.7,202.0 L585.2,202.7 L585.7,203.4 L586.2,204.1 L586.7,204.8 L587.2,205.6 L587.7,206.1 L588.2,206.5 L588.7,207.3 L589.2,207.9 L589.7,208.8 L590.2,209.6 L590.7,210.5 L591.2,211.3 L591.7,212.2 L592.2,213.0 L592.7,213.5 L593.2,214.3 L593.7,214.9 L594.2,215.6 L594.7,216.4 L595.2,216.7 L595.7,217.5 L596.2,218.3 L596.7,218.6 L597.2,219.3 L597.7,219.8 L598.2,220.2 L598.7,220.5 L599.2,221.0 L599.7,221.3 L600.2,222.0 L600.7,222.3 L601.2,222.7 L601.7,222.7 L602.2,223.3 L602.7,223.6 L603.2,224.0 L603.7,224.0 L604.2,224.5 L604.7,224.8 L605.2,225.1 L605.7,224.9 L606.2,225.1 L606.7,225.3 L607.2,225.8 L607.7,226.0 L608.2,226.1 L608.7,226.1 L609.2,226.6 L609.7,226.8 L610.2,226.8 L610.7,226.9 L611.2,227.2 L611.7,227.3 L612.2,227.5 L612.7,227.4 L613.2,227.6 L613.7,227.6 L614.2,227.6 L614.7,227.8 L615.2,227.9 L615.7,228.1 L616.2,228.1 L616.7,228.2 L617.2,228.1 L617.7,228.2 L618.2,228.6 L618.7,228.4 L619.2,228.8 L619.7,228.8 L620.2,228.4 L620.7,228.7 L621.2,228.8 L621.7,228.9 L622.2,228.9 L622.7,228.9 L623.2,229.3 L623.7,229.1 L624.2,229.3 L624.7,229.1 L625.2,229.2 L625.7,229.5 L626.2,229.3 L626.7,229.3 L627.2,229.5 L627.7,229.7 L628.2,229.5 L628.7,229.5 L629.2,229.8 L629.7,229.8 L630.2,229.7 L630.7,229.7 L631.2,229.8 L631.7,230.3 L632.2,229.9 L632.7,230.2 L633.2,230.0 L633.7,230.1 L634.2,229.8 L634.7,230.1 L635.2,230.1 L635.7,230.1 L636.2,230.1 L636.7,230.0 L637.2,230.1 L637.7,230.3 L638.2,230.3 L638.7,230.4 L639.2,230.4 L639.7,230.4 L640.2,230.4 L640.7,230.8 L641.2,230.4 L641.7,230.5 L642.2,230.6 L642.7,230.5 L643.2,230.6 L643.7,230.9 L644.2,230.9 L644.7,230.8 L645.2,231.3 L645.7,231.0 L646.2,231.1 L646.7,230.8 L647.2,231.1 L647.7,231.2 L648.2,231.0 L648.7,231.3 L649.2,231.0 L649.7,231.0 L650.2,231.1 L650.7,231.1 L651.2,231.3 L651.7,231.1 L652.2,231.3 L652.7,231.0 L653.2,231.3 L653.7,231.5 L654.2,231.3 L654.7,231.5 L655.2,231.6 L655.7,231.3 L656.2,231.3 L656.7,231.5 L657.2,231.6 L657.7,231.5 L658.2,231.4 L658.7,231.8 L659.2,231.5 L659.7,231.6 L660.2,231.7 L660.7,231.8 L661.2,231.7 L661.7,231.6 L662.2,232.1 L662.7,231.7 L663.2,231.9 L663.7,231.8 L664.2,231.8 L664.7,231.9 L665.2,231.9 L665.7,232.0 L666.2,231.6 L666.7,232.0 L667.2,232.0 L667.7,231.9 L668.2,232.0 L668.7,232.4 L669.2,232.4 L669.7,232.2 L670.2,232.2 L670.7,232.1 L671.2,232.4" fill="none" stroke="#ff00ff" stroke-width="1.75" stroke-linejoin="round"/>
<line x1="513.5" y1="80.4" x2="513.5" y2="240.5" stroke="#0c0c0c" stroke-width="1.8" stroke-dasharray="7.2 6.0"/>
<line x1="415.0" y1="177.3" x2="415.0" y2="240.5" stroke="#0c0c0c" stroke-width="1.7" stroke-dasharray="32 3.4"/>
<rect x="388.1" y="7.0" width="283.5" height="233.5" fill="none" stroke="#0c0c0c" stroke-width="1.8"/>
<line x1="388.1" y1="240.5" x2="388.1" y2="245.5" stroke="#0c0c0c" stroke-width="1.4"/>
<text x="388.10" y="258.40" font-size="12.4" text-anchor="middle" fill="#0c0c0c" stroke="#0c0c0c" stroke-width="0.298" stroke-linejoin="round" >200</text>
<line x1="435.4" y1="240.5" x2="435.4" y2="245.5" stroke="#0c0c0c" stroke-width="1.4"/>
<text x="435.35" y="258.40" font-size="12.4" text-anchor="middle" fill="#0c0c0c" stroke="#0c0c0c" stroke-width="0.298" stroke-linejoin="round" >300</text>
<line x1="482.6" y1="240.5" x2="482.6" y2="245.5" stroke="#0c0c0c" stroke-width="1.4"/>
<text x="482.60" y="258.40" font-size="12.4" text-anchor="middle" fill="#0c0c0c" stroke="#0c0c0c" stroke-width="0.298" stroke-linejoin="round" >400</text>
<line x1="529.9" y1="240.5" x2="529.9" y2="245.5" stroke="#0c0c0c" stroke-width="1.4"/>
<text x="529.85" y="258.40" font-size="12.4" text-anchor="middle" fill="#0c0c0c" stroke="#0c0c0c" stroke-width="0.298" stroke-linejoin="round" >500</text>
<line x1="577.1" y1="240.5" x2="577.1" y2="245.5" stroke="#0c0c0c" stroke-width="1.4"/>
<text x="577.10" y="258.40" font-size="12.4" text-anchor="middle" fill="#0c0c0c" stroke="#0c0c0c" stroke-width="0.298" stroke-linejoin="round" >600</text>
<line x1="624.4" y1="240.5" x2="624.4" y2="245.5" stroke="#0c0c0c" stroke-width="1.4"/>
<text x="624.35" y="258.40" font-size="12.4" text-anchor="middle" fill="#0c0c0c" stroke="#0c0c0c" stroke-width="0.298" stroke-linejoin="round" >700</text>
<line x1="671.6" y1="240.5" x2="671.6" y2="245.5" stroke="#0c0c0c" stroke-width="1.4"/>
<text x="671.60" y="258.40" font-size="12.4" text-anchor="middle" fill="#0c0c0c" stroke="#0c0c0c" stroke-width="0.298" stroke-linejoin="round" >800</text>
<text x="472.90" y="285.90" font-size="12.9" text-anchor="start" fill="#0c0c0c" stroke="#0c0c0c" stroke-width="0.31" stroke-linejoin="round" >Raman</text>
<text x="519.40" y="285.90" font-size="12.75" text-anchor="start" fill="#0c0c0c" stroke="#0c0c0c" stroke-width="0.306" stroke-linejoin="round" >shift</text>
<text x="549.30" y="285.90" font-size="12.75" text-anchor="start" fill="#0c0c0c" stroke="#0c0c0c" stroke-width="0.306" stroke-linejoin="round" >(cm</text>
<text x="571.90" y="280.20" font-size="10.6" text-anchor="start" fill="#0c0c0c" stroke="#0c0c0c" stroke-width="0.254" stroke-linejoin="round" >-1</text>
<text x="582.30" y="285.90" font-size="12.75" text-anchor="start" fill="#0c0c0c" stroke="#0c0c0c" stroke-width="0.306" stroke-linejoin="round" >)</text>
<text x="366.20" y="126.00" font-size="13.7" text-anchor="middle" fill="#0c0c0c" stroke="#0c0c0c" stroke-width="0.329" stroke-linejoin="round" transform="rotate(-90 366.20 126.00)" letter-spacing="0.04">Relative Intensity (a.u)</text>
<text x="360.10" y="32.20" font-size="18.4" text-anchor="middle" fill="#0c0c0c" stroke="#0c0c0c" stroke-width="0.442" stroke-linejoin="round" >(b)</text>
<line x1="395.3" y1="18.3" x2="424.7" y2="18.3" stroke="#111111" stroke-width="1.6"/>
<text x="427.20" y="21.70" font-size="10.2" text-anchor="start" fill="#0c0c0c" stroke="#0c0c0c" stroke-width="0.245" stroke-linejoin="round" >5GDC</text>
<line x1="455.6" y1="18.3" x2="484.2" y2="18.3" stroke="#ff0000" stroke-width="1.6"/>
<text x="487.50" y="21.70" font-size="10.2" text-anchor="start" fill="#0c0c0c" stroke="#0c0c0c" stroke-width="0.245" stroke-linejoin="round" >10GDC</text>
<line x1="395.3" y1="34.7" x2="424.7" y2="34.7" stroke="#0000ff" stroke-width="1.6"/>
<text x="427.20" y="38.10" font-size="10.2" text-anchor="start" fill="#0c0c0c" stroke="#0c0c0c" stroke-width="0.245" stroke-linejoin="round" >15GDC</text>
<line x1="461.2" y1="34.7" x2="490.5" y2="34.7" stroke="#ff00ff" stroke-width="1.6"/>
<text x="493.30" y="38.10" font-size="10.2" text-anchor="start" fill="#0c0c0c" stroke="#0c0c0c" stroke-width="0.245" stroke-linejoin="round" >20GDC</text>
<text x="415.95" y="171.10" font-size="12.5" text-anchor="middle" fill="#0c0c0c" stroke="#0c0c0c" stroke-width="0.3" stroke-linejoin="round" >255</text>
<text x="475.20" y="154.70" font-size="15.9" text-anchor="middle" fill="#0c0c0c" stroke="#0c0c0c" stroke-width="0.382" stroke-linejoin="round" >375</text>
<text x="515.60" y="75.00" font-size="11.5" text-anchor="middle" fill="#0c0c0c" stroke="#0c0c0c" stroke-width="0.276" stroke-linejoin="round" >463</text>
<line x1="470.6" y1="159.1" x2="470.6" y2="180" stroke="#0c0c0c" stroke-width="1.8"/>
<path d="M467.0,178.0 L470.6,185.8 L474.2,178.0 Z" fill="#0c0c0c"/>
<polygon points="560.10,186.20 560.78,188.27 562.95,188.27 561.19,189.56 561.86,191.63 560.10,190.35 558.34,191.63 559.01,189.56 557.25,188.27 559.42,188.27" fill="#0c0c0c" stroke="#0c0c0c" stroke-width="0.3" stroke-linejoin="round"/>
<polygon points="580.50,187.40 581.18,189.47 583.35,189.47 581.59,190.76 582.26,192.83 580.50,191.55 578.74,192.83 579.41,190.76 577.65,189.47 579.82,189.47" fill="#0c0c0c" stroke="#0c0c0c" stroke-width="0.3" stroke-linejoin="round"/>
<path d="M552.4,104.1 L552.7,104.1 L553.0,104.1 L553.3,104.1 L553.7,104.1 L554.0,104.1 L554.3,104.1 L554.6,104.1 L554.9,104.1 L555.2,104.1 L555.5,104.1 L555.8,104.1 L556.2,104.1 L556.5,104.1 L556.8,104.1 L557.1,104.1 L557.4,104.1 L557.7,104.1 L558.0,104.1 L558.3,104.1 L558.7,104.1 L559.0,104.1 L559.3,104.1 L559.6,104.1 L559.9,104.1 L560.2,104.1 L560.5,104.1 L560.8,104.1 L561.2,104.1 L561.5,104.1 L561.8,104.1 L562.1,104.1 L562.4,104.1 L562.7,104.1 L563.0,104.1 L563.3,104.1 L563.7,104.1 L564.0,104.1 L564.3,104.1 L564.6,104.1 L564.9,104.1 L565.2,104.1 L565.5,104.1 L565.8,104.1 L566.2,104.1 L566.5,104.0 L566.8,104.0 L567.1,104.0 L567.4,104.0 L567.7,104.0 L568.0,104.0 L568.3,104.0 L568.7,104.0 L569.0,104.0 L569.3,104.0 L569.6,104.0 L569.9,104.0 L570.2,104.0 L570.5,104.0 L570.8,104.0 L571.2,104.0 L571.5,104.0 L571.8,104.0 L572.1,104.0 L572.4,104.0 L572.7,104.0 L573.0,103.9 L573.3,103.9 L573.7,103.9 L574.0,103.9 L574.3,103.9 L574.6,103.9 L574.9,103.9 L575.2,103.9 L575.5,103.9 L575.9,103.9 L576.2,103.9 L576.5,103.8 L576.8,103.8 L577.1,103.8 L577.4,103.8 L577.7,103.8 L578.0,103.8 L578.4,103.8 L578.7,103.7 L579.0,103.7 L579.3,103.7 L579.6,103.7 L579.9,103.7 L580.2,103.7 L580.5,103.6 L580.9,103.6 L581.2,103.6 L581.5,103.6 L581.8,103.5 L582.1,103.5 L582.4,103.5 L582.7,103.4 L583.0,103.4 L583.4,103.3 L583.7,103.3 L584.0,103.2 L584.3,103.2 L584.6,103.1 L584.9,103.1 L585.2,103.0 L585.5,102.9 L585.9,102.9 L586.2,102.8 L586.5,102.7 L586.8,102.6 L587.1,102.4 L587.4,102.3 L587.7,102.1 L588.0,102.0 L588.4,101.8 L588.7,101.5 L589.0,101.2 L589.3,100.9 L589.6,100.4 L589.9,99.7 L590.2,98.9 L590.5,97.7 L590.9,96.1 L591.2,94.0 L591.5,91.1 L591.8,87.5 L592.1,83.1 L592.4,77.8 L592.7,71.9 L593.0,65.7 L593.4,59.5 L593.7,54.2 L594.0,50.4 L594.3,49.1 L594.6,50.4 L594.9,54.2 L595.2,59.5 L595.5,65.7 L595.9,71.9 L596.2,77.8 L596.5,83.1 L596.8,87.5 L597.1,91.1 L597.4,94.0 L597.7,96.1 L598.0,97.7 L598.4,98.9 L598.7,99.7 L599.0,100.4 L599.3,100.9 L599.6,101.2 L599.9,101.5 L600.2,101.8 L600.6,102.0 L600.9,102.1 L601.2,102.3 L601.5,102.4 L601.8,102.6 L602.1,102.7 L602.4,102.8 L602.7,102.9 L603.1,102.9 L603.4,103.0 L603.7,103.1 L604.0,103.1 L604.3,103.2 L604.6,103.2 L604.9,103.3 L605.2,103.3 L605.6,103.4 L605.9,103.4 L606.2,103.5 L606.5,103.5 L606.8,103.5 L607.1,103.6 L607.4,103.6 L607.7,103.6 L608.1,103.6 L608.4,103.7 L608.7,103.7 L609.0,103.7 L609.3,103.7 L609.6,103.7 L609.9,103.7 L610.2,103.8 L610.6,103.8 L610.9,103.8 L611.2,103.8 L611.5,103.8 L611.8,103.8 L612.1,103.8 L612.4,103.9 L612.7,103.9 L613.1,103.9 L613.4,103.9 L613.7,103.9 L614.0,103.9 L614.3,103.9 L614.6,103.9 L614.9,103.9 L615.2,103.9 L615.6,103.9 L615.9,104.0 L616.2,104.0 L616.5,104.0 L616.8,104.0 L617.1,104.0 L617.4,104.0 L617.7,104.0 L618.1,104.0 L618.4,104.0 L618.7,104.0 L619.0,104.0 L619.3,104.0 L619.6,104.0 L619.9,104.0 L620.2,104.0 L620.6,104.0 L620.9,104.0 L621.2,104.0 L621.5,104.0 L621.8,104.0 L622.1,104.0 L622.4,104.1 L622.8,104.1 L623.1,104.1 L623.4,104.1 L623.7,104.1 L624.0,104.1 L624.3,104.1 L624.6,104.1 L624.9,104.1 L625.3,104.1 L625.6,104.1 L625.9,104.1 L626.2,104.1 L626.5,104.1 L626.8,104.1 L627.1,104.1 L627.4,104.1 L627.8,104.1 L628.1,104.1 L628.4,104.1 L628.7,104.1 L629.0,104.1 L629.3,104.1 L629.6,104.1 L629.9,104.1 L630.3,104.1 L630.6,104.1 L630.9,104.1 L631.2,104.1 L631.5,104.1 L631.8,104.1 L632.1,104.1 L632.4,104.1 L632.8,104.1 L633.1,104.1 L633.4,104.1 L633.7,104.1 L634.0,104.1 L634.3,104.1 L634.6,104.1 L634.9,104.1 L635.3,104.1 L635.6,104.1 L635.9,104.1 L636.2,104.1 L636.5,104.1 L636.8,104.1 L637.1,104.1 L637.4,104.1 L637.8,104.1 L638.1,104.1 L638.4,104.1 L638.7,104.1 L639.0,104.1 L639.3,104.1 L639.6,104.1 L639.9,104.1 L640.3,104.1 L640.6,104.1 L640.9,104.1 L641.2,104.1 L641.5,104.1 L641.8,104.1 L642.1,104.1 L642.4,104.1 L642.8,104.1 L643.1,104.1 L643.4,104.1 L643.7,104.2 L644.0,104.2 L644.3,104.2 L644.6,104.2 L644.9,104.2 L645.3,104.2 L645.6,104.2 L645.9,104.2 L646.2,104.2" fill="none" stroke="#ff4040" stroke-width="1.0"/>
<rect x="552.4" y="25.1" width="93.80000000000007" height="79.9" fill="none" stroke="#111" stroke-width="0.8"/>
<line x1="552.4" y1="105.0" x2="552.4" y2="106.3" stroke="#111" stroke-width="0.6"/>
<text x="552.40" y="111.40" font-size="4.2" text-anchor="middle" fill="#111" stroke="#111" stroke-width="0.101" stroke-linejoin="round" >200</text>
<line x1="568.0" y1="105.0" x2="568.0" y2="106.3" stroke="#111" stroke-width="0.6"/>
<text x="568.03" y="111.40" font-size="4.2" text-anchor="middle" fill="#111" stroke="#111" stroke-width="0.101" stroke-linejoin="round" >300</text>
<line x1="583.7" y1="105.0" x2="583.7" y2="106.3" stroke="#111" stroke-width="0.6"/>
<text x="583.67" y="111.40" font-size="4.2" text-anchor="middle" fill="#111" stroke="#111" stroke-width="0.101" stroke-linejoin="round" >400</text>
<line x1="599.3" y1="105.0" x2="599.3" y2="106.3" stroke="#111" stroke-width="0.6"/>
<text x="599.30" y="111.40" font-size="4.2" text-anchor="middle" fill="#111" stroke="#111" stroke-width="0.101" stroke-linejoin="round" >500</text>
<line x1="614.9" y1="105.0" x2="614.9" y2="106.3" stroke="#111" stroke-width="0.6"/>
<text x="614.93" y="111.40" font-size="4.2" text-anchor="middle" fill="#111" stroke="#111" stroke-width="0.101" stroke-linejoin="round" >600</text>
<line x1="630.6" y1="105.0" x2="630.6" y2="106.3" stroke="#111" stroke-width="0.6"/>
<text x="630.57" y="111.40" font-size="4.2" text-anchor="middle" fill="#111" stroke="#111" stroke-width="0.101" stroke-linejoin="round" >700</text>
<line x1="646.2" y1="105.0" x2="646.2" y2="106.3" stroke="#111" stroke-width="0.6"/>
<text x="646.20" y="111.40" font-size="4.2" text-anchor="middle" fill="#111" stroke="#111" stroke-width="0.101" stroke-linejoin="round" >800</text>
<text x="599.20" y="119.60" font-size="4.65" text-anchor="middle" fill="#111" stroke="#111" stroke-width="0.112" stroke-linejoin="round" >Raman shift (cm<tspan font-size="3" dy="-1.5">-1</tspan><tspan dy="1.5">)</tspan></text>
<text x="545.60" y="69.00" font-size="4.75" text-anchor="middle" fill="#111" stroke="#111" stroke-width="0.114" stroke-linejoin="round" transform="rotate(-90 545.60 69.00)" >Relative intensity (a.u)</text>
<line x1="608.5" y1="30.9" x2="616.8" y2="30.9" stroke="#ff4040" stroke-width="1.0"/>
<text x="618.00" y="32.50" font-size="4.7" text-anchor="start" fill="#111" stroke="#111" stroke-width="0.113" stroke-linejoin="round" >Pure CeO<tspan font-size="3.6" dy="1.1">2</tspan></text>
<text x="596.40" y="46.40" font-size="6.0" text-anchor="middle" fill="#111" stroke="#111" stroke-width="0.144" stroke-linejoin="round" >F<tspan font-size="3.2" dy="1.2">2g</tspan></text>
</g>
<g id="panel-c">
<path d="M254.7,484.7 L255.2,484.7 L255.7,484.8 L256.2,484.8 L256.7,484.8 L257.2,484.9 L257.7,484.9 L258.2,485.0 L258.7,485.0 L259.2,485.0 L259.7,485.1 L260.2,485.1 L260.7,485.1 L261.2,485.2 L261.7,485.2 L262.2,485.2 L262.7,485.3 L263.2,485.3 L263.7,485.4 L264.2,485.4 L264.7,485.5 L265.2,485.5 L265.7,485.6 L266.2,485.6 L266.7,485.6 L267.2,485.7 L267.7,485.7 L268.2,485.8 L268.7,485.8 L269.2,485.9 L269.7,485.9 L270.2,486.0 L270.7,486.1 L271.2,486.1 L271.7,486.2 L272.2,486.2 L272.7,486.3 L273.2,486.3 L273.7,486.4 L274.2,486.5 L274.7,486.5 L275.2,486.6 L275.7,486.7 L276.2,486.8 L276.7,486.8 L277.2,486.9 L277.7,487.0 L278.2,487.1 L278.7,487.1 L279.2,487.2 L279.7,487.3 L280.2,487.4 L280.7,487.5 L281.2,487.6 L281.7,487.7 L282.2,487.8 L282.7,487.9 L283.2,488.0 L283.7,488.1 L284.2,488.2 L284.7,488.3 L285.2,488.4 L285.7,488.5 L286.2,488.6 L286.7,488.7 L287.2,488.8 L287.7,488.9 L288.2,489.0 L288.7,489.1 L289.2,489.2 L289.7,489.3 L290.2,489.4 L290.7,489.5 L291.2,489.6 L291.7,489.8 L292.2,489.9 L292.7,490.0 L293.2,490.1 L293.7,490.2 L294.2,490.3 L294.7,490.4 L295.2,490.6 L295.7,490.7 L296.2,490.8 L296.7,490.9 L297.2,491.0 L297.7,491.2 L298.2,491.3 L298.7,491.4 L299.2,491.6 L299.7,491.7 L300.2,491.8 L300.7,492.0 L301.2,492.1 L301.7,492.2 L302.2,492.4 L302.7,492.5 L303.2,492.6 L303.7,492.8 L304.2,492.9 L304.7,493.1 L305.2,493.2 L305.7,493.3 L306.2,493.5 L306.7,493.6 L307.2,493.8 L307.7,493.9 L308.2,494.0 L308.7,494.2 L309.2,494.3 L309.7,494.4 L310.2,494.6 L310.7,494.7 L311.2,494.9 L311.7,495.0 L312.2,495.1" fill="none" stroke="#ff0000" stroke-width="1.7" stroke-linecap="round"/>
<path d="M326.4,499.7 L326.9,499.9 L327.4,500.2 L327.9,500.5 L328.4,500.7 L328.9,501.0 L329.4,501.2 L329.9,501.5 L330.4,501.7 L330.9,502.0 L331.4,502.2 L331.9,502.5 L332.4,502.8 L332.9,503.0 L333.4,503.3 L333.9,503.5 L334.4,503.8 L334.9,504.0 L335.4,504.3 L335.9,504.5 L336.4,504.8 L336.9,505.0 L337.4,505.2 L337.9,505.5 L338.4,505.7 L338.9,506.0 L339.4,506.2 L339.9,506.4 L340.4,506.6 L340.9,506.9 L341.4,507.1 L341.9,507.3 L342.4,507.5 L342.9,507.8 L343.4,508.0 L343.9,508.2 L344.4,508.4 L344.9,508.6 L345.4,508.8 L345.9,509.1 L346.4,509.3 L346.9,509.5 L347.4,509.7 L347.9,509.9 L348.4,510.1 L348.9,510.3 L349.4,510.5 L349.9,510.7 L350.4,510.9 L350.9,511.0 L351.4,511.2 L351.9,511.4 L352.4,511.5 L352.9,511.7 L353.4,511.9 L353.9,512.0 L354.4,512.2 L354.9,512.3 L355.4,512.5 L355.9,512.6 L356.4,512.7 L356.9,512.9 L357.4,513.0 L357.9,513.1 L358.4,513.3 L358.9,513.4 L359.4,513.5 L359.9,513.6 L360.4,513.7 L360.9,513.8 L361.4,513.9 L361.9,514.0 L362.4,514.1 L362.9,514.1 L363.4,514.2 L363.9,514.3 L364.4,514.4 L364.9,514.4 L365.4,514.5 L365.9,514.6 L366.4,514.6 L366.9,514.7 L367.4,514.7 L367.9,514.8 L368.4,514.8 L368.9,514.9 L369.4,514.9 L369.9,514.9 L370.4,514.9 L370.9,514.9 L371.4,514.9 L371.9,514.8 L372.4,514.8 L372.9,514.7 L373.4,514.7 L373.9,514.6 L374.4,514.5 L374.9,514.4 L375.4,514.3 L375.9,514.2 L376.4,514.1 L376.9,514.0 L377.4,513.9 L377.9,513.8 L378.4,513.7 L378.9,513.5 L379.4,513.3 L379.9,513.2 L380.4,513.0 L380.9,512.8 L381.4,512.6 L381.9,512.4 L382.4,512.2 L382.9,511.9 L383.4,511.7 L383.9,511.5 L384.4,511.2 L384.9,510.9 L385.4,510.7 L385.9,510.4" fill="none" stroke="#ff0000" stroke-width="1.7" stroke-linecap="round"/>
<path d="M398.3,501.1 L398.8,500.5 L399.3,499.9 L399.8,499.3 L400.3,498.7 L400.8,498.1 L401.3,497.5 L401.8,496.9 L402.3,496.3 L402.8,495.7 L403.3,495.0 L403.8,494.4 L404.3,493.8 L404.8,493.2 L405.3,492.5 L405.8,491.9 L406.3,491.2 L406.8,490.6 L407.3,489.9 L407.8,489.2 L408.3,488.5 L408.8,487.8 L409.3,487.0 L409.8,486.3 L410.3,485.5 L410.8,484.8 L411.3,484.0 L411.8,483.2 L412.3,482.5 L412.8,481.7 L413.3,480.9 L413.8,480.1 L414.3,479.3 L414.8,478.5 L415.3,477.7 L415.8,476.9 L416.3,476.1 L416.8,475.3 L417.3,474.5 L417.8,473.7 L418.3,472.9 L418.8,472.1 L419.3,471.3 L419.8,470.4 L420.3,469.6 L420.8,468.7 L421.3,467.9 L421.8,467.0 L422.3,466.1 L422.8,465.2 L423.3,464.3 L423.8,463.4 L424.3,462.5 L424.8,461.5 L425.3,460.5 L425.8,459.5 L426.3,458.5 L426.8,457.5 L427.3,456.5 L427.8,455.5 L428.3,454.5 L428.8,453.5 L429.3,452.4 L429.8,451.4 L430.3,450.4 L430.8,449.4 L431.3,448.4 L431.8,447.4 L432.3,446.4 L432.8,445.4 L433.3,444.4 L433.8,443.5 L434.3,442.5 L434.8,441.5 L435.3,440.5 L435.8,439.5 L436.3,438.5 L436.8,437.5 L437.3,436.5 L437.8,435.5 L438.3,434.5 L438.8,433.4 L439.3,432.4 L439.8,431.4 L440.3,430.3 L440.8,429.2 L441.3,428.2 L441.8,427.1 L442.3,426.0 L442.8,424.9 L443.3,423.8 L443.8,422.8 L444.3,421.7 L444.8,420.6 L445.3,419.5 L445.8,418.4 L446.3,417.3 L446.8,416.2 L447.3,415.1 L447.8,414.0 L448.3,412.9 L448.8,411.8 L449.3,410.7 L449.8,409.6 L450.3,408.5 L450.8,407.3 L451.3,406.2 L451.8,405.1 L452.3,404.0 L452.8,402.9 L453.3,401.8 L453.8,400.8 L454.3,399.7 L454.8,398.7 L455.3,397.7 L455.8,396.7 L456.3,395.8 L456.8,394.9 L457.3,394.0 L457.8,393.1 L458.3,392.2 L458.8,391.3 L459.3,390.5 L459.8,389.6 L460.3,388.7" fill="none" stroke="#ff0000" stroke-width="1.7" stroke-linecap="round"/>
<circle cx="248.1" cy="484.2" r="4.45" fill="url(#ball)"/>
<circle cx="319.8" cy="497.2" r="4.45" fill="url(#ball)"/>
<circle cx="392.1" cy="507.2" r="4.45" fill="url(#ball)"/>
<circle cx="464.4" cy="379.5" r="4.45" fill="url(#ball)"/>
<path d="M500.9,312.5 V545.9" fill="none" stroke="#0c0c0c" stroke-width="1.4"/>
<path d="M212.3,312.5 H501.59999999999997" fill="none" stroke="#0c0c0c" stroke-width="1.8"/>
<path d="M212.3,311.6 V545.9 H501.59999999999997" fill="none" stroke="#0c0c0c" stroke-width="2.1"/>
<line x1="212.3" y1="545.9" x2="207.10000000000002" y2="545.9" stroke="#0c0c0c" stroke-width="1.8"/>
<text x="204.30" y="549.50" font-size="12.3" text-anchor="end" fill="#0c0c0c" stroke="#0c0c0c" stroke-width="0.295" stroke-linejoin="round" >20</text>
<line x1="212.3" y1="507.0" x2="207.10000000000002" y2="507.0" stroke="#0c0c0c" stroke-width="1.8"/>
<text x="204.30" y="510.60" font-size="12.3" text-anchor="end" fill="#0c0c0c" stroke="#0c0c0c" stroke-width="0.295" stroke-linejoin="round" >30</text>
<line x1="212.3" y1="468.1" x2="207.10000000000002" y2="468.1" stroke="#0c0c0c" stroke-width="1.8"/>
<text x="204.30" y="471.70" font-size="12.3" text-anchor="end" fill="#0c0c0c" stroke="#0c0c0c" stroke-width="0.295" stroke-linejoin="round" >40</text>
<line x1="212.3" y1="429.2" x2="207.10000000000002" y2="429.2" stroke="#0c0c0c" stroke-width="1.8"/>
<text x="204.30" y="432.80" font-size="12.3" text-anchor="end" fill="#0c0c0c" stroke="#0c0c0c" stroke-width="0.295" stroke-linejoin="round" >50</text>
<line x1="212.3" y1="390.3" x2="207.10000000000002" y2="390.3" stroke="#0c0c0c" stroke-width="1.8"/>
<text x="204.30" y="393.90" font-size="12.3" text-anchor="end" fill="#0c0c0c" stroke="#0c0c0c" stroke-width="0.295" stroke-linejoin="round" >60</text>
<line x1="212.3" y1="351.4" x2="207.10000000000002" y2="351.4" stroke="#0c0c0c" stroke-width="1.8"/>
<text x="204.30" y="355.00" font-size="12.3" text-anchor="end" fill="#0c0c0c" stroke="#0c0c0c" stroke-width="0.295" stroke-linejoin="round" >70</text>
<line x1="212.3" y1="312.5" x2="207.10000000000002" y2="312.5" stroke="#0c0c0c" stroke-width="1.8"/>
<text x="204.30" y="316.10" font-size="12.3" text-anchor="end" fill="#0c0c0c" stroke="#0c0c0c" stroke-width="0.295" stroke-linejoin="round" >80</text>
<line x1="212.3" y1="526.4" x2="209.20000000000002" y2="526.4" stroke="#0c0c0c" stroke-width="1.5"/>
<line x1="212.3" y1="487.5" x2="209.20000000000002" y2="487.5" stroke="#0c0c0c" stroke-width="1.5"/>
<line x1="212.3" y1="448.6" x2="209.20000000000002" y2="448.6" stroke="#0c0c0c" stroke-width="1.5"/>
<line x1="212.3" y1="409.8" x2="209.20000000000002" y2="409.8" stroke="#0c0c0c" stroke-width="1.5"/>
<line x1="212.3" y1="370.9" x2="209.20000000000002" y2="370.9" stroke="#0c0c0c" stroke-width="1.5"/>
<line x1="212.3" y1="332.0" x2="209.20000000000002" y2="332.0" stroke="#0c0c0c" stroke-width="1.5"/>
<line x1="248.0" y1="545.9" x2="248.0" y2="550.9" stroke="#0c0c0c" stroke-width="1.7"/>
<text x="248.00" y="564.10" font-size="12.3" text-anchor="middle" fill="#0c0c0c" stroke="#0c0c0c" stroke-width="0.295" stroke-linejoin="round" >0.05</text>
<line x1="320.2" y1="545.9" x2="320.2" y2="550.9" stroke="#0c0c0c" stroke-width="1.7"/>
<text x="320.20" y="564.10" font-size="12.3" text-anchor="middle" fill="#0c0c0c" stroke="#0c0c0c" stroke-width="0.295" stroke-linejoin="round" >0.1</text>
<line x1="392.4" y1="545.9" x2="392.4" y2="550.9" stroke="#0c0c0c" stroke-width="1.7"/>
<text x="392.40" y="564.10" font-size="12.3" text-anchor="middle" fill="#0c0c0c" stroke="#0c0c0c" stroke-width="0.295" stroke-linejoin="round" >0.15</text>
<line x1="464.6" y1="545.9" x2="464.6" y2="550.9" stroke="#0c0c0c" stroke-width="1.7"/>
<text x="464.60" y="564.10" font-size="12.3" text-anchor="middle" fill="#0c0c0c" stroke="#0c0c0c" stroke-width="0.295" stroke-linejoin="round" >0.2</text>
<text x="356.30" y="585.80" font-size="12.8" text-anchor="middle" fill="#0c0c0c" stroke="#0c0c0c" stroke-width="0.307" stroke-linejoin="round" >Doping concentration (x mol%)</text>
<text x="181.00" y="437.50" font-size="13.05" text-anchor="middle" fill="#0c0c0c" stroke="#0c0c0c" stroke-width="0.313" stroke-linejoin="round" transform="rotate(-90 181.00 437.50)" >Crystallite Size (nm)</text>
<text x="168.20" y="330.60" font-size="18" text-anchor="middle" fill="#0c0c0c" stroke="#0c0c0c" stroke-width="0.432" stroke-linejoin="round" >(c)</text>
</g>
</g></svg></body></html>
